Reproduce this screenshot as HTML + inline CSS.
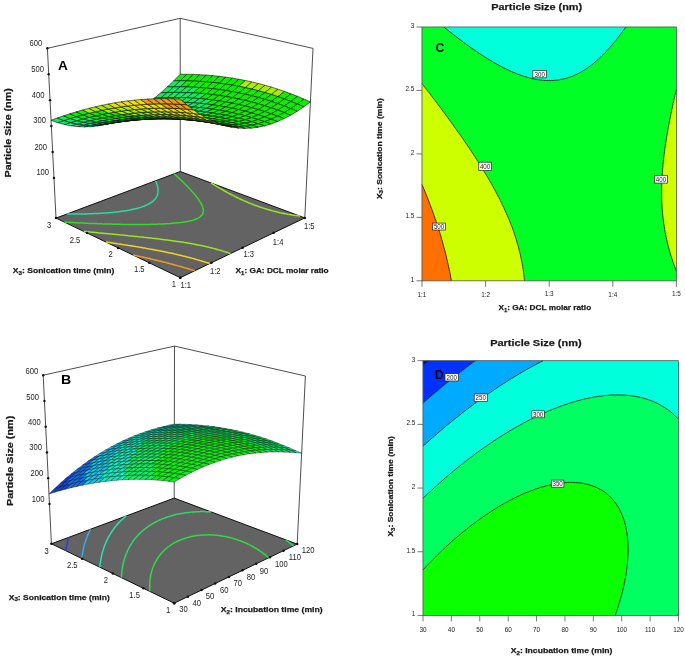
<!DOCTYPE html>
<html><head><meta charset="utf-8"><style>html,body{margin:0;padding:0;background:#fff;}svg{display:block;}</style></head>
<body><svg width="685" height="656" viewBox="0 0 685 656" font-family="Liberation Sans, sans-serif">
<rect width="685" height="656" fill="#fff"/>
<g shape-rendering="geometricPrecision">
<path d="M537.9 79.7L538.8 79.8L540.4 80L542 80.2L543.6 80.4L545.2 80.5L546.8 80.5L548.4 80.6L550 80.6L551.6 80.5L553.2 80.5L554.8 80.3L556.4 80.2L558 80L559.6 79.7L559.9 79.7L561.2 79.4L562.8 79.1L564.4 78.7L566 78.3L566.7 78.1L567.6 77.8L569.2 77.3L570.8 76.8L571.5 76.5L572.4 76.1L574 75.5L575.4 74.9L575.6 74.8L577.2 74L578.7 73.3L578.8 73.2L580.4 72.4L581.6 71.7L582 71.5L583.6 70.5L584.2 70.1L585.2 69.5L586.7 68.5L586.8 68.4L588.4 67.3L589 66.9L590 66.2L591.1 65.3L591.6 65L593.2 63.7L593.2 63.7L594.8 62.4L595.1 62.1L596.4 61L597 60.5L598 59.6L598.7 58.9L599.6 58.1L600.5 57.3L601.2 56.6L602.1 55.7L602.8 55L603.7 54.1L604.4 53.4L605.2 52.5L606 51.8L606.8 50.9L607.6 50L608.2 49.3L609.2 48.3L609.6 47.8L610.8 46.4L611 46.2L612.4 44.6L612.4 44.6L613.7 43L614 42.6L615 41.4L615.6 40.7L616.3 39.8L617.2 38.7L617.6 38.2L618.8 36.6L618.8 36.6L620 35L620.4 34.5L621.2 33.4L622 32.3L622.4 31.8L623.5 30.2L623.6 30.1L624.7 28.6L625.2 27.9L625.8 27L625.2 27L623.6 27L622 27L620.4 27L618.8 27L617.2 27L615.6 27L614 27L612.4 27L610.8 27L609.2 27L607.6 27L606 27L604.4 27L602.8 27L601.2 27L599.6 27L598 27L596.4 27L594.8 27L593.2 27L591.6 27L590 27L588.4 27L586.8 27L585.2 27L583.6 27L582 27L580.4 27L578.8 27L577.2 27L575.6 27L574 27L572.4 27L570.8 27L569.2 27L567.6 27L566 27L564.4 27L562.8 27L561.2 27L559.6 27L558 27L556.4 27L554.8 27L553.2 27L551.6 27L550 27L548.4 27L546.8 27L545.2 27L543.6 27L542 27L540.4 27L538.8 27L537.2 27L535.6 27L534 27L532.4 27L530.8 27L529.2 27L527.6 27L526 27L524.4 27L522.8 27L521.2 27L519.6 27L518 27L516.4 27L514.8 27L513.2 27L511.6 27L510 27L508.4 27L506.8 27L505.2 27L503.6 27L502 27L500.4 27L498.8 27L497.2 27L495.6 27L494 27L492.4 27L490.8 27L489.2 27L487.6 27L486 27L484.4 27L482.8 27L481.2 27L479.6 27L478 27L476.4 27L474.8 27L473.2 27L471.6 27L470 27L468.4 27L466.8 27L465.2 27L463.6 27L462 27L460.4 27L458.8 27L457.2 27L455.6 27L454 27L452.4 27L450.8 27L449.2 27L447.6 27L446 27L444.4 27L443.9 27L444.4 27.4L445.8 28.6L446 28.7L447.6 30L447.8 30.2L449.2 31.3L449.8 31.8L450.8 32.6L451.9 33.4L452.4 33.8L453.9 35L454 35.1L455.6 36.3L456 36.6L457.2 37.5L458.1 38.2L458.8 38.7L460.2 39.8L460.4 40L462 41.2L462.3 41.4L463.6 42.3L464.4 43L465.2 43.5L466.6 44.6L466.8 44.7L468.4 45.8L468.8 46.2L470 47L471.1 47.8L471.6 48.1L473.2 49.2L473.4 49.3L474.8 50.3L475.7 50.9L476.4 51.4L478 52.5L478 52.5L479.6 53.6L480.4 54.1L481.2 54.6L482.8 55.7L482.9 55.7L484.4 56.7L485.4 57.3L486 57.7L487.6 58.7L487.9 58.9L489.2 59.7L490.6 60.5L490.8 60.7L492.4 61.6L493.3 62.1L494 62.5L495.6 63.5L496.1 63.7L497.2 64.4L498.8 65.2L498.9 65.3L500.4 66.1L501.9 66.9L502 66.9L503.6 67.8L505.1 68.5L505.2 68.6L506.8 69.3L508.4 70.1L508.4 70.1L510 70.9L511.6 71.6L511.9 71.7L513.2 72.3L514.8 72.9L515.7 73.3L516.4 73.6L518 74.2L519.6 74.8L519.8 74.9L521.2 75.4L522.8 75.9L524.4 76.4L524.5 76.5L526 76.9L527.6 77.4L529.2 77.8L530.1 78.1L530.8 78.2L532.4 78.6L534 79L535.6 79.3L537.2 79.6Z" fill="#00ffda" stroke="#00ffda" stroke-width="0.3"/>
<path d="M524.4 279.2L524.4 279.3L524.5 280.8L526 280.8L527.6 280.8L529.2 280.8L530.8 280.8L532.4 280.8L534 280.8L535.6 280.8L537.2 280.8L538.8 280.8L540.4 280.8L542 280.8L543.6 280.8L545.2 280.8L546.8 280.8L548.4 280.8L550 280.8L551.6 280.8L553.2 280.8L554.8 280.8L556.4 280.8L558 280.8L559.6 280.8L561.2 280.8L562.8 280.8L564.4 280.8L566 280.8L567.6 280.8L569.2 280.8L570.8 280.8L572.4 280.8L574 280.8L575.6 280.8L577.2 280.8L578.8 280.8L580.4 280.8L582 280.8L583.6 280.8L585.2 280.8L586.8 280.8L588.4 280.8L590 280.8L591.6 280.8L593.2 280.8L594.8 280.8L596.4 280.8L598 280.8L599.6 280.8L601.2 280.8L602.8 280.8L604.4 280.8L606 280.8L607.6 280.8L609.2 280.8L610.8 280.8L612.4 280.8L614 280.8L615.6 280.8L617.2 280.8L618.8 280.8L620.4 280.8L622 280.8L623.6 280.8L625.2 280.8L626.8 280.8L628.4 280.8L630 280.8L631.6 280.8L633.2 280.8L634.8 280.8L636.4 280.8L638 280.8L639.6 280.8L641.2 280.8L642.8 280.8L644.4 280.8L646 280.8L647.6 280.8L649.2 280.8L650.8 280.8L652.4 280.8L654 280.8L655.6 280.8L657.2 280.8L658.8 280.8L660.4 280.8L662 280.8L663.6 280.8L665.2 280.8L666.8 280.8L668.4 280.8L670 280.8L671.6 280.8L673.2 280.8L674.8 280.8L676.4 280.8L676.4 279.2L676.4 277.6L676.4 276L676.4 274.4L676.4 272.8L676.4 271.2L676.4 271.2L675.8 269.6L675.2 268L674.8 267L674.6 266.4L674 264.8L673.4 263.2L673.2 262.5L672.9 261.6L672.4 260L671.8 258.5L671.6 257.7L671.3 256.9L670.8 255.3L670.3 253.7L670 252.5L669.9 252.1L669.4 250.5L669 248.9L668.6 247.3L668.4 246.7L668.1 245.7L667.7 244.1L667.3 242.5L667 240.9L666.8 240.1L666.6 239.3L666.3 237.7L665.9 236.1L665.6 234.5L665.3 232.9L665.2 232.4L665 231.3L664.7 229.7L664.5 228.1L664.2 226.5L664 224.9L663.7 223.3L663.6 222.4L663.5 221.7L663.3 220.1L663.1 218.5L662.9 217L662.8 215.4L662.6 213.8L662.5 212.2L662.3 210.6L662.2 209L662.1 207.4L662 205.8L662 205.4L661.9 204.2L661.9 202.6L661.8 201L661.7 199.4L661.7 197.8L661.7 196.2L661.7 194.6L661.6 193L661.6 191.4L661.7 189.8L661.7 188.2L661.7 186.6L661.7 185L661.8 183.4L661.9 181.8L661.9 180.2L662 178.6L662 178.6L662.1 177L662.2 175.4L662.3 173.9L662.4 172.3L662.5 170.7L662.6 169.1L662.8 167.5L662.9 165.9L663.1 164.3L663.2 162.7L663.4 161.1L663.6 159.5L663.6 159L663.7 157.9L663.9 156.3L664.1 154.7L664.3 153.1L664.5 151.5L664.7 149.9L664.9 148.3L665.2 146.7L665.2 146.5L665.4 145.1L665.6 143.5L665.9 141.9L666.1 140.3L666.4 138.7L666.6 137.1L666.8 136.1L666.9 135.5L667.2 133.9L667.4 132.4L667.7 130.8L668 129.2L668.3 127.6L668.4 126.9L668.6 126L668.9 124.4L669.2 122.8L669.5 121.2L669.8 119.6L670 118.5L670.1 118L670.4 116.4L670.8 114.8L671.1 113.2L671.4 111.6L671.6 110.7L671.7 110L672.1 108.4L672.4 106.8L672.8 105.2L673.1 103.6L673.2 103.3L673.5 102L673.8 100.4L674.2 98.8L674.6 97.2L674.8 96.2L674.9 95.6L675.3 94L675.7 92.4L676 90.8L676.4 89.4L676.4 89.3L676.4 87.7L676.4 86.1L676.4 84.5L676.4 82.9L676.4 81.3L676.4 79.7L676.4 78.1L676.4 76.5L676.4 74.9L676.4 73.3L676.4 71.7L676.4 70.1L676.4 68.5L676.4 66.9L676.4 65.3L676.4 63.7L676.4 62.1L676.4 60.5L676.4 58.9L676.4 57.3L676.4 55.7L676.4 54.1L676.4 52.5L676.4 50.9L676.4 49.3L676.4 47.8L676.4 46.2L676.4 44.6L676.4 43L676.4 41.4L676.4 39.8L676.4 38.2L676.4 36.6L676.4 35L676.4 33.4L676.4 31.8L676.4 30.2L676.4 28.6L676.4 27L674.8 27L673.2 27L671.6 27L670 27L668.4 27L666.8 27L665.2 27L663.6 27L662 27L660.4 27L658.8 27L657.2 27L655.6 27L654 27L652.4 27L650.8 27L649.2 27L647.6 27L646 27L644.4 27L642.8 27L641.2 27L639.6 27L638 27L636.4 27L634.8 27L633.2 27L631.6 27L630 27L628.4 27L626.8 27L625.8 27L625.2 27.9L624.7 28.6L623.6 30.1L623.5 30.2L622.4 31.8L622 32.3L621.2 33.4L620.4 34.5L620 35L618.8 36.6L618.8 36.6L617.6 38.2L617.2 38.7L616.3 39.8L615.6 40.7L615 41.4L614 42.6L613.7 43L612.4 44.6L612.4 44.6L611 46.2L610.8 46.4L609.6 47.8L609.2 48.3L608.2 49.3L607.6 50L606.8 50.9L606 51.8L605.2 52.5L604.4 53.4L603.7 54.1L602.8 55L602.1 55.7L601.2 56.6L600.5 57.3L599.6 58.1L598.7 58.9L598 59.6L597 60.5L596.4 61L595.1 62.1L594.8 62.4L593.2 63.7L593.2 63.7L591.6 65L591.1 65.3L590 66.2L589 66.9L588.4 67.3L586.8 68.4L586.7 68.5L585.2 69.5L584.2 70.1L583.6 70.5L582 71.5L581.6 71.7L580.4 72.4L578.8 73.2L578.7 73.3L577.2 74L575.6 74.8L575.4 74.9L574 75.5L572.4 76.1L571.5 76.5L570.8 76.8L569.2 77.3L567.6 77.8L566.7 78.1L566 78.3L564.4 78.7L562.8 79.1L561.2 79.4L559.9 79.7L559.6 79.7L558 80L556.4 80.2L554.8 80.3L553.2 80.5L551.6 80.5L550 80.6L548.4 80.6L546.8 80.5L545.2 80.5L543.6 80.4L542 80.2L540.4 80L538.8 79.8L537.9 79.7L537.2 79.6L535.6 79.3L534 79L532.4 78.6L530.8 78.2L530.1 78.1L529.2 77.8L527.6 77.4L526 76.9L524.5 76.5L524.4 76.4L522.8 75.9L521.2 75.4L519.8 74.9L519.6 74.8L518 74.2L516.4 73.6L515.7 73.3L514.8 72.9L513.2 72.3L511.9 71.7L511.6 71.6L510 70.9L508.4 70.1L508.4 70.1L506.8 69.3L505.2 68.6L505.1 68.5L503.6 67.8L502 66.9L501.9 66.9L500.4 66.1L498.9 65.3L498.8 65.2L497.2 64.4L496.1 63.7L495.6 63.5L494 62.5L493.3 62.1L492.4 61.6L490.8 60.7L490.6 60.5L489.2 59.7L487.9 58.9L487.6 58.7L486 57.7L485.4 57.3L484.4 56.7L482.9 55.7L482.8 55.7L481.2 54.6L480.4 54.1L479.6 53.6L478 52.5L478 52.5L476.4 51.4L475.7 50.9L474.8 50.3L473.4 49.3L473.2 49.2L471.6 48.1L471.1 47.8L470 47L468.8 46.2L468.4 45.8L466.8 44.7L466.6 44.6L465.2 43.5L464.4 43L463.6 42.3L462.3 41.4L462 41.2L460.4 40L460.2 39.8L458.8 38.7L458.1 38.2L457.2 37.5L456 36.6L455.6 36.3L454 35.1L453.9 35L452.4 33.8L451.9 33.4L450.8 32.6L449.8 31.8L449.2 31.3L447.8 30.2L447.6 30L446 28.7L445.8 28.6L444.4 27.4L443.9 27L442.8 27L441.2 27L439.6 27L438 27L436.4 27L434.8 27L433.2 27L431.6 27L430 27L428.4 27L426.8 27L425.2 27L423.6 27L422 27L422 28.6L422 30.2L422 31.8L422 33.4L422 35L422 36.6L422 38.2L422 39.8L422 41.4L422 43L422 44.6L422 46.2L422 47.8L422 49.3L422 50.9L422 52.5L422 54.1L422 55.7L422 57.3L422 58.9L422 60.5L422 62.1L422 63.7L422 65.3L422 66.9L422 68.5L422 70.1L422 71.7L422 73.3L422 74.9L422 76.5L422 78.1L422 79.7L422 81.3L422 82.9L422 83.6L422.7 84.5L423.6 85.6L423.9 86.1L425.2 87.7L425.2 87.7L426.4 89.3L426.8 89.8L427.6 90.8L428.4 91.8L428.9 92.4L430 93.9L430.1 94L431.3 95.6L431.6 96L432.5 97.2L433.2 98.1L433.7 98.8L434.8 100.2L435 100.4L436.2 102L436.4 102.3L437.4 103.6L438 104.5L438.6 105.2L439.6 106.6L439.8 106.8L441 108.4L441.2 108.7L442.1 110L442.8 110.9L443.3 111.6L444.4 113L444.5 113.2L445.7 114.8L446 115.2L446.9 116.4L447.6 117.4L448 118L449.2 119.6L449.2 119.6L450.4 121.2L450.8 121.8L451.5 122.8L452.4 124L452.7 124.4L453.8 126L454 126.2L455 127.6L455.6 128.5L456.1 129.2L457.2 130.7L457.2 130.8L458.4 132.4L458.8 133L459.5 133.9L460.4 135.2L460.6 135.5L461.7 137.1L462 137.5L462.8 138.7L463.6 139.8L463.9 140.3L465 141.9L465.2 142.2L466.1 143.5L466.8 144.5L467.2 145.1L468.3 146.7L468.4 146.9L469.4 148.3L470 149.3L470.4 149.9L471.5 151.5L471.6 151.7L472.6 153.1L473.2 154.1L473.6 154.7L474.6 156.3L474.8 156.5L475.7 157.9L476.4 159L476.7 159.5L477.7 161.1L478 161.5L478.7 162.7L479.6 164L479.8 164.3L480.8 165.9L481.2 166.6L481.7 167.5L482.7 169.1L482.8 169.2L483.7 170.7L484.4 171.8L484.7 172.3L485.6 173.9L486 174.5L486.6 175.4L487.5 177L487.6 177.2L488.5 178.6L489.2 179.9L489.4 180.2L490.3 181.8L490.8 182.7L491.2 183.4L492.1 185L492.4 185.5L493 186.6L493.9 188.2L494 188.4L494.8 189.8L495.6 191.4L495.6 191.4L496.5 193L497.2 194.4L497.3 194.6L498.1 196.2L498.8 197.5L499 197.8L499.8 199.4L500.4 200.6L500.6 201L501.4 202.6L502 203.9L502.1 204.2L502.9 205.8L503.6 207.2L503.7 207.4L504.4 209L505.1 210.6L505.2 210.7L505.9 212.2L506.6 213.8L506.8 214.3L507.3 215.4L507.9 217L508.4 218L508.6 218.5L509.3 220.1L509.9 221.7L510 222L510.6 223.3L511.2 224.9L511.6 226.1L511.8 226.5L512.4 228.1L513 229.7L513.2 230.4L513.5 231.3L514.1 232.9L514.6 234.5L514.8 235L515.2 236.1L515.7 237.7L516.2 239.3L516.4 240.1L516.7 240.9L517.1 242.5L517.6 244.1L518 245.5L518 245.7L518.5 247.3L518.9 248.9L519.3 250.5L519.6 251.6L519.7 252.1L520.1 253.7L520.5 255.3L520.8 256.9L521.1 258.5L521.2 258.7L521.5 260L521.8 261.6L522.1 263.2L522.4 264.8L522.7 266.4L522.8 267.3L522.9 268L523.2 269.6L523.4 271.2L523.6 272.8L523.8 274.4L524 276L524.2 277.6Z" fill="#00ff24" stroke="#00ff24" stroke-width="0.3"/>
<path d="M451.4 280.8L452.4 280.8L454 280.8L455.6 280.8L457.2 280.8L458.8 280.8L460.4 280.8L462 280.8L463.6 280.8L465.2 280.8L466.8 280.8L468.4 280.8L470 280.8L471.6 280.8L473.2 280.8L474.8 280.8L476.4 280.8L478 280.8L479.6 280.8L481.2 280.8L482.8 280.8L484.4 280.8L486 280.8L487.6 280.8L489.2 280.8L490.8 280.8L492.4 280.8L494 280.8L495.6 280.8L497.2 280.8L498.8 280.8L500.4 280.8L502 280.8L503.6 280.8L505.2 280.8L506.8 280.8L508.4 280.8L510 280.8L511.6 280.8L513.2 280.8L514.8 280.8L516.4 280.8L518 280.8L519.6 280.8L521.2 280.8L522.8 280.8L524.4 280.8L524.5 280.8L524.4 279.3L524.4 279.2L524.2 277.6L524 276L523.8 274.4L523.6 272.8L523.4 271.2L523.2 269.6L522.9 268L522.8 267.3L522.7 266.4L522.4 264.8L522.1 263.2L521.8 261.6L521.5 260L521.2 258.7L521.1 258.5L520.8 256.9L520.5 255.3L520.1 253.7L519.7 252.1L519.6 251.6L519.3 250.5L518.9 248.9L518.5 247.3L518 245.7L518 245.5L517.6 244.1L517.1 242.5L516.7 240.9L516.4 240.1L516.2 239.3L515.7 237.7L515.2 236.1L514.8 235L514.6 234.5L514.1 232.9L513.5 231.3L513.2 230.4L513 229.7L512.4 228.1L511.8 226.5L511.6 226.1L511.2 224.9L510.6 223.3L510 222L509.9 221.7L509.3 220.1L508.6 218.5L508.4 218L507.9 217L507.3 215.4L506.8 214.3L506.6 213.8L505.9 212.2L505.2 210.7L505.1 210.6L504.4 209L503.7 207.4L503.6 207.2L502.9 205.8L502.1 204.2L502 203.9L501.4 202.6L500.6 201L500.4 200.6L499.8 199.4L499 197.8L498.8 197.5L498.1 196.2L497.3 194.6L497.2 194.4L496.5 193L495.6 191.4L495.6 191.4L494.8 189.8L494 188.4L493.9 188.2L493 186.6L492.4 185.5L492.1 185L491.2 183.4L490.8 182.7L490.3 181.8L489.4 180.2L489.2 179.9L488.5 178.6L487.6 177.2L487.5 177L486.6 175.4L486 174.5L485.6 173.9L484.7 172.3L484.4 171.8L483.7 170.7L482.8 169.2L482.7 169.1L481.7 167.5L481.2 166.6L480.8 165.9L479.8 164.3L479.6 164L478.7 162.7L478 161.5L477.7 161.1L476.7 159.5L476.4 159L475.7 157.9L474.8 156.5L474.6 156.3L473.6 154.7L473.2 154.1L472.6 153.1L471.6 151.7L471.5 151.5L470.4 149.9L470 149.3L469.4 148.3L468.4 146.9L468.3 146.7L467.2 145.1L466.8 144.5L466.1 143.5L465.2 142.2L465 141.9L463.9 140.3L463.6 139.8L462.8 138.7L462 137.5L461.7 137.1L460.6 135.5L460.4 135.2L459.5 133.9L458.8 133L458.4 132.4L457.2 130.8L457.2 130.7L456.1 129.2L455.6 128.5L455 127.6L454 126.2L453.8 126L452.7 124.4L452.4 124L451.5 122.8L450.8 121.8L450.4 121.2L449.2 119.6L449.2 119.6L448 118L447.6 117.4L446.9 116.4L446 115.2L445.7 114.8L444.5 113.2L444.4 113L443.3 111.6L442.8 110.9L442.1 110L441.2 108.7L441 108.4L439.8 106.8L439.6 106.6L438.6 105.2L438 104.5L437.4 103.6L436.4 102.3L436.2 102L435 100.4L434.8 100.2L433.7 98.8L433.2 98.1L432.5 97.2L431.6 96L431.3 95.6L430.1 94L430 93.9L428.9 92.4L428.4 91.8L427.6 90.8L426.8 89.8L426.4 89.3L425.2 87.7L425.2 87.7L423.9 86.1L423.6 85.6L422.7 84.5L422 83.6L422 84.5L422 86.1L422 87.7L422 89.3L422 90.8L422 92.4L422 94L422 95.6L422 97.2L422 98.8L422 100.4L422 102L422 103.6L422 105.2L422 106.8L422 108.4L422 110L422 111.6L422 113.2L422 114.8L422 116.4L422 118L422 119.6L422 121.2L422 122.8L422 124.4L422 126L422 127.6L422 129.2L422 130.8L422 132.4L422 133.9L422 135.5L422 137.1L422 138.7L422 140.3L422 141.9L422 143.5L422 145.1L422 146.7L422 148.3L422 149.9L422 151.5L422 153.1L422 154.7L422 156.3L422 157.9L422 159.5L422 161.1L422 162.7L422 164.3L422 165.9L422 167.5L422 169.1L422 170.7L422 172.3L422 173.9L422 175.4L422 177L422 178.6L422 180.2L422 181.8L422 183.4L422 184.6L422.2 185L422.9 186.6L423.5 188.2L423.6 188.3L424.2 189.8L424.9 191.4L425.2 192.2L425.5 193L426.2 194.6L426.8 196.1L426.8 196.2L427.5 197.8L428.1 199.4L428.4 200.2L428.7 201L429.3 202.6L429.9 204.2L430 204.4L430.5 205.8L431.1 207.4L431.6 208.6L431.7 209L432.3 210.6L432.9 212.2L433.2 213L433.5 213.8L434 215.4L434.6 217L434.8 217.6L435.1 218.5L435.7 220.1L436.2 221.7L436.4 222.3L436.7 223.3L437.3 224.9L437.8 226.5L438 227.2L438.3 228.1L438.8 229.7L439.3 231.3L439.6 232.3L439.8 232.9L440.3 234.5L440.8 236.1L441.2 237.6L441.2 237.7L441.7 239.3L442.2 240.9L442.6 242.5L442.8 243.2L443 244.1L443.5 245.7L443.9 247.3L444.3 248.9L444.4 249.1L444.8 250.5L445.2 252.1L445.6 253.7L446 255.3L446 255.4L446.4 256.9L446.7 258.5L447.1 260L447.5 261.6L447.6 262.2L447.8 263.2L448.2 264.8L448.5 266.4L448.9 268L449.2 269.5L449.2 269.6L449.6 271.2L449.9 272.8L450.2 274.4L450.5 276L450.8 277.6L450.8 277.6L451.1 279.2ZM676.4 271.2L676.4 271.2L676.4 271.2L676.4 269.6L676.4 268L676.4 266.4L676.4 264.8L676.4 263.2L676.4 261.6L676.4 260L676.4 258.5L676.4 256.9L676.4 255.3L676.4 253.7L676.4 252.1L676.4 250.5L676.4 248.9L676.4 247.3L676.4 245.7L676.4 244.1L676.4 242.5L676.4 240.9L676.4 239.3L676.4 237.7L676.4 236.1L676.4 234.5L676.4 232.9L676.4 231.3L676.4 229.7L676.4 228.1L676.4 226.5L676.4 224.9L676.4 223.3L676.4 221.7L676.4 220.1L676.4 218.5L676.4 217L676.4 215.4L676.4 213.8L676.4 212.2L676.4 210.6L676.4 209L676.4 207.4L676.4 205.8L676.4 204.2L676.4 202.6L676.4 201L676.4 199.4L676.4 197.8L676.4 196.2L676.4 194.6L676.4 193L676.4 191.4L676.4 189.8L676.4 188.2L676.4 186.6L676.4 185L676.4 183.4L676.4 181.8L676.4 180.2L676.4 178.6L676.4 177L676.4 175.4L676.4 173.9L676.4 172.3L676.4 170.7L676.4 169.1L676.4 167.5L676.4 165.9L676.4 164.3L676.4 162.7L676.4 161.1L676.4 159.5L676.4 157.9L676.4 156.3L676.4 154.7L676.4 153.1L676.4 151.5L676.4 149.9L676.4 148.3L676.4 146.7L676.4 145.1L676.4 143.5L676.4 141.9L676.4 140.3L676.4 138.7L676.4 137.1L676.4 135.5L676.4 133.9L676.4 132.4L676.4 130.8L676.4 129.2L676.4 127.6L676.4 126L676.4 124.4L676.4 122.8L676.4 121.2L676.4 119.6L676.4 118L676.4 116.4L676.4 114.8L676.4 113.2L676.4 111.6L676.4 110L676.4 108.4L676.4 106.8L676.4 105.2L676.4 103.6L676.4 102L676.4 100.4L676.4 98.8L676.4 97.2L676.4 95.6L676.4 94L676.4 92.4L676.4 90.8L676.4 89.4L676 90.8L675.7 92.4L675.3 94L674.9 95.6L674.8 96.2L674.6 97.2L674.2 98.8L673.8 100.4L673.5 102L673.2 103.3L673.1 103.6L672.8 105.2L672.4 106.8L672.1 108.4L671.7 110L671.6 110.7L671.4 111.6L671.1 113.2L670.8 114.8L670.4 116.4L670.1 118L670 118.5L669.8 119.6L669.5 121.2L669.2 122.8L668.9 124.4L668.6 126L668.4 126.9L668.3 127.6L668 129.2L667.7 130.8L667.4 132.4L667.2 133.9L666.9 135.5L666.8 136.1L666.6 137.1L666.4 138.7L666.1 140.3L665.9 141.9L665.6 143.5L665.4 145.1L665.2 146.5L665.2 146.7L664.9 148.3L664.7 149.9L664.5 151.5L664.3 153.1L664.1 154.7L663.9 156.3L663.7 157.9L663.6 159L663.6 159.5L663.4 161.1L663.2 162.7L663.1 164.3L662.9 165.9L662.8 167.5L662.6 169.1L662.5 170.7L662.4 172.3L662.3 173.9L662.2 175.4L662.1 177L662 178.6L662 178.6L661.9 180.2L661.9 181.8L661.8 183.4L661.7 185L661.7 186.6L661.7 188.2L661.7 189.8L661.6 191.4L661.6 193L661.7 194.6L661.7 196.2L661.7 197.8L661.7 199.4L661.8 201L661.9 202.6L661.9 204.2L662 205.4L662 205.8L662.1 207.4L662.2 209L662.3 210.6L662.5 212.2L662.6 213.8L662.8 215.4L662.9 217L663.1 218.5L663.3 220.1L663.5 221.7L663.6 222.4L663.7 223.3L664 224.9L664.2 226.5L664.5 228.1L664.7 229.7L665 231.3L665.2 232.4L665.3 232.9L665.6 234.5L665.9 236.1L666.3 237.7L666.6 239.3L666.8 240.1L667 240.9L667.3 242.5L667.7 244.1L668.1 245.7L668.4 246.7L668.6 247.3L669 248.9L669.4 250.5L669.9 252.1L670 252.5L670.3 253.7L670.8 255.3L671.3 256.9L671.6 257.7L671.8 258.5L672.4 260L672.9 261.6L673.2 262.5L673.4 263.2L674 264.8L674.6 266.4L674.8 267L675.2 268L675.8 269.6Z" fill="#ceff00" stroke="#ceff00" stroke-width="0.3"/>
<path d="M422 280.8L423.6 280.8L425.2 280.8L426.8 280.8L428.4 280.8L430 280.8L431.6 280.8L433.2 280.8L434.8 280.8L436.4 280.8L438 280.8L439.6 280.8L441.2 280.8L442.8 280.8L444.4 280.8L446 280.8L447.6 280.8L449.2 280.8L450.8 280.8L451.4 280.8L451.1 279.2L450.8 277.6L450.8 277.6L450.5 276L450.2 274.4L449.9 272.8L449.6 271.2L449.2 269.6L449.2 269.5L448.9 268L448.5 266.4L448.2 264.8L447.8 263.2L447.6 262.2L447.5 261.6L447.1 260L446.7 258.5L446.4 256.9L446 255.4L446 255.3L445.6 253.7L445.2 252.1L444.8 250.5L444.4 249.1L444.3 248.9L443.9 247.3L443.5 245.7L443 244.1L442.8 243.2L442.6 242.5L442.2 240.9L441.7 239.3L441.2 237.7L441.2 237.6L440.8 236.1L440.3 234.5L439.8 232.9L439.6 232.3L439.3 231.3L438.8 229.7L438.3 228.1L438 227.2L437.8 226.5L437.3 224.9L436.7 223.3L436.4 222.3L436.2 221.7L435.7 220.1L435.1 218.5L434.8 217.6L434.6 217L434 215.4L433.5 213.8L433.2 213L432.9 212.2L432.3 210.6L431.7 209L431.6 208.6L431.1 207.4L430.5 205.8L430 204.4L429.9 204.2L429.3 202.6L428.7 201L428.4 200.2L428.1 199.4L427.5 197.8L426.8 196.2L426.8 196.1L426.2 194.6L425.5 193L425.2 192.2L424.9 191.4L424.2 189.8L423.6 188.3L423.5 188.2L422.9 186.6L422.2 185L422 184.6L422 185L422 186.6L422 188.2L422 189.8L422 191.4L422 193L422 194.6L422 196.2L422 197.8L422 199.4L422 201L422 202.6L422 204.2L422 205.8L422 207.4L422 209L422 210.6L422 212.2L422 213.8L422 215.4L422 217L422 218.5L422 220.1L422 221.7L422 223.3L422 224.9L422 226.5L422 228.1L422 229.7L422 231.3L422 232.9L422 234.5L422 236.1L422 237.7L422 239.3L422 240.9L422 242.5L422 244.1L422 245.7L422 247.3L422 248.9L422 250.5L422 252.1L422 253.7L422 255.3L422 256.9L422 258.5L422 260L422 261.6L422 263.2L422 264.8L422 266.4L422 268L422 269.6L422 271.2L422 272.8L422 274.4L422 276L422 277.6L422 279.2Z" fill="#ff7000" stroke="#ff7000" stroke-width="0.3"/>
<path d="M625.8 27 L625.2 27.9 L624.7 28.6 L623.6 30.1 L623.5 30.2 L622.4 31.8 L622 32.3 L621.2 33.4 L620.4 34.5 L620 35 L618.8 36.6 L618.8 36.6 L617.6 38.2 L617.2 38.7 L616.3 39.8 L615.6 40.7 L615 41.4 L614 42.6 L613.7 43 L612.4 44.6 L612.4 44.6 L611 46.2 L610.8 46.4 L609.6 47.8 L609.2 48.3 L608.2 49.3 L607.6 50 L606.8 50.9 L606 51.8 L605.2 52.5 L604.4 53.4 L603.7 54.1 L602.8 55 L602.1 55.7 L601.2 56.6 L600.5 57.3 L599.6 58.1 L598.7 58.9 L598 59.6 L597 60.5 L596.4 61 L595.1 62.1 L594.8 62.4 L593.2 63.7 L593.2 63.7 L591.6 65 L591.1 65.3 L590 66.2 L589 66.9 L588.4 67.3 L586.8 68.4 L586.7 68.5 L585.2 69.5 L584.2 70.1 L583.6 70.5 L582 71.5 L581.6 71.7 L580.4 72.4 L578.8 73.2 L578.7 73.3 L577.2 74 L575.6 74.8 L575.4 74.9 L574 75.5 L572.4 76.1 L571.5 76.5 L570.8 76.8 L569.2 77.3 L567.6 77.8 L566.7 78.1 L566 78.3 L564.4 78.7 L562.8 79.1 L561.2 79.4 L559.9 79.7 L559.6 79.7 L558 80 L556.4 80.2 L554.8 80.3 L553.2 80.5 L551.6 80.5 L550 80.6 L548.4 80.6 L546.8 80.5 L545.2 80.5 L543.6 80.4 L542 80.2 L540.4 80 L538.8 79.8 L537.9 79.7 L537.2 79.6 L535.6 79.3 L534 79 L532.4 78.6 L530.8 78.2 L530.1 78.1 L529.2 77.8 L527.6 77.4 L526 76.9 L524.5 76.5 L524.4 76.4 L522.8 75.9 L521.2 75.4 L519.8 74.9 L519.6 74.8 L518 74.2 L516.4 73.6 L515.7 73.3 L514.8 72.9 L513.2 72.3 L511.9 71.7 L511.6 71.6 L510 70.9 L508.4 70.1 L508.4 70.1 L506.8 69.3 L505.2 68.6 L505.1 68.5 L503.6 67.8 L502 66.9 L501.9 66.9 L500.4 66.1 L498.9 65.3 L498.8 65.2 L497.2 64.4 L496.1 63.7 L495.6 63.5 L494 62.5 L493.3 62.1 L492.4 61.6 L490.8 60.7 L490.6 60.5 L489.2 59.7 L487.9 58.9 L487.6 58.7 L486 57.7 L485.4 57.3 L484.4 56.7 L482.9 55.7 L482.8 55.7 L481.2 54.6 L480.4 54.1 L479.6 53.6 L478 52.5 L478 52.5 L476.4 51.4 L475.7 50.9 L474.8 50.3 L473.4 49.3 L473.2 49.2 L471.6 48.1 L471.1 47.8 L470 47 L468.8 46.2 L468.4 45.8 L466.8 44.7 L466.6 44.6 L465.2 43.5 L464.4 43 L463.6 42.3 L462.3 41.4 L462 41.2 L460.4 40 L460.2 39.8 L458.8 38.7 L458.1 38.2 L457.2 37.5 L456 36.6 L455.6 36.3 L454 35.1 L453.9 35 L452.4 33.8 L451.9 33.4 L450.8 32.6 L449.8 31.8 L449.2 31.3 L447.8 30.2 L447.6 30 L446 28.7 L445.8 28.6 L444.4 27.4 L443.9 27" fill="none" stroke="#1a1a1a" stroke-width="0.85"/>
<path d="M524.5 280.8 L524.4 279.3 L524.4 279.2 L524.2 277.6 L524 276 L523.8 274.4 L523.6 272.8 L523.4 271.2 L523.2 269.6 L522.9 268 L522.8 267.3 L522.7 266.4 L522.4 264.8 L522.1 263.2 L521.8 261.6 L521.5 260 L521.2 258.7 L521.1 258.5 L520.8 256.9 L520.5 255.3 L520.1 253.7 L519.7 252.1 L519.6 251.6 L519.3 250.5 L518.9 248.9 L518.5 247.3 L518 245.7 L518 245.5 L517.6 244.1 L517.1 242.5 L516.7 240.9 L516.4 240.1 L516.2 239.3 L515.7 237.7 L515.2 236.1 L514.8 235 L514.6 234.5 L514.1 232.9 L513.5 231.3 L513.2 230.4 L513 229.7 L512.4 228.1 L511.8 226.5 L511.6 226.1 L511.2 224.9 L510.6 223.3 L510 222 L509.9 221.7 L509.3 220.1 L508.6 218.5 L508.4 218 L507.9 217 L507.3 215.4 L506.8 214.3 L506.6 213.8 L505.9 212.2 L505.2 210.7 L505.1 210.6 L504.4 209 L503.7 207.4 L503.6 207.2 L502.9 205.8 L502.1 204.2 L502 203.9 L501.4 202.6 L500.6 201 L500.4 200.6 L499.8 199.4 L499 197.8 L498.8 197.5 L498.1 196.2 L497.3 194.6 L497.2 194.4 L496.5 193 L495.6 191.4 L495.6 191.4 L494.8 189.8 L494 188.4 L493.9 188.2 L493 186.6 L492.4 185.5 L492.1 185 L491.2 183.4 L490.8 182.7 L490.3 181.8 L489.4 180.2 L489.2 179.9 L488.5 178.6 L487.6 177.2 L487.5 177 L486.6 175.4 L486 174.5 L485.6 173.9 L484.7 172.3 L484.4 171.8 L483.7 170.7 L482.8 169.2 L482.7 169.1 L481.7 167.5 L481.2 166.6 L480.8 165.9 L479.8 164.3 L479.6 164 L478.7 162.7 L478 161.5 L477.7 161.1 L476.7 159.5 L476.4 159 L475.7 157.9 L474.8 156.5 L474.6 156.3 L473.6 154.7 L473.2 154.1 L472.6 153.1 L471.6 151.7 L471.5 151.5 L470.4 149.9 L470 149.3 L469.4 148.3 L468.4 146.9 L468.3 146.7 L467.2 145.1 L466.8 144.5 L466.1 143.5 L465.2 142.2 L465 141.9 L463.9 140.3 L463.6 139.8 L462.8 138.7 L462 137.5 L461.7 137.1 L460.6 135.5 L460.4 135.2 L459.5 133.9 L458.8 133 L458.4 132.4 L457.2 130.8 L457.2 130.7 L456.1 129.2 L455.6 128.5 L455 127.6 L454 126.2 L453.8 126 L452.7 124.4 L452.4 124 L451.5 122.8 L450.8 121.8 L450.4 121.2 L449.2 119.6 L449.2 119.6 L448 118 L447.6 117.4 L446.9 116.4 L446 115.2 L445.7 114.8 L444.5 113.2 L444.4 113 L443.3 111.6 L442.8 110.9 L442.1 110 L441.2 108.7 L441 108.4 L439.8 106.8 L439.6 106.6 L438.6 105.2 L438 104.5 L437.4 103.6 L436.4 102.3 L436.2 102 L435 100.4 L434.8 100.2 L433.7 98.8 L433.2 98.1 L432.5 97.2 L431.6 96 L431.3 95.6 L430.1 94 L430 93.9 L428.9 92.4 L428.4 91.8 L427.6 90.8 L426.8 89.8 L426.4 89.3 L425.2 87.7 L425.2 87.7 L423.9 86.1 L423.6 85.6 L422.7 84.5 L422 83.6" fill="none" stroke="#1a1a1a" stroke-width="0.85"/>
<path d="M676.4 89.4 L676 90.8 L675.7 92.4 L675.3 94 L674.9 95.6 L674.8 96.2 L674.6 97.2 L674.2 98.8 L673.8 100.4 L673.5 102 L673.2 103.3 L673.1 103.6 L672.8 105.2 L672.4 106.8 L672.1 108.4 L671.7 110 L671.6 110.7 L671.4 111.6 L671.1 113.2 L670.8 114.8 L670.4 116.4 L670.1 118 L670 118.5 L669.8 119.6 L669.5 121.2 L669.2 122.8 L668.9 124.4 L668.6 126 L668.4 126.9 L668.3 127.6 L668 129.2 L667.7 130.8 L667.4 132.4 L667.2 133.9 L666.9 135.5 L666.8 136.1 L666.6 137.1 L666.4 138.7 L666.1 140.3 L665.9 141.9 L665.6 143.5 L665.4 145.1 L665.2 146.5 L665.2 146.7 L664.9 148.3 L664.7 149.9 L664.5 151.5 L664.3 153.1 L664.1 154.7 L663.9 156.3 L663.7 157.9 L663.6 159 L663.6 159.5 L663.4 161.1 L663.2 162.7 L663.1 164.3 L662.9 165.9 L662.8 167.5 L662.6 169.1 L662.5 170.7 L662.4 172.3 L662.3 173.9 L662.2 175.4 L662.1 177 L662 178.6 L662 178.6 L661.9 180.2 L661.9 181.8 L661.8 183.4 L661.7 185 L661.7 186.6 L661.7 188.2 L661.7 189.8 L661.6 191.4 L661.6 193 L661.7 194.6 L661.7 196.2 L661.7 197.8 L661.7 199.4 L661.8 201 L661.9 202.6 L661.9 204.2 L662 205.4 L662 205.8 L662.1 207.4 L662.2 209 L662.3 210.6 L662.5 212.2 L662.6 213.8 L662.8 215.4 L662.9 217 L663.1 218.5 L663.3 220.1 L663.5 221.7 L663.6 222.4 L663.7 223.3 L664 224.9 L664.2 226.5 L664.5 228.1 L664.7 229.7 L665 231.3 L665.2 232.4 L665.3 232.9 L665.6 234.5 L665.9 236.1 L666.3 237.7 L666.6 239.3 L666.8 240.1 L667 240.9 L667.3 242.5 L667.7 244.1 L668.1 245.7 L668.4 246.7 L668.6 247.3 L669 248.9 L669.4 250.5 L669.9 252.1 L670 252.5 L670.3 253.7 L670.8 255.3 L671.3 256.9 L671.6 257.7 L671.8 258.5 L672.4 260 L672.9 261.6 L673.2 262.5 L673.4 263.2 L674 264.8 L674.6 266.4 L674.8 267 L675.2 268 L675.8 269.6 L676.4 271.2 L676.4 271.2" fill="none" stroke="#1a1a1a" stroke-width="0.85"/>
<path d="M451.4 280.8 L451.1 279.2 L450.8 277.6 L450.8 277.6 L450.5 276 L450.2 274.4 L449.9 272.8 L449.6 271.2 L449.2 269.6 L449.2 269.5 L448.9 268 L448.5 266.4 L448.2 264.8 L447.8 263.2 L447.6 262.2 L447.5 261.6 L447.1 260 L446.7 258.5 L446.4 256.9 L446 255.4 L446 255.3 L445.6 253.7 L445.2 252.1 L444.8 250.5 L444.4 249.1 L444.3 248.9 L443.9 247.3 L443.5 245.7 L443 244.1 L442.8 243.2 L442.6 242.5 L442.2 240.9 L441.7 239.3 L441.2 237.7 L441.2 237.6 L440.8 236.1 L440.3 234.5 L439.8 232.9 L439.6 232.3 L439.3 231.3 L438.8 229.7 L438.3 228.1 L438 227.2 L437.8 226.5 L437.3 224.9 L436.7 223.3 L436.4 222.3 L436.2 221.7 L435.7 220.1 L435.1 218.5 L434.8 217.6 L434.6 217 L434 215.4 L433.5 213.8 L433.2 213 L432.9 212.2 L432.3 210.6 L431.7 209 L431.6 208.6 L431.1 207.4 L430.5 205.8 L430 204.4 L429.9 204.2 L429.3 202.6 L428.7 201 L428.4 200.2 L428.1 199.4 L427.5 197.8 L426.8 196.2 L426.8 196.1 L426.2 194.6 L425.5 193 L425.2 192.2 L424.9 191.4 L424.2 189.8 L423.6 188.3 L423.5 188.2 L422.9 186.6 L422.2 185 L422 184.6" fill="none" stroke="#1a1a1a" stroke-width="0.85"/>
</g>
<rect x="422.0" y="27.0" width="254.4" height="253.8" fill="none" stroke="#555" stroke-width="0.8"/>
<line x1="416.5" y1="280.8" x2="422.0" y2="280.8" stroke="#555" stroke-width="0.8"/>
<line x1="416.5" y1="217.35" x2="422.0" y2="217.35" stroke="#555" stroke-width="0.8"/>
<line x1="416.5" y1="153.9" x2="422.0" y2="153.9" stroke="#555" stroke-width="0.8"/>
<line x1="416.5" y1="90.45" x2="422.0" y2="90.45" stroke="#555" stroke-width="0.8"/>
<line x1="416.5" y1="27" x2="422.0" y2="27" stroke="#555" stroke-width="0.8"/>
<line x1="422" y1="280.8" x2="422" y2="286.8" stroke="#555" stroke-width="0.8"/>
<line x1="485.6" y1="280.8" x2="485.6" y2="286.8" stroke="#555" stroke-width="0.8"/>
<line x1="549.2" y1="280.8" x2="549.2" y2="286.8" stroke="#555" stroke-width="0.8"/>
<line x1="612.8" y1="280.8" x2="612.8" y2="286.8" stroke="#555" stroke-width="0.8"/>
<line x1="676.4" y1="280.8" x2="676.4" y2="286.8" stroke="#555" stroke-width="0.8"/>
<rect x="532.8" y="70.5" width="13.8" height="7.3" fill="#fff" stroke="#222" stroke-width="0.7"/>
<rect x="478.8" y="162.2" width="12.5" height="8.4" fill="#fff" stroke="#222" stroke-width="0.7"/>
<rect x="432.5" y="223.1" width="13.1" height="6.9" fill="#fff" stroke="#222" stroke-width="0.7"/>
<rect x="654.4" y="175.3" width="13.1" height="7.8" fill="#fff" stroke="#222" stroke-width="0.7"/>
<g shape-rendering="geometricPrecision">
<path d="M423 365.5L423 365.6L423.1 365.5L424.6 364.2L425 363.9L426.2 362.8L426.8 362.3L427.8 361.4L428.7 360.7L427.8 360.7L426.2 360.7L424.6 360.7L423 360.7L423 362.3L423 363.9Z" fill="#0000ff" stroke="#0000ff" stroke-width="0.3"/>
<path d="M423 402.3L423 403.2L423.9 402.3L424.6 401.7L425.7 400.7L426.2 400.3L427.6 399.1L427.8 398.9L429.4 397.5L429.4 397.5L431 396.1L431.3 395.9L432.6 394.7L433.1 394.3L434.2 393.4L435 392.7L435.9 392L436.9 391.1L437.5 390.6L438.8 389.5L439.1 389.3L440.7 387.9L440.7 387.9L442.3 386.6L442.6 386.3L443.9 385.3L444.6 384.7L445.5 384L446.5 383.1L447.1 382.6L448.5 381.5L448.7 381.3L450.3 380L450.4 379.9L451.9 378.7L452.4 378.3L453.5 377.4L454.4 376.7L455.1 376.2L456.5 375.1L456.7 374.9L458.4 373.6L458.5 373.5L460 372.4L460.6 371.9L461.6 371.1L462.6 370.3L463.2 369.9L464.7 368.7L464.8 368.6L466.4 367.4L466.8 367.1L468 366.2L468.9 365.5L469.6 365L471 363.9L471.2 363.8L472.8 362.6L473.2 362.3L474.4 361.4L475.4 360.7L474.4 360.7L472.8 360.7L471.2 360.7L469.6 360.7L468 360.7L466.4 360.7L464.8 360.7L463.2 360.7L461.6 360.7L460 360.7L458.4 360.7L456.7 360.7L455.1 360.7L453.5 360.7L451.9 360.7L450.3 360.7L448.7 360.7L447.1 360.7L445.5 360.7L443.9 360.7L442.3 360.7L440.7 360.7L439.1 360.7L437.5 360.7L435.9 360.7L434.2 360.7L432.6 360.7L431 360.7L429.4 360.7L428.7 360.7L427.8 361.4L426.8 362.3L426.2 362.8L425 363.9L424.6 364.2L423.1 365.5L423 365.6L423 367.1L423 368.7L423 370.3L423 371.9L423 373.5L423 375.1L423 376.7L423 378.3L423 379.9L423 381.5L423 383.1L423 384.7L423 386.3L423 387.9L423 389.5L423 391.1L423 392.7L423 394.3L423 395.9L423 397.5L423 399.1L423 400.7Z" fill="#0031ff" stroke="#0031ff" stroke-width="0.3"/>
<path d="M423 445.6L423 446.2L423.7 445.6L424.6 444.8L425.4 444L426.2 443.3L427.2 442.4L427.8 441.9L429 440.8L429.4 440.4L430.8 439.2L431 439L432.6 437.6L432.6 437.6L434.2 436.2L434.5 436L435.9 434.8L436.3 434.4L437.5 433.4L438.2 432.8L439.1 432L440 431.2L440.7 430.6L441.9 429.6L442.3 429.3L443.8 428L443.9 427.9L445.5 426.6L445.7 426.4L447.1 425.2L447.6 424.8L448.7 423.9L449.6 423.2L450.3 422.6L451.5 421.6L451.9 421.3L453.5 420L453.5 419.9L455.1 418.6L455.5 418.4L456.7 417.4L457.5 416.8L458.4 416.1L459.5 415.2L460 414.8L461.5 413.6L461.6 413.5L463.2 412.3L463.6 412L464.8 411.1L465.7 410.4L466.4 409.8L467.8 408.8L468 408.6L469.6 407.4L469.9 407.2L471.2 406.2L472 405.6L472.8 405L474.2 404L474.4 403.8L476 402.6L476.3 402.3L477.6 401.4L478.5 400.7L479.2 400.2L480.7 399.1L480.8 399.1L482.5 397.9L483 397.5L484.1 396.8L485.2 395.9L485.7 395.6L487.3 394.5L487.5 394.3L488.9 393.4L489.8 392.7L490.5 392.3L492.1 391.2L492.2 391.1L493.7 390.1L494.5 389.5L495.3 389L496.9 387.9L496.9 387.9L498.5 386.9L499.3 386.3L500.1 385.8L501.7 384.7L501.8 384.7L503.3 383.7L504.2 383.1L505 382.7L506.6 381.6L506.8 381.5L508.2 380.6L509.3 379.9L509.8 379.6L511.4 378.6L511.9 378.3L513 377.6L514.5 376.7L514.6 376.7L516.2 375.7L517.1 375.1L517.8 374.7L519.4 373.8L519.8 373.5L521 372.8L522.6 371.9L522.6 371.9L524.2 370.9L525.3 370.3L525.8 370L527.4 369.1L528.2 368.7L529.1 368.2L530.7 367.3L531 367.1L532.3 366.4L533.9 365.6L534 365.5L535.5 364.7L537 363.9L537.1 363.8L538.7 363L540 362.3L540.3 362.1L541.9 361.3L543.1 360.7L541.9 360.7L540.3 360.7L538.7 360.7L537.1 360.7L535.5 360.7L533.9 360.7L532.3 360.7L530.7 360.7L529.1 360.7L527.4 360.7L525.8 360.7L524.2 360.7L522.6 360.7L521 360.7L519.4 360.7L517.8 360.7L516.2 360.7L514.6 360.7L513 360.7L511.4 360.7L509.8 360.7L508.2 360.7L506.6 360.7L505 360.7L503.3 360.7L501.7 360.7L500.1 360.7L498.5 360.7L496.9 360.7L495.3 360.7L493.7 360.7L492.1 360.7L490.5 360.7L488.9 360.7L487.3 360.7L485.7 360.7L484.1 360.7L482.5 360.7L480.8 360.7L479.2 360.7L477.6 360.7L476 360.7L475.4 360.7L474.4 361.4L473.2 362.3L472.8 362.6L471.2 363.8L471 363.9L469.6 365L468.9 365.5L468 366.2L466.8 367.1L466.4 367.4L464.8 368.6L464.7 368.7L463.2 369.9L462.6 370.3L461.6 371.1L460.6 371.9L460 372.4L458.5 373.5L458.4 373.6L456.7 374.9L456.5 375.1L455.1 376.2L454.4 376.7L453.5 377.4L452.4 378.3L451.9 378.7L450.4 379.9L450.3 380L448.7 381.3L448.5 381.5L447.1 382.6L446.5 383.1L445.5 384L444.6 384.7L443.9 385.3L442.6 386.3L442.3 386.6L440.7 387.9L440.7 387.9L439.1 389.3L438.8 389.5L437.5 390.6L436.9 391.1L435.9 392L435 392.7L434.2 393.4L433.1 394.3L432.6 394.7L431.3 395.9L431 396.1L429.4 397.5L429.4 397.5L427.8 398.9L427.6 399.1L426.2 400.3L425.7 400.7L424.6 401.7L423.9 402.3L423 403.2L423 404L423 405.6L423 407.2L423 408.8L423 410.4L423 412L423 413.6L423 415.2L423 416.8L423 418.4L423 420L423 421.6L423 423.2L423 424.8L423 426.4L423 428L423 429.6L423 431.2L423 432.8L423 434.4L423 436L423 437.6L423 439.2L423 440.8L423 442.4L423 444Z" fill="#00aaff" stroke="#00aaff" stroke-width="0.3"/>
<path d="M677.9 615.4L678.5 615.4L678.5 613.8L678.5 613.5L678.4 613.8ZM423 496.9L423 498.3L424.5 496.9L424.6 496.8L426.2 495.3L426.2 495.2L427.8 493.7L427.9 493.7L429.4 492.2L429.6 492.1L431 490.7L431.3 490.5L432.6 489.3L433.1 488.9L434.2 487.8L434.8 487.2L435.9 486.3L436.6 485.6L437.5 484.9L438.4 484L439.1 483.5L440.2 482.4L440.7 482L442 480.8L442.3 480.6L443.9 479.2L443.9 479.2L445.5 477.8L445.7 477.6L447.1 476.4L447.6 476L448.7 475.1L449.5 474.4L450.3 473.7L451.4 472.8L451.9 472.4L453.3 471.2L453.5 471L455.1 469.7L455.2 469.6L456.7 468.4L457.2 468L458.4 467.1L459.2 466.4L460 465.8L461.2 464.8L461.6 464.5L463.2 463.2L463.2 463.2L464.8 462L465.2 461.6L466.4 460.7L467.3 460L468 459.5L469.4 458.4L469.6 458.3L471.2 457L471.5 456.8L472.8 455.8L473.6 455.2L474.4 454.6L475.8 453.6L476 453.4L477.6 452.3L478 452L479.2 451.1L480.2 450.4L480.8 449.9L482.4 448.8L482.5 448.8L484.1 447.7L484.7 447.2L485.7 446.5L487 445.6L487.3 445.4L488.9 444.3L489.3 444L490.5 443.2L491.7 442.4L492.1 442.1L493.7 441.1L494.1 440.8L495.3 440L496.5 439.2L496.9 438.9L498.5 437.9L499 437.6L500.1 436.9L501.5 436L501.7 435.9L503.3 434.8L504.1 434.4L505 433.9L506.6 432.9L506.7 432.8L508.2 431.9L509.3 431.2L509.8 430.9L511.4 430L512 429.6L513 429L514.6 428.1L514.8 428L516.2 427.2L517.6 426.4L517.8 426.3L519.4 425.4L520.5 424.8L521 424.5L522.6 423.6L523.4 423.2L524.2 422.7L525.8 421.9L526.4 421.6L527.4 421L529.1 420.2L529.5 420L530.7 419.4L532.3 418.6L532.7 418.4L533.9 417.8L535.5 417L535.9 416.8L537.1 416.2L538.7 415.4L539.3 415.2L540.3 414.7L541.9 414L542.8 413.6L543.5 413.2L545.1 412.5L546.4 412L546.7 411.8L548.3 411.1L549.9 410.4L550.1 410.4L551.6 409.8L553.2 409.1L554.1 408.8L554.8 408.5L556.4 407.9L558 407.2L558.2 407.2L559.6 406.6L561.2 406L562.6 405.6L562.8 405.5L564.4 404.9L566 404.4L567.2 404L567.6 403.8L569.2 403.3L570.8 402.8L572.3 402.3L572.4 402.3L574.1 401.8L575.7 401.4L577.3 400.9L577.8 400.7L578.9 400.5L580.5 400L582.1 399.6L583.7 399.2L584.1 399.1L585.3 398.9L586.9 398.5L588.5 398.2L590.1 397.8L591.6 397.5L591.7 397.5L593.3 397.2L594.9 396.9L596.5 396.7L598.2 396.4L599.8 396.2L601.4 396L601.8 395.9L603 395.8L604.6 395.6L606.2 395.5L607.8 395.3L609.4 395.2L611 395.1L612.6 395L614.2 395L615.8 395L617.4 394.9L619 395L620.7 395L622.3 395L623.9 395.1L625.5 395.2L627.1 395.3L628.7 395.5L630.3 395.7L631.9 395.9L632.4 395.9L633.5 396.1L635.1 396.4L636.7 396.7L638.3 397L639.9 397.3L640.9 397.5L641.5 397.7L643.1 398.1L644.8 398.6L646.4 399.1L646.7 399.1L648 399.6L649.6 400.1L651.2 400.7L651.2 400.7L652.8 401.4L654.4 402L655.1 402.3L656 402.8L657.6 403.5L658.4 404L659.2 404.4L660.8 405.2L661.4 405.6L662.4 406.2L664 407.1L664.1 407.2L665.6 408.2L666.5 408.8L667.3 409.3L668.7 410.4L668.9 410.5L670.5 411.7L670.8 412L672.1 413L672.7 413.6L673.7 414.5L674.5 415.2L675.3 416L676.1 416.8L676.9 417.5L677.7 418.4L678.5 419.2L678.5 418.4L678.5 416.8L678.5 415.2L678.5 413.6L678.5 412L678.5 410.4L678.5 408.8L678.5 407.2L678.5 405.6L678.5 404L678.5 402.3L678.5 400.7L678.5 399.1L678.5 397.5L678.5 395.9L678.5 394.3L678.5 392.7L678.5 391.1L678.5 389.5L678.5 387.9L678.5 386.3L678.5 384.7L678.5 383.1L678.5 381.5L678.5 379.9L678.5 378.3L678.5 376.7L678.5 375.1L678.5 373.5L678.5 371.9L678.5 370.3L678.5 368.7L678.5 367.1L678.5 365.5L678.5 363.9L678.5 362.3L678.5 360.7L676.9 360.7L675.3 360.7L673.7 360.7L672.1 360.7L670.5 360.7L668.9 360.7L667.3 360.7L665.6 360.7L664 360.7L662.4 360.7L660.8 360.7L659.2 360.7L657.6 360.7L656 360.7L654.4 360.7L652.8 360.7L651.2 360.7L649.6 360.7L648 360.7L646.4 360.7L644.8 360.7L643.1 360.7L641.5 360.7L639.9 360.7L638.3 360.7L636.7 360.7L635.1 360.7L633.5 360.7L631.9 360.7L630.3 360.7L628.7 360.7L627.1 360.7L625.5 360.7L623.9 360.7L622.3 360.7L620.7 360.7L619 360.7L617.4 360.7L615.8 360.7L614.2 360.7L612.6 360.7L611 360.7L609.4 360.7L607.8 360.7L606.2 360.7L604.6 360.7L603 360.7L601.4 360.7L599.8 360.7L598.2 360.7L596.5 360.7L594.9 360.7L593.3 360.7L591.7 360.7L590.1 360.7L588.5 360.7L586.9 360.7L585.3 360.7L583.7 360.7L582.1 360.7L580.5 360.7L578.9 360.7L577.3 360.7L575.7 360.7L574.1 360.7L572.4 360.7L570.8 360.7L569.2 360.7L567.6 360.7L566 360.7L564.4 360.7L562.8 360.7L561.2 360.7L559.6 360.7L558 360.7L556.4 360.7L554.8 360.7L553.2 360.7L551.6 360.7L549.9 360.7L548.3 360.7L546.7 360.7L545.1 360.7L543.5 360.7L543.1 360.7L541.9 361.3L540.3 362.1L540 362.3L538.7 363L537.1 363.8L537 363.9L535.5 364.7L534 365.5L533.9 365.6L532.3 366.4L531 367.1L530.7 367.3L529.1 368.2L528.2 368.7L527.4 369.1L525.8 370L525.3 370.3L524.2 370.9L522.6 371.9L522.6 371.9L521 372.8L519.8 373.5L519.4 373.8L517.8 374.7L517.1 375.1L516.2 375.7L514.6 376.7L514.5 376.7L513 377.6L511.9 378.3L511.4 378.6L509.8 379.6L509.3 379.9L508.2 380.6L506.8 381.5L506.6 381.6L505 382.7L504.2 383.1L503.3 383.7L501.8 384.7L501.7 384.7L500.1 385.8L499.3 386.3L498.5 386.9L496.9 387.9L496.9 387.9L495.3 389L494.5 389.5L493.7 390.1L492.2 391.1L492.1 391.2L490.5 392.3L489.8 392.7L488.9 393.4L487.5 394.3L487.3 394.5L485.7 395.6L485.2 395.9L484.1 396.8L483 397.5L482.5 397.9L480.8 399.1L480.7 399.1L479.2 400.2L478.5 400.7L477.6 401.4L476.3 402.3L476 402.6L474.4 403.8L474.2 404L472.8 405L472 405.6L471.2 406.2L469.9 407.2L469.6 407.4L468 408.6L467.8 408.8L466.4 409.8L465.7 410.4L464.8 411.1L463.6 412L463.2 412.3L461.6 413.5L461.5 413.6L460 414.8L459.5 415.2L458.4 416.1L457.5 416.8L456.7 417.4L455.5 418.4L455.1 418.6L453.5 419.9L453.5 420L451.9 421.3L451.5 421.6L450.3 422.6L449.6 423.2L448.7 423.9L447.6 424.8L447.1 425.2L445.7 426.4L445.5 426.6L443.9 427.9L443.8 428L442.3 429.3L441.9 429.6L440.7 430.6L440 431.2L439.1 432L438.2 432.8L437.5 433.4L436.3 434.4L435.9 434.8L434.5 436L434.2 436.2L432.6 437.6L432.6 437.6L431 439L430.8 439.2L429.4 440.4L429 440.8L427.8 441.9L427.2 442.4L426.2 443.3L425.4 444L424.6 444.8L423.7 445.6L423 446.2L423 447.2L423 448.8L423 450.4L423 452L423 453.6L423 455.2L423 456.8L423 458.4L423 460L423 461.6L423 463.2L423 464.8L423 466.4L423 468L423 469.6L423 471.2L423 472.8L423 474.4L423 476L423 477.6L423 479.2L423 480.8L423 482.4L423 484L423 485.6L423 487.2L423 488.9L423 490.5L423 492.1L423 493.7L423 495.3Z" fill="#00ffdb" stroke="#00ffdb" stroke-width="0.3"/>
<path d="M615.2 615.4L615.8 615.4L617.4 615.4L619 615.4L620.7 615.4L622.3 615.4L623.9 615.4L625.5 615.4L627.1 615.4L628.7 615.4L630.3 615.4L631.9 615.4L633.5 615.4L635.1 615.4L636.7 615.4L638.3 615.4L639.9 615.4L641.5 615.4L643.1 615.4L644.8 615.4L646.4 615.4L648 615.4L649.6 615.4L651.2 615.4L652.8 615.4L654.4 615.4L656 615.4L657.6 615.4L659.2 615.4L660.8 615.4L662.4 615.4L664 615.4L665.6 615.4L667.3 615.4L668.9 615.4L670.5 615.4L672.1 615.4L673.7 615.4L675.3 615.4L676.9 615.4L677.9 615.4L678.4 613.8L678.5 613.5L678.5 612.2L678.5 610.6L678.5 609L678.5 607.4L678.5 605.8L678.5 604.2L678.5 602.6L678.5 601L678.5 599.4L678.5 597.8L678.5 596.2L678.5 594.6L678.5 593L678.5 591.4L678.5 589.8L678.5 588.2L678.5 586.6L678.5 585L678.5 583.4L678.5 581.8L678.5 580.2L678.5 578.6L678.5 577L678.5 575.4L678.5 573.8L678.5 572.1L678.5 570.5L678.5 568.9L678.5 567.3L678.5 565.7L678.5 564.1L678.5 562.5L678.5 560.9L678.5 559.3L678.5 557.7L678.5 556.1L678.5 554.5L678.5 552.9L678.5 551.3L678.5 549.7L678.5 548.1L678.5 546.5L678.5 544.9L678.5 543.3L678.5 541.7L678.5 540.1L678.5 538.5L678.5 536.9L678.5 535.3L678.5 533.7L678.5 532.1L678.5 530.5L678.5 528.9L678.5 527.3L678.5 525.7L678.5 524.1L678.5 522.5L678.5 520.9L678.5 519.3L678.5 517.7L678.5 516.1L678.5 514.5L678.5 512.9L678.5 511.3L678.5 509.7L678.5 508.1L678.5 506.5L678.5 504.9L678.5 503.3L678.5 501.7L678.5 500.1L678.5 498.5L678.5 496.9L678.5 495.3L678.5 493.7L678.5 492.1L678.5 490.5L678.5 488.9L678.5 487.2L678.5 485.6L678.5 484L678.5 482.4L678.5 480.8L678.5 479.2L678.5 477.6L678.5 476L678.5 474.4L678.5 472.8L678.5 471.2L678.5 469.6L678.5 468L678.5 466.4L678.5 464.8L678.5 463.2L678.5 461.6L678.5 460L678.5 458.4L678.5 456.8L678.5 455.2L678.5 453.6L678.5 452L678.5 450.4L678.5 448.8L678.5 447.2L678.5 445.6L678.5 444L678.5 442.4L678.5 440.8L678.5 439.2L678.5 437.6L678.5 436L678.5 434.4L678.5 432.8L678.5 431.2L678.5 429.6L678.5 428L678.5 426.4L678.5 424.8L678.5 423.2L678.5 421.6L678.5 420L678.5 419.2L677.7 418.4L676.9 417.5L676.1 416.8L675.3 416L674.5 415.2L673.7 414.5L672.7 413.6L672.1 413L670.8 412L670.5 411.7L668.9 410.5L668.7 410.4L667.3 409.3L666.5 408.8L665.6 408.2L664.1 407.2L664 407.1L662.4 406.2L661.4 405.6L660.8 405.2L659.2 404.4L658.4 404L657.6 403.5L656 402.8L655.1 402.3L654.4 402L652.8 401.4L651.2 400.7L651.2 400.7L649.6 400.1L648 399.6L646.7 399.1L646.4 399.1L644.8 398.6L643.1 398.1L641.5 397.7L640.9 397.5L639.9 397.3L638.3 397L636.7 396.7L635.1 396.4L633.5 396.1L632.4 395.9L631.9 395.9L630.3 395.7L628.7 395.5L627.1 395.3L625.5 395.2L623.9 395.1L622.3 395L620.7 395L619 395L617.4 394.9L615.8 395L614.2 395L612.6 395L611 395.1L609.4 395.2L607.8 395.3L606.2 395.5L604.6 395.6L603 395.8L601.8 395.9L601.4 396L599.8 396.2L598.2 396.4L596.5 396.7L594.9 396.9L593.3 397.2L591.7 397.5L591.6 397.5L590.1 397.8L588.5 398.2L586.9 398.5L585.3 398.9L584.1 399.1L583.7 399.2L582.1 399.6L580.5 400L578.9 400.5L577.8 400.7L577.3 400.9L575.7 401.4L574.1 401.8L572.4 402.3L572.3 402.3L570.8 402.8L569.2 403.3L567.6 403.8L567.2 404L566 404.4L564.4 404.9L562.8 405.5L562.6 405.6L561.2 406L559.6 406.6L558.2 407.2L558 407.2L556.4 407.9L554.8 408.5L554.1 408.8L553.2 409.1L551.6 409.8L550.1 410.4L549.9 410.4L548.3 411.1L546.7 411.8L546.4 412L545.1 412.5L543.5 413.2L542.8 413.6L541.9 414L540.3 414.7L539.3 415.2L538.7 415.4L537.1 416.2L535.9 416.8L535.5 417L533.9 417.8L532.7 418.4L532.3 418.6L530.7 419.4L529.5 420L529.1 420.2L527.4 421L526.4 421.6L525.8 421.9L524.2 422.7L523.4 423.2L522.6 423.6L521 424.5L520.5 424.8L519.4 425.4L517.8 426.3L517.6 426.4L516.2 427.2L514.8 428L514.6 428.1L513 429L512 429.6L511.4 430L509.8 430.9L509.3 431.2L508.2 431.9L506.7 432.8L506.6 432.9L505 433.9L504.1 434.4L503.3 434.8L501.7 435.9L501.5 436L500.1 436.9L499 437.6L498.5 437.9L496.9 438.9L496.5 439.2L495.3 440L494.1 440.8L493.7 441.1L492.1 442.1L491.7 442.4L490.5 443.2L489.3 444L488.9 444.3L487.3 445.4L487 445.6L485.7 446.5L484.7 447.2L484.1 447.7L482.5 448.8L482.4 448.8L480.8 449.9L480.2 450.4L479.2 451.1L478 452L477.6 452.3L476 453.4L475.8 453.6L474.4 454.6L473.6 455.2L472.8 455.8L471.5 456.8L471.2 457L469.6 458.3L469.4 458.4L468 459.5L467.3 460L466.4 460.7L465.2 461.6L464.8 462L463.2 463.2L463.2 463.2L461.6 464.5L461.2 464.8L460 465.8L459.2 466.4L458.4 467.1L457.2 468L456.7 468.4L455.2 469.6L455.1 469.7L453.5 471L453.3 471.2L451.9 472.4L451.4 472.8L450.3 473.7L449.5 474.4L448.7 475.1L447.6 476L447.1 476.4L445.7 477.6L445.5 477.8L443.9 479.2L443.9 479.2L442.3 480.6L442 480.8L440.7 482L440.2 482.4L439.1 483.5L438.4 484L437.5 484.9L436.6 485.6L435.9 486.3L434.8 487.2L434.2 487.8L433.1 488.9L432.6 489.3L431.3 490.5L431 490.7L429.6 492.1L429.4 492.2L427.9 493.7L427.8 493.7L426.2 495.2L426.2 495.3L424.6 496.8L424.5 496.9L423 498.3L423 498.5L423 500.1L423 501.7L423 503.3L423 504.9L423 506.5L423 508.1L423 509.7L423 511.3L423 512.9L423 514.5L423 516.1L423 517.7L423 519.3L423 520.9L423 522.5L423 524.1L423 525.7L423 527.3L423 528.9L423 530.5L423 532.1L423 533.7L423 535.3L423 536.9L423 538.5L423 540.1L423 541.7L423 543.3L423 544.9L423 546.5L423 548.1L423 549.7L423 551.3L423 552.9L423 554.5L423 556.1L423 557.7L423 559.3L423 560.9L423 562.5L423 564.1L423 565.7L423 567.3L423 568.9L423 569.9L423.9 568.9L424.6 568.2L425.4 567.3L426.2 566.4L426.9 565.7L427.8 564.7L428.4 564.1L429.4 563.1L429.9 562.5L431 561.4L431.5 560.9L432.6 559.8L433.1 559.3L434.2 558.1L434.7 557.7L435.9 556.5L436.3 556.1L437.5 555L437.9 554.5L439.1 553.4L439.5 552.9L440.7 551.8L441.2 551.3L442.3 550.3L442.9 549.7L443.9 548.8L444.6 548.1L445.5 547.3L446.3 546.5L447.1 545.8L448.1 544.9L448.7 544.3L449.8 543.3L450.3 542.9L451.6 541.7L451.9 541.4L453.4 540.1L453.5 540L455.1 538.6L455.3 538.5L456.7 537.2L457.1 536.9L458.4 535.9L459 535.3L460 534.5L460.9 533.7L461.6 533.2L462.9 532.1L463.2 531.9L464.8 530.6L464.8 530.5L466.4 529.3L466.8 528.9L468 528L468.9 527.3L469.6 526.7L470.9 525.7L471.2 525.5L472.8 524.3L473 524.1L474.4 523.1L475.2 522.5L476 521.9L477.4 520.9L477.6 520.7L479.2 519.5L479.6 519.3L480.8 518.4L481.8 517.7L482.5 517.2L484.1 516.1L484.1 516.1L485.7 515L486.5 514.5L487.3 513.9L488.9 512.9L488.9 512.9L490.5 511.8L491.3 511.3L492.1 510.8L493.7 509.8L493.8 509.7L495.3 508.8L496.4 508.1L496.9 507.8L498.5 506.8L499.1 506.5L500.1 505.8L501.7 504.9L501.8 504.9L503.3 504L504.6 503.3L505 503.1L506.6 502.2L507.5 501.7L508.2 501.3L509.8 500.4L510.5 500.1L511.4 499.6L513 498.8L513.6 498.5L514.6 498L516.2 497.2L516.9 496.9L517.8 496.4L519.4 495.7L520.3 495.3L521 494.9L522.6 494.2L523.9 493.7L524.2 493.5L525.8 492.8L527.4 492.2L527.7 492.1L529.1 491.5L530.7 490.9L531.8 490.5L532.3 490.3L533.9 489.7L535.5 489.1L536.3 488.9L537.1 488.6L538.7 488.1L540.3 487.5L541.3 487.2L541.9 487.1L543.5 486.6L545.1 486.2L546.7 485.7L547.1 485.6L548.3 485.3L549.9 485L551.6 484.6L553.2 484.3L554.4 484L554.8 484L556.4 483.7L558 483.4L559.6 483.2L561.2 483L562.8 482.8L564.4 482.7L566 482.6L567.6 482.5L569.2 482.4L569.6 482.4L570.8 482.4L572.4 482.4L572.8 482.4L574.1 482.5L575.7 482.6L577.3 482.7L578.9 482.8L580.5 483L582.1 483.2L583.7 483.5L585.3 483.8L586.2 484L586.9 484.2L588.5 484.6L590.1 485.1L591.7 485.6L591.9 485.6L593.3 486.2L594.9 486.8L596 487.2L596.5 487.5L598.2 488.3L599.3 488.9L599.8 489.1L601.4 490L602 490.5L603 491L604.5 492.1L604.6 492.1L606.2 493.4L606.6 493.7L607.8 494.7L608.5 495.3L609.4 496.1L610.2 496.9L611 497.7L611.7 498.5L612.6 499.4L613.2 500.1L614.2 501.4L614.5 501.7L615.7 503.3L615.8 503.5L616.8 504.9L617.4 505.9L617.8 506.5L618.7 508.1L619 508.6L619.6 509.7L620.4 511.3L620.7 511.7L621.2 512.9L621.9 514.5L622.3 515.4L622.5 516.1L623.1 517.7L623.7 519.3L623.9 519.8L624.2 520.9L624.7 522.5L625.1 524.1L625.5 525.5L625.5 525.7L625.9 527.3L626.2 528.9L626.5 530.5L626.8 532.1L627 533.7L627.1 534.1L627.2 535.3L627.4 536.9L627.6 538.5L627.7 540.1L627.8 541.7L627.9 543.3L628 544.9L628.1 546.5L628.1 548.1L628.1 549.7L628.1 551.3L628 552.9L628 554.5L627.9 556.1L627.8 557.7L627.7 559.3L627.6 560.9L627.5 562.5L627.3 564.1L627.1 565.7L627.1 566.3L627 567.3L626.8 568.9L626.5 570.5L626.3 572.1L626.1 573.8L625.8 575.4L625.5 577L625.5 577.3L625.2 578.6L624.9 580.2L624.6 581.8L624.3 583.4L624 585L623.9 585.4L623.6 586.6L623.2 588.2L622.9 589.8L622.5 591.4L622.3 592.2L622.1 593L621.7 594.6L621.2 596.2L620.8 597.8L620.7 598.3L620.3 599.4L619.9 601L619.4 602.6L619 603.8L618.9 604.2L618.4 605.8L617.9 607.4L617.4 608.9L617.4 609L616.9 610.6L616.3 612.2L615.8 613.7L615.8 613.8Z" fill="#00ff61" stroke="#00ff61" stroke-width="0.3"/>
<path d="M423 615.4L424.6 615.4L426.2 615.4L427.8 615.4L429.4 615.4L431 615.4L432.6 615.4L434.2 615.4L435.9 615.4L437.5 615.4L439.1 615.4L440.7 615.4L442.3 615.4L443.9 615.4L445.5 615.4L447.1 615.4L448.7 615.4L450.3 615.4L451.9 615.4L453.5 615.4L455.1 615.4L456.7 615.4L458.4 615.4L460 615.4L461.6 615.4L463.2 615.4L464.8 615.4L466.4 615.4L468 615.4L469.6 615.4L471.2 615.4L472.8 615.4L474.4 615.4L476 615.4L477.6 615.4L479.2 615.4L480.8 615.4L482.5 615.4L484.1 615.4L485.7 615.4L487.3 615.4L488.9 615.4L490.5 615.4L492.1 615.4L493.7 615.4L495.3 615.4L496.9 615.4L498.5 615.4L500.1 615.4L501.7 615.4L503.3 615.4L505 615.4L506.6 615.4L508.2 615.4L509.8 615.4L511.4 615.4L513 615.4L514.6 615.4L516.2 615.4L517.8 615.4L519.4 615.4L521 615.4L522.6 615.4L524.2 615.4L525.8 615.4L527.4 615.4L529.1 615.4L530.7 615.4L532.3 615.4L533.9 615.4L535.5 615.4L537.1 615.4L538.7 615.4L540.3 615.4L541.9 615.4L543.5 615.4L545.1 615.4L546.7 615.4L548.3 615.4L549.9 615.4L551.6 615.4L553.2 615.4L554.8 615.4L556.4 615.4L558 615.4L559.6 615.4L561.2 615.4L562.8 615.4L564.4 615.4L566 615.4L567.6 615.4L569.2 615.4L570.8 615.4L572.4 615.4L574.1 615.4L575.7 615.4L577.3 615.4L578.9 615.4L580.5 615.4L582.1 615.4L583.7 615.4L585.3 615.4L586.9 615.4L588.5 615.4L590.1 615.4L591.7 615.4L593.3 615.4L594.9 615.4L596.5 615.4L598.2 615.4L599.8 615.4L601.4 615.4L603 615.4L604.6 615.4L606.2 615.4L607.8 615.4L609.4 615.4L611 615.4L612.6 615.4L614.2 615.4L615.2 615.4L615.8 613.8L615.8 613.7L616.3 612.2L616.9 610.6L617.4 609L617.4 608.9L617.9 607.4L618.4 605.8L618.9 604.2L619 603.8L619.4 602.6L619.9 601L620.3 599.4L620.7 598.3L620.8 597.8L621.2 596.2L621.7 594.6L622.1 593L622.3 592.2L622.5 591.4L622.9 589.8L623.2 588.2L623.6 586.6L623.9 585.4L624 585L624.3 583.4L624.6 581.8L624.9 580.2L625.2 578.6L625.5 577.3L625.5 577L625.8 575.4L626.1 573.8L626.3 572.1L626.5 570.5L626.8 568.9L627 567.3L627.1 566.3L627.1 565.7L627.3 564.1L627.5 562.5L627.6 560.9L627.7 559.3L627.8 557.7L627.9 556.1L628 554.5L628 552.9L628.1 551.3L628.1 549.7L628.1 548.1L628.1 546.5L628 544.9L627.9 543.3L627.8 541.7L627.7 540.1L627.6 538.5L627.4 536.9L627.2 535.3L627.1 534.1L627 533.7L626.8 532.1L626.5 530.5L626.2 528.9L625.9 527.3L625.5 525.7L625.5 525.5L625.1 524.1L624.7 522.5L624.2 520.9L623.9 519.8L623.7 519.3L623.1 517.7L622.5 516.1L622.3 515.4L621.9 514.5L621.2 512.9L620.7 511.7L620.4 511.3L619.6 509.7L619 508.6L618.7 508.1L617.8 506.5L617.4 505.9L616.8 504.9L615.8 503.5L615.7 503.3L614.5 501.7L614.2 501.4L613.2 500.1L612.6 499.4L611.7 498.5L611 497.7L610.2 496.9L609.4 496.1L608.5 495.3L607.8 494.7L606.6 493.7L606.2 493.4L604.6 492.1L604.5 492.1L603 491L602 490.5L601.4 490L599.8 489.1L599.3 488.9L598.2 488.3L596.5 487.5L596 487.2L594.9 486.8L593.3 486.2L591.9 485.6L591.7 485.6L590.1 485.1L588.5 484.6L586.9 484.2L586.2 484L585.3 483.8L583.7 483.5L582.1 483.2L580.5 483L578.9 482.8L577.3 482.7L575.7 482.6L574.1 482.5L572.8 482.4L572.4 482.4L570.8 482.4L569.6 482.4L569.2 482.4L567.6 482.5L566 482.6L564.4 482.7L562.8 482.8L561.2 483L559.6 483.2L558 483.4L556.4 483.7L554.8 484L554.4 484L553.2 484.3L551.6 484.6L549.9 485L548.3 485.3L547.1 485.6L546.7 485.7L545.1 486.2L543.5 486.6L541.9 487.1L541.3 487.2L540.3 487.5L538.7 488.1L537.1 488.6L536.3 488.9L535.5 489.1L533.9 489.7L532.3 490.3L531.8 490.5L530.7 490.9L529.1 491.5L527.7 492.1L527.4 492.2L525.8 492.8L524.2 493.5L523.9 493.7L522.6 494.2L521 494.9L520.3 495.3L519.4 495.7L517.8 496.4L516.9 496.9L516.2 497.2L514.6 498L513.6 498.5L513 498.8L511.4 499.6L510.5 500.1L509.8 500.4L508.2 501.3L507.5 501.7L506.6 502.2L505 503.1L504.6 503.3L503.3 504L501.8 504.9L501.7 504.9L500.1 505.8L499.1 506.5L498.5 506.8L496.9 507.8L496.4 508.1L495.3 508.8L493.8 509.7L493.7 509.8L492.1 510.8L491.3 511.3L490.5 511.8L488.9 512.9L488.9 512.9L487.3 513.9L486.5 514.5L485.7 515L484.1 516.1L484.1 516.1L482.5 517.2L481.8 517.7L480.8 518.4L479.6 519.3L479.2 519.5L477.6 520.7L477.4 520.9L476 521.9L475.2 522.5L474.4 523.1L473 524.1L472.8 524.3L471.2 525.5L470.9 525.7L469.6 526.7L468.9 527.3L468 528L466.8 528.9L466.4 529.3L464.8 530.5L464.8 530.6L463.2 531.9L462.9 532.1L461.6 533.2L460.9 533.7L460 534.5L459 535.3L458.4 535.9L457.1 536.9L456.7 537.2L455.3 538.5L455.1 538.6L453.5 540L453.4 540.1L451.9 541.4L451.6 541.7L450.3 542.9L449.8 543.3L448.7 544.3L448.1 544.9L447.1 545.8L446.3 546.5L445.5 547.3L444.6 548.1L443.9 548.8L442.9 549.7L442.3 550.3L441.2 551.3L440.7 551.8L439.5 552.9L439.1 553.4L437.9 554.5L437.5 555L436.3 556.1L435.9 556.5L434.7 557.7L434.2 558.1L433.1 559.3L432.6 559.8L431.5 560.9L431 561.4L429.9 562.5L429.4 563.1L428.4 564.1L427.8 564.7L426.9 565.7L426.2 566.4L425.4 567.3L424.6 568.2L423.9 568.9L423 569.9L423 570.5L423 572.1L423 573.8L423 575.4L423 577L423 578.6L423 580.2L423 581.8L423 583.4L423 585L423 586.6L423 588.2L423 589.8L423 591.4L423 593L423 594.6L423 596.2L423 597.8L423 599.4L423 601L423 602.6L423 604.2L423 605.8L423 607.4L423 609L423 610.6L423 612.2L423 613.8Z" fill="#0aff00" stroke="#0aff00" stroke-width="0.3"/>
<path d="M428.7 360.7 L427.8 361.4 L426.8 362.3 L426.2 362.8 L425 363.9 L424.6 364.2 L423.1 365.5 L423 365.6" fill="none" stroke="#1a1a1a" stroke-width="0.85"/>
<path d="M475.4 360.7 L474.4 361.4 L473.2 362.3 L472.8 362.6 L471.2 363.8 L471 363.9 L469.6 365 L468.9 365.5 L468 366.2 L466.8 367.1 L466.4 367.4 L464.8 368.6 L464.7 368.7 L463.2 369.9 L462.6 370.3 L461.6 371.1 L460.6 371.9 L460 372.4 L458.5 373.5 L458.4 373.6 L456.7 374.9 L456.5 375.1 L455.1 376.2 L454.4 376.7 L453.5 377.4 L452.4 378.3 L451.9 378.7 L450.4 379.9 L450.3 380 L448.7 381.3 L448.5 381.5 L447.1 382.6 L446.5 383.1 L445.5 384 L444.6 384.7 L443.9 385.3 L442.6 386.3 L442.3 386.6 L440.7 387.9 L440.7 387.9 L439.1 389.3 L438.8 389.5 L437.5 390.6 L436.9 391.1 L435.9 392 L435 392.7 L434.2 393.4 L433.1 394.3 L432.6 394.7 L431.3 395.9 L431 396.1 L429.4 397.5 L429.4 397.5 L427.8 398.9 L427.6 399.1 L426.2 400.3 L425.7 400.7 L424.6 401.7 L423.9 402.3 L423 403.2" fill="none" stroke="#1a1a1a" stroke-width="0.85"/>
<path d="M543.1 360.7 L541.9 361.3 L540.3 362.1 L540 362.3 L538.7 363 L537.1 363.8 L537 363.9 L535.5 364.7 L534 365.5 L533.9 365.6 L532.3 366.4 L531 367.1 L530.7 367.3 L529.1 368.2 L528.2 368.7 L527.4 369.1 L525.8 370 L525.3 370.3 L524.2 370.9 L522.6 371.9 L522.6 371.9 L521 372.8 L519.8 373.5 L519.4 373.8 L517.8 374.7 L517.1 375.1 L516.2 375.7 L514.6 376.7 L514.5 376.7 L513 377.6 L511.9 378.3 L511.4 378.6 L509.8 379.6 L509.3 379.9 L508.2 380.6 L506.8 381.5 L506.6 381.6 L505 382.7 L504.2 383.1 L503.3 383.7 L501.8 384.7 L501.7 384.7 L500.1 385.8 L499.3 386.3 L498.5 386.9 L496.9 387.9 L496.9 387.9 L495.3 389 L494.5 389.5 L493.7 390.1 L492.2 391.1 L492.1 391.2 L490.5 392.3 L489.8 392.7 L488.9 393.4 L487.5 394.3 L487.3 394.5 L485.7 395.6 L485.2 395.9 L484.1 396.8 L483 397.5 L482.5 397.9 L480.8 399.1 L480.7 399.1 L479.2 400.2 L478.5 400.7 L477.6 401.4 L476.3 402.3 L476 402.6 L474.4 403.8 L474.2 404 L472.8 405 L472 405.6 L471.2 406.2 L469.9 407.2 L469.6 407.4 L468 408.6 L467.8 408.8 L466.4 409.8 L465.7 410.4 L464.8 411.1 L463.6 412 L463.2 412.3 L461.6 413.5 L461.5 413.6 L460 414.8 L459.5 415.2 L458.4 416.1 L457.5 416.8 L456.7 417.4 L455.5 418.4 L455.1 418.6 L453.5 419.9 L453.5 420 L451.9 421.3 L451.5 421.6 L450.3 422.6 L449.6 423.2 L448.7 423.9 L447.6 424.8 L447.1 425.2 L445.7 426.4 L445.5 426.6 L443.9 427.9 L443.8 428 L442.3 429.3 L441.9 429.6 L440.7 430.6 L440 431.2 L439.1 432 L438.2 432.8 L437.5 433.4 L436.3 434.4 L435.9 434.8 L434.5 436 L434.2 436.2 L432.6 437.6 L432.6 437.6 L431 439 L430.8 439.2 L429.4 440.4 L429 440.8 L427.8 441.9 L427.2 442.4 L426.2 443.3 L425.4 444 L424.6 444.8 L423.7 445.6 L423 446.2" fill="none" stroke="#1a1a1a" stroke-width="0.85"/>
<path d="M677.9 615.4 L678.4 613.8 L678.5 613.5" fill="none" stroke="#1a1a1a" stroke-width="0.85"/>
<path d="M678.5 419.2 L677.7 418.4 L676.9 417.5 L676.1 416.8 L675.3 416 L674.5 415.2 L673.7 414.5 L672.7 413.6 L672.1 413 L670.8 412 L670.5 411.7 L668.9 410.5 L668.7 410.4 L667.3 409.3 L666.5 408.8 L665.6 408.2 L664.1 407.2 L664 407.1 L662.4 406.2 L661.4 405.6 L660.8 405.2 L659.2 404.4 L658.4 404 L657.6 403.5 L656 402.8 L655.1 402.3 L654.4 402 L652.8 401.4 L651.2 400.7 L651.2 400.7 L649.6 400.1 L648 399.6 L646.7 399.1 L646.4 399.1 L644.8 398.6 L643.1 398.1 L641.5 397.7 L640.9 397.5 L639.9 397.3 L638.3 397 L636.7 396.7 L635.1 396.4 L633.5 396.1 L632.4 395.9 L631.9 395.9 L630.3 395.7 L628.7 395.5 L627.1 395.3 L625.5 395.2 L623.9 395.1 L622.3 395 L620.7 395 L619 395 L617.4 394.9 L615.8 395 L614.2 395 L612.6 395 L611 395.1 L609.4 395.2 L607.8 395.3 L606.2 395.5 L604.6 395.6 L603 395.8 L601.8 395.9 L601.4 396 L599.8 396.2 L598.2 396.4 L596.5 396.7 L594.9 396.9 L593.3 397.2 L591.7 397.5 L591.6 397.5 L590.1 397.8 L588.5 398.2 L586.9 398.5 L585.3 398.9 L584.1 399.1 L583.7 399.2 L582.1 399.6 L580.5 400 L578.9 400.5 L577.8 400.7 L577.3 400.9 L575.7 401.4 L574.1 401.8 L572.4 402.3 L572.3 402.3 L570.8 402.8 L569.2 403.3 L567.6 403.8 L567.2 404 L566 404.4 L564.4 404.9 L562.8 405.5 L562.6 405.6 L561.2 406 L559.6 406.6 L558.2 407.2 L558 407.2 L556.4 407.9 L554.8 408.5 L554.1 408.8 L553.2 409.1 L551.6 409.8 L550.1 410.4 L549.9 410.4 L548.3 411.1 L546.7 411.8 L546.4 412 L545.1 412.5 L543.5 413.2 L542.8 413.6 L541.9 414 L540.3 414.7 L539.3 415.2 L538.7 415.4 L537.1 416.2 L535.9 416.8 L535.5 417 L533.9 417.8 L532.7 418.4 L532.3 418.6 L530.7 419.4 L529.5 420 L529.1 420.2 L527.4 421 L526.4 421.6 L525.8 421.9 L524.2 422.7 L523.4 423.2 L522.6 423.6 L521 424.5 L520.5 424.8 L519.4 425.4 L517.8 426.3 L517.6 426.4 L516.2 427.2 L514.8 428 L514.6 428.1 L513 429 L512 429.6 L511.4 430 L509.8 430.9 L509.3 431.2 L508.2 431.9 L506.7 432.8 L506.6 432.9 L505 433.9 L504.1 434.4 L503.3 434.8 L501.7 435.9 L501.5 436 L500.1 436.9 L499 437.6 L498.5 437.9 L496.9 438.9 L496.5 439.2 L495.3 440 L494.1 440.8 L493.7 441.1 L492.1 442.1 L491.7 442.4 L490.5 443.2 L489.3 444 L488.9 444.3 L487.3 445.4 L487 445.6 L485.7 446.5 L484.7 447.2 L484.1 447.7 L482.5 448.8 L482.4 448.8 L480.8 449.9 L480.2 450.4 L479.2 451.1 L478 452 L477.6 452.3 L476 453.4 L475.8 453.6 L474.4 454.6 L473.6 455.2 L472.8 455.8 L471.5 456.8 L471.2 457 L469.6 458.3 L469.4 458.4 L468 459.5 L467.3 460 L466.4 460.7 L465.2 461.6 L464.8 462 L463.2 463.2 L463.2 463.2 L461.6 464.5 L461.2 464.8 L460 465.8 L459.2 466.4 L458.4 467.1 L457.2 468 L456.7 468.4 L455.2 469.6 L455.1 469.7 L453.5 471 L453.3 471.2 L451.9 472.4 L451.4 472.8 L450.3 473.7 L449.5 474.4 L448.7 475.1 L447.6 476 L447.1 476.4 L445.7 477.6 L445.5 477.8 L443.9 479.2 L443.9 479.2 L442.3 480.6 L442 480.8 L440.7 482 L440.2 482.4 L439.1 483.5 L438.4 484 L437.5 484.9 L436.6 485.6 L435.9 486.3 L434.8 487.2 L434.2 487.8 L433.1 488.9 L432.6 489.3 L431.3 490.5 L431 490.7 L429.6 492.1 L429.4 492.2 L427.9 493.7 L427.8 493.7 L426.2 495.2 L426.2 495.3 L424.6 496.8 L424.5 496.9 L423 498.3" fill="none" stroke="#1a1a1a" stroke-width="0.85"/>
<path d="M615.2 615.4 L615.8 613.8 L615.8 613.7 L616.3 612.2 L616.9 610.6 L617.4 609 L617.4 608.9 L617.9 607.4 L618.4 605.8 L618.9 604.2 L619 603.8 L619.4 602.6 L619.9 601 L620.3 599.4 L620.7 598.3 L620.8 597.8 L621.2 596.2 L621.7 594.6 L622.1 593 L622.3 592.2 L622.5 591.4 L622.9 589.8 L623.2 588.2 L623.6 586.6 L623.9 585.4 L624 585 L624.3 583.4 L624.6 581.8 L624.9 580.2 L625.2 578.6 L625.5 577.3 L625.5 577 L625.8 575.4 L626.1 573.8 L626.3 572.1 L626.5 570.5 L626.8 568.9 L627 567.3 L627.1 566.3 L627.1 565.7 L627.3 564.1 L627.5 562.5 L627.6 560.9 L627.7 559.3 L627.8 557.7 L627.9 556.1 L628 554.5 L628 552.9 L628.1 551.3 L628.1 549.7 L628.1 548.1 L628.1 546.5 L628 544.9 L627.9 543.3 L627.8 541.7 L627.7 540.1 L627.6 538.5 L627.4 536.9 L627.2 535.3 L627.1 534.1 L627 533.7 L626.8 532.1 L626.5 530.5 L626.2 528.9 L625.9 527.3 L625.5 525.7 L625.5 525.5 L625.1 524.1 L624.7 522.5 L624.2 520.9 L623.9 519.8 L623.7 519.3 L623.1 517.7 L622.5 516.1 L622.3 515.4 L621.9 514.5 L621.2 512.9 L620.7 511.7 L620.4 511.3 L619.6 509.7 L619 508.6 L618.7 508.1 L617.8 506.5 L617.4 505.9 L616.8 504.9 L615.8 503.5 L615.7 503.3 L614.5 501.7 L614.2 501.4 L613.2 500.1 L612.6 499.4 L611.7 498.5 L611 497.7 L610.2 496.9 L609.4 496.1 L608.5 495.3 L607.8 494.7 L606.6 493.7 L606.2 493.4 L604.6 492.1 L604.5 492.1 L603 491 L602 490.5 L601.4 490 L599.8 489.1 L599.3 488.9 L598.2 488.3 L596.5 487.5 L596 487.2 L594.9 486.8 L593.3 486.2 L591.9 485.6 L591.7 485.6 L590.1 485.1 L588.5 484.6 L586.9 484.2 L586.2 484 L585.3 483.8 L583.7 483.5 L582.1 483.2 L580.5 483 L578.9 482.8 L577.3 482.7 L575.7 482.6 L574.1 482.5 L572.8 482.4 L572.4 482.4 L570.8 482.4 L569.6 482.4 L569.2 482.4 L567.6 482.5 L566 482.6 L564.4 482.7 L562.8 482.8 L561.2 483 L559.6 483.2 L558 483.4 L556.4 483.7 L554.8 484 L554.4 484 L553.2 484.3 L551.6 484.6 L549.9 485 L548.3 485.3 L547.1 485.6 L546.7 485.7 L545.1 486.2 L543.5 486.6 L541.9 487.1 L541.3 487.2 L540.3 487.5 L538.7 488.1 L537.1 488.6 L536.3 488.9 L535.5 489.1 L533.9 489.7 L532.3 490.3 L531.8 490.5 L530.7 490.9 L529.1 491.5 L527.7 492.1 L527.4 492.2 L525.8 492.8 L524.2 493.5 L523.9 493.7 L522.6 494.2 L521 494.9 L520.3 495.3 L519.4 495.7 L517.8 496.4 L516.9 496.9 L516.2 497.2 L514.6 498 L513.6 498.5 L513 498.8 L511.4 499.6 L510.5 500.1 L509.8 500.4 L508.2 501.3 L507.5 501.7 L506.6 502.2 L505 503.1 L504.6 503.3 L503.3 504 L501.8 504.9 L501.7 504.9 L500.1 505.8 L499.1 506.5 L498.5 506.8 L496.9 507.8 L496.4 508.1 L495.3 508.8 L493.8 509.7 L493.7 509.8 L492.1 510.8 L491.3 511.3 L490.5 511.8 L488.9 512.9 L488.9 512.9 L487.3 513.9 L486.5 514.5 L485.7 515 L484.1 516.1 L484.1 516.1 L482.5 517.2 L481.8 517.7 L480.8 518.4 L479.6 519.3 L479.2 519.5 L477.6 520.7 L477.4 520.9 L476 521.9 L475.2 522.5 L474.4 523.1 L473 524.1 L472.8 524.3 L471.2 525.5 L470.9 525.7 L469.6 526.7 L468.9 527.3 L468 528 L466.8 528.9 L466.4 529.3 L464.8 530.5 L464.8 530.6 L463.2 531.9 L462.9 532.1 L461.6 533.2 L460.9 533.7 L460 534.5 L459 535.3 L458.4 535.9 L457.1 536.9 L456.7 537.2 L455.3 538.5 L455.1 538.6 L453.5 540 L453.4 540.1 L451.9 541.4 L451.6 541.7 L450.3 542.9 L449.8 543.3 L448.7 544.3 L448.1 544.9 L447.1 545.8 L446.3 546.5 L445.5 547.3 L444.6 548.1 L443.9 548.8 L442.9 549.7 L442.3 550.3 L441.2 551.3 L440.7 551.8 L439.5 552.9 L439.1 553.4 L437.9 554.5 L437.5 555 L436.3 556.1 L435.9 556.5 L434.7 557.7 L434.2 558.1 L433.1 559.3 L432.6 559.8 L431.5 560.9 L431 561.4 L429.9 562.5 L429.4 563.1 L428.4 564.1 L427.8 564.7 L426.9 565.7 L426.2 566.4 L425.4 567.3 L424.6 568.2 L423.9 568.9 L423 569.9" fill="none" stroke="#1a1a1a" stroke-width="0.85"/>
</g>
<rect x="423.0" y="360.7" width="255.5" height="254.7" fill="none" stroke="#555" stroke-width="0.8"/>
<line x1="417.5" y1="615.4" x2="423.0" y2="615.4" stroke="#555" stroke-width="0.8"/>
<line x1="417.5" y1="551.73" x2="423.0" y2="551.73" stroke="#555" stroke-width="0.8"/>
<line x1="417.5" y1="488.05" x2="423.0" y2="488.05" stroke="#555" stroke-width="0.8"/>
<line x1="417.5" y1="424.38" x2="423.0" y2="424.38" stroke="#555" stroke-width="0.8"/>
<line x1="417.5" y1="360.7" x2="423.0" y2="360.7" stroke="#555" stroke-width="0.8"/>
<line x1="423" y1="615.4" x2="423" y2="621.4" stroke="#555" stroke-width="0.8"/>
<line x1="451.39" y1="615.4" x2="451.39" y2="621.4" stroke="#555" stroke-width="0.8"/>
<line x1="479.78" y1="615.4" x2="479.78" y2="621.4" stroke="#555" stroke-width="0.8"/>
<line x1="508.17" y1="615.4" x2="508.17" y2="621.4" stroke="#555" stroke-width="0.8"/>
<line x1="536.56" y1="615.4" x2="536.56" y2="621.4" stroke="#555" stroke-width="0.8"/>
<line x1="564.94" y1="615.4" x2="564.94" y2="621.4" stroke="#555" stroke-width="0.8"/>
<line x1="593.33" y1="615.4" x2="593.33" y2="621.4" stroke="#555" stroke-width="0.8"/>
<line x1="621.72" y1="615.4" x2="621.72" y2="621.4" stroke="#555" stroke-width="0.8"/>
<line x1="650.11" y1="615.4" x2="650.11" y2="621.4" stroke="#555" stroke-width="0.8"/>
<line x1="678.5" y1="615.4" x2="678.5" y2="621.4" stroke="#555" stroke-width="0.8"/>
<rect x="445" y="373.7" width="13.4" height="7.3" fill="#fff" stroke="#222" stroke-width="0.7"/>
<rect x="474.2" y="394" width="13.1" height="7.6" fill="#fff" stroke="#222" stroke-width="0.7"/>
<rect x="531.8" y="410.8" width="12.6" height="7" fill="#fff" stroke="#222" stroke-width="0.7"/>
<rect x="551.3" y="480.1" width="12.6" height="7.1" fill="#fff" stroke="#222" stroke-width="0.7"/>
<line x1="56" y1="218.1" x2="47.4" y2="48.3" stroke="#3a3a3a" stroke-width="0.9"/>
<line x1="180.3" y1="171.5" x2="180.2" y2="18.3" stroke="#3a3a3a" stroke-width="0.9"/>
<line x1="304.8" y1="217.9" x2="313" y2="48.4" stroke="#3a3a3a" stroke-width="0.9"/>
<line x1="47.4" y1="48.3" x2="180.2" y2="18.3" stroke="#3a3a3a" stroke-width="0.9"/>
<line x1="180.2" y1="18.3" x2="313" y2="48.4" stroke="#3a3a3a" stroke-width="0.9"/>
<path d="M56 218.1 L180.3 171.5 L304.8 217.9 L180.3 277.7 Z" fill="#636363" stroke="#111" stroke-width="1"/>
<path d="M155.6 180.8 L155.7 181.1 L155.9 181.5 L156.2 182.1 L156.2 182.2 L156.5 182.9 L156.5 183 L156.7 183.6 L156.9 184 L157 184.3 L157.2 184.9 L157.2 185 L157.4 185.7 L157.4 185.8 L157.6 186.5 L157.7 186.7 L157.8 187.2 L157.8 187.6 L157.9 188 L158 188.5 L158 188.8 L158 189.3 L158.1 189.6 L158.1 190.2 L158.1 190.4 L158.1 191 L158.1 191.2 L158 191.8 L158 192.1 L157.9 192.6 L157.9 193 L157.8 193.4 L157.7 193.9 L157.6 194.1 L157.4 194.8 L157.4 194.9 L157.1 195.6 L157 195.8 L156.8 196.3 L156.5 196.8 L156.4 197 L156 197.7 L155.8 198 L155.6 198.3 L155.1 199 L154.9 199.2 L154.6 199.6 L154 200.2 L153.6 200.5 L153.4 200.8 L152.7 201.4 L152 201.9 L151.6 202.2 L151.2 202.5 L150.4 203 L149.6 203.5 L148.8 204 L147.9 204.4 L147.1 204.8 L146.9 204.9 L145.9 205.3 L144.9 205.8 L143.9 206.2 L142.8 206.6 L141.7 207 L141.4 207.1 L140.6 207.4 L139.4 207.7 L138.2 208.1 L137 208.4 L135.7 208.7 L134.4 209 L134.1 209.1 L133.1 209.3 L131.8 209.6 L130.4 209.9 L129.5 210.1 L129 210.2 L127.6 210.4 L126.2 210.7 L125.5 210.8 L124.7 210.9 L123.2 211.1 L122 211.3 L121.8 211.3 L120.2 211.5 L118.7 211.7 L118.6 211.7 L117.1 211.9 L115.6 212.1 L115.5 212.1 L114 212.2 L112.5 212.4 L112.4 212.4 L110.8 212.6 L109.6 212.7 L109.1 212.7 L107.5 212.8 L106.7 212.9 L105.8 213 L104.1 213.1 L103.9 213.1 L102.4 213.2 L101.2 213.3 L100.7 213.3 L99 213.4 L98.6 213.4 L97.3 213.5 L96 213.5 L95.5 213.6 L93.8 213.6 L93.4 213.7 L92 213.7 L90.8 213.7 L90.2 213.8 L88.4 213.8 L88.3 213.8 L86.6 213.9 L85.8 213.9 L84.8 213.9 L83.4 214 L83 214 L81.2 214 L80.9 214 L79.3 214 L78.5 214 L77.5 214.1 L76.1 214.1 L75.6 214.1 L73.8 214.1 L73.7 214.1 L71.9 214.1 L71.4 214.1 L70 214.1 L69 214.1 L68.1 214.1 L66.7 214.1" fill="none" stroke="#22e0a0" stroke-width="1.5"/>
<path d="M174.2 173.8 L174.4 174 L174.8 174.4 L175.4 174.9 L175.9 175.3 L176 175.5 L176.6 176 L177.2 176.6 L177.3 176.7 L177.8 177.2 L178.4 177.7 L178.8 178 L179.1 178.3 L179.7 178.9 L180.2 179.4 L180.3 179.4 L180.9 180 L181.5 180.6 L181.6 180.7 L182 181.1 L182.6 181.7 L183 182 L183.2 182.3 L183.8 182.9 L184.3 183.3 L184.4 183.5 L185 184 L185.6 184.6 L185.6 184.7 L186.2 185.2 L186.7 185.8 L186.9 186 L187.3 186.4 L187.9 187 L188.2 187.3 L188.5 187.6 L189 188.2 L189.4 188.6 L189.6 188.8 L190.2 189.4 L190.6 189.9 L190.7 190 L191.3 190.6 L191.8 191.2 L191.8 191.2 L192.4 191.8 L192.9 192.4 L192.9 192.4 L193.4 193 L194 193.6 L194 193.7 L194.5 194.2 L195 194.9 L195.1 194.9 L195.5 195.5 L196 196.1 L196.1 196.2 L196.5 196.8 L197 197.4 L197 197.4 L197.5 198 L197.9 198.6 L198 198.7 L198.5 199.3 L198.8 199.7 L198.9 200 L199.4 200.7 L199.5 200.9 L199.8 201.3 L200.2 202 L200.3 202 L200.6 202.7 L200.9 203.1 L201 203.4 L201.4 204.1 L201.5 204.2 L201.8 204.8 L202 205.3 L202.1 205.5 L202.4 206.2 L202.4 206.3 L202.7 207 L202.8 207.3 L202.9 207.7 L203.1 208.3 L203.1 208.5 L203.2 209.2 L203.2 209.3 L203.3 210.2 L203.3 210.2 L203.3 211 L203.3 211 L203.3 211.9 L203.2 211.9 L203.1 212.7 L203 212.9 L202.8 213.4 L202.6 214 L202.5 214.2 L202 214.9 L201.7 215.2 L201.5 215.5 L200.9 216.2 L200.2 216.7 L200.1 216.8 L199.4 217.3 L198.5 217.8 L197.6 218.3 L196.6 218.8 L195.5 219.2 L194.4 219.7 L193.2 220 L191.9 220.4 L191.6 220.5 L190.6 220.7 L189.3 221.1 L187.8 221.4 L187.2 221.5 L186.4 221.6 L184.9 221.9 L183.8 222.1 L183.4 222.1 L181.8 222.4 L180.7 222.5 L180.2 222.6 L178.5 222.8 L177.8 222.8 L176.9 222.9 L175.2 223.1 L175.1 223.1 L173.4 223.3 L172.4 223.3 L171.7 223.4 L169.9 223.5 L169.8 223.5 L168.1 223.7 L167.4 223.7 L166.3 223.8 L164.9 223.8 L164.5 223.9 L162.6 224 L162.5 224 L160.8 224 L160.1 224.1 L158.9 224.1 L157.8 224.2 L157 224.2 L155.5 224.2 L155.1 224.3 L153.2 224.3 L153.2 224.3 L151.2 224.3 L150.9 224.4 L149.3 224.4 L148.6 224.4 L147.3 224.4 L146.4 224.4 L145.4 224.4 L144.2 224.5 L143.4 224.5 L142 224.5 L141.4 224.5 L139.8 224.5 L139.4 224.5 L137.6 224.5 L137.4 224.5 L135.4 224.5 L135.4 224.5 L133.4 224.5 L133.2 224.5 L131.4 224.5 L131.1 224.5 L129.3 224.5 L128.9 224.5 L127.3 224.4 L126.8 224.4 L125.3 224.4 L124.6 224.4 L123.2 224.4 L122.5 224.4 L121.2 224.4 L120.4 224.3 L119.1 224.3 L118.3 224.3 L117 224.3 L116.1 224.3 L115 224.2 L114 224.2 L112.9 224.2 L111.9 224.1 L110.8 224.1 L109.8 224.1 L108.7 224.1 L107.7 224 L106.7 224 L105.6 224 L104.6 223.9 L103.6 223.9 L102.5 223.9 L101.5 223.8 L100.4 223.8 L99.4 223.8 L98.3 223.7 L97.3 223.7 L96.2 223.6 L95.2 223.6 L94.1 223.6 L93.2 223.5 L92 223.5 L91.1 223.4 L89.9 223.4 L89 223.4 L87.7 223.3 L87 223.3 L85.6 223.2 L84.9 223.2 L83.5 223.1 L82.8 223.1 L81.4 223 L80.8 223 L79.3 222.9 L78.7 222.9 L77.1 222.8 L76.7 222.8 L75 222.7 L74.6 222.7 L72.9 222.6 L72.6 222.6 L70.7 222.5 L70.5 222.4 L68.6 222.3 L68.5 222.3 L66.5 222.2 L66.4 222.2 L64.4 222.1 L64.3 222.1" fill="none" stroke="#30dc28" stroke-width="1.5"/>
<path d="M230.5 253.6 L229.3 253.2 L228.2 252.8 L227 252.4 L225.8 252 L224.6 251.6 L223.4 251.2 L222.2 250.9 L221.9 250.8 L221 250.5 L219.7 250.1 L218.5 249.8 L217.2 249.4 L215.9 249.1 L215.7 249 L214.6 248.7 L213.4 248.4 L212 248 L210.7 247.7 L210.5 247.7 L209.4 247.4 L208 247.1 L206.7 246.8 L205.8 246.6 L205.3 246.5 L203.9 246.1 L202.5 245.8 L201.6 245.7 L201.1 245.6 L199.7 245.3 L198.3 245 L197.7 244.9 L196.8 244.7 L195.4 244.4 L193.9 244.1 L193.9 244.1 L192.5 243.9 L191 243.6 L190.4 243.5 L189.5 243.3 L188 243.1 L187 242.9 L186.5 242.8 L184.9 242.6 L183.6 242.4 L183.4 242.3 L181.9 242.1 L180.4 241.9 L180.3 241.9 L178.7 241.6 L177.3 241.4 L177.2 241.4 L175.6 241.2 L174.2 241 L174 241 L172.4 240.7 L171.2 240.6 L170.8 240.5 L169.2 240.3 L168.3 240.2 L167.5 240.1 L165.9 239.9 L165.4 239.8 L164.3 239.7 L162.6 239.5 L162.5 239.4 L161 239.2 L159.7 239.1 L159.3 239 L157.6 238.8 L156.9 238.8 L155.9 238.6 L154.2 238.5 L154.2 238.4 L152.6 238.3 L151.4 238.1 L150.9 238.1 L149.1 237.9 L148.7 237.8 L147.4 237.7 L146.1 237.5 L145.7 237.5 L144 237.3 L143.4 237.2 L142.3 237.1 L140.8 237 L140.5 236.9 L138.8 236.8 L138.2 236.7 L137 236.6 L135.6 236.4 L135.3 236.4 L133.5 236.2 L133 236.2 L131.8 236 L130.4 235.9 L130 235.9 L128.2 235.7 L127.9 235.6 L126.5 235.5 L125.3 235.4 L124.7 235.3 L122.9 235.1 L122.8 235.1 L121.1 235 L120.3 234.9 L119.3 234.8 L117.8 234.7 L117.5 234.6 L115.7 234.4 L115.3 234.4 L113.9 234.3 L112.8 234.2 L112.1 234.1 L110.4 233.9 L110.3 233.9 L108.5 233.7 L107.9 233.7 L106.7 233.6 L105.5 233.5 L104.8 233.4 L103 233.2 L103 233.2 L101.2 233 L100.6 233 L99.3 232.9 L98.1 232.8 L97.5 232.7 L95.7 232.5 L95.7 232.5 L93.8 232.3 L93.3 232.3 L92 232.2 L90.9 232.1 L90.1 232 L88.5 231.8 L88.3 231.8 L86.4 231.6 L86.1 231.6 L84.6 231.5 L83.7 231.4" fill="none" stroke="#98e620" stroke-width="1.5"/>
<path d="M210.9 182.9 L211.5 183.3 L212.3 183.8 L213.1 184.3 L213.9 184.7 L214.4 185 L214.7 185.2 L215.5 185.7 L216.3 186.2 L217.2 186.7 L218 187.2 L218.1 187.2 L218.8 187.6 L219.6 188.1 L220.5 188.6 L221.3 189.1 L222.1 189.5 L222.1 189.6 L223 190 L223.8 190.5 L224.7 191 L225.5 191.5 L226.4 191.9 L226.6 192.1 L227.3 192.4 L228.1 192.9 L229 193.3 L229.9 193.8 L230.7 194.3 L231.6 194.7 L232 194.9 L232.5 195.2 L233.4 195.7 L234.3 196.1 L235.2 196.6 L236.1 197 L237 197.5 L238 197.9 L238.9 198.4 L238.9 198.4 L239.8 198.8 L240.8 199.3 L241.7 199.7 L242.7 200.1 L243.6 200.6 L244.6 201 L245.6 201.4 L246.6 201.8 L247.5 202.3 L248.5 202.7 L249.5 203.1 L250.6 203.5 L251.6 203.9 L252.6 204.3 L253.6 204.7 L254.7 205.1 L255.7 205.5 L256.8 205.9 L257.9 206.3 L259 206.7 L260.1 207 L261.2 207.4 L262.3 207.8 L263.4 208.1 L264.5 208.5 L265.7 208.8 L266.8 209.2 L268 209.5 L269.2 209.9 L269.8 210 L270.3 210.2 L271.5 210.5 L272.7 210.9 L274 211.2 L275.2 211.5 L276.4 211.8 L277.1 211.9 L277.7 212.1 L279 212.4 L280.2 212.7 L281.5 212.9 L282.8 213.2 L282.8 213.2 L284.1 213.5 L285.5 213.8 L286.8 214 L287.7 214.2 L288.2 214.3 L289.5 214.5 L290.9 214.7 L292.2 215 L292.3 215 L293.7 215.2 L295.1 215.4 L296.3 215.6 L296.5 215.6 L297.9 215.8 L299.4 216.1 L300.1 216.2" fill="none" stroke="#98e620" stroke-width="1.5"/>
<path d="M209.8 263.5 L208.6 263.1 L208.4 263.1 L207.4 262.7 L206.1 262.4 L204.9 262 L203.7 261.6 L202.4 261.2 L201.6 261 L201.2 260.8 L199.9 260.5 L198.6 260.1 L197.3 259.7 L196.1 259.4 L195.8 259.3 L194.8 259 L193.5 258.6 L192.2 258.3 L190.8 257.9 L190.5 257.9 L189.5 257.6 L188.2 257.3 L186.9 256.9 L185.7 256.6 L185.5 256.6 L184.2 256.2 L182.8 255.9 L181.4 255.6 L181.2 255.5 L180.1 255.2 L178.7 254.9 L177.3 254.6 L176.9 254.5 L175.9 254.3 L174.5 254 L173.1 253.6 L172.9 253.6 L171.7 253.3 L170.2 253 L168.9 252.8 L168.8 252.7 L167.4 252.4 L165.9 252.1 L165.2 252 L164.5 251.8 L163 251.5 L161.5 251.2 L161.5 251.2 L160 250.9 L158.6 250.6 L158 250.5 L157.1 250.4 L155.6 250.1 L154.5 249.9 L154.1 249.8 L152.6 249.5 L151.1 249.2 L151.1 249.2 L149.5 249 L148 248.7 L147.8 248.6 L146.5 248.4 L144.9 248.1 L144.5 248.1 L143.4 247.9 L141.8 247.6 L141.3 247.5 L140.3 247.3 L138.7 247.1 L138.2 247 L137.1 246.8 L135.5 246.6 L135.1 246.5 L134 246.3 L132.4 246 L132 246 L130.8 245.8 L129.2 245.5 L129 245.5 L127.6 245.3 L126 245 L126 245 L124.3 244.8 L123.1 244.6 L122.7 244.5 L121.1 244.3 L120.2 244.1 L119.5 244 L117.8 243.8 L117.3 243.7 L116.2 243.5 L114.5 243.3 L114.4 243.3 L112.9 243.1 L111.6 242.9 L111.2 242.8 L109.6 242.6 L108.8 242.5 L107.9 242.3 L106.2 242.1 L106 242.1" fill="none" stroke="#f0d420" stroke-width="1.5"/>
<path d="M194.7 270.8 L193.4 270.4 L192.2 270 L191 269.6 L189.8 269.2 L189.7 269.2 L188.5 268.8 L187.2 268.4 L185.9 268.1 L184.6 267.7 L183.9 267.4 L183.4 267.3 L182.1 266.9 L180.8 266.6 L179.5 266.2 L178.4 265.9 L178.2 265.8 L176.9 265.5 L175.6 265.1 L174.2 264.7 L173.4 264.5 L172.9 264.4 L171.6 264 L170.2 263.7 L168.9 263.3 L168.6 263.2 L167.5 263 L166.2 262.6 L164.8 262.3 L164.1 262.1 L163.4 261.9 L162.1 261.6 L160.7 261.2 L159.8 261 L159.3 260.9 L157.9 260.6 L156.5 260.2 L155.7 260 L155.1 259.9 L153.7 259.6 L152.3 259.2 L151.6 259.1 L150.8 258.9 L149.4 258.6 L148 258.3 L147.8 258.2 L146.5 257.9 L145.1 257.6 L144 257.4 L143.7 257.3 L142.2 257 L140.7 256.7 L140.3 256.6 L139.3 256.4 L137.8 256.1 L136.7 255.8 L136.3 255.7 L134.8 255.4 L133.3 255.1 L133.2 255.1" fill="none" stroke="#f49a20" stroke-width="1.5"/>
<circle cx="53.96" cy="177.92" r="1.2" fill="#111"/>
<circle cx="52.65" cy="151.99" r="1.2" fill="#111"/>
<circle cx="51.34" cy="126.07" r="1.2" fill="#111"/>
<circle cx="50.03" cy="100.15" r="1.2" fill="#111"/>
<circle cx="48.71" cy="74.22" r="1.2" fill="#111"/>
<circle cx="47.4" cy="48.3" r="1.2" fill="#111"/>
<g stroke="#000" stroke-opacity="0.85" stroke-width="0.65" stroke-linejoin="round">
<path d="M180.24 80.73 L186.73 74.24 L180.24 74.22 L173.77 80.79Z" fill="#10ee00"/>
<path d="M186.73 80.79 L193.23 74.38 L186.73 74.24 L180.24 80.73Z" fill="#10ee00"/>
<path d="M173.78 86.81 L180.24 80.73 L173.77 80.79 L167.32 86.95Z" fill="#10ee60"/>
<path d="M167.34 92.48 L173.78 86.81 L167.32 86.95 L160.9 92.71Z" fill="#10ee60"/>
<path d="M180.25 86.79 L186.73 80.79 L180.24 80.73 L173.78 86.81Z" fill="#10ee60"/>
<path d="M193.22 80.99 L199.74 74.66 L193.23 74.38 L186.73 80.79Z" fill="#10ee00"/>
<path d="M173.79 92.38 L180.25 86.79 L173.78 86.81 L167.34 92.48Z" fill="#10ee60"/>
<path d="M199.72 81.33 L206.25 75.08 L199.74 74.66 L193.22 80.99Z" fill="#10ee00"/>
<path d="M160.91 97.72 L167.34 92.48 L160.9 92.71 L154.49 98.04Z" fill="#10ee60"/>
<path d="M186.72 86.91 L193.22 80.99 L186.73 80.79 L180.25 86.79Z" fill="#10ee00"/>
<path d="M167.35 97.53 L173.79 92.38 L167.34 92.48 L160.91 97.72Z" fill="#10ee60"/>
<path d="M193.21 87.16 L199.72 81.33 L193.22 80.99 L186.72 86.91Z" fill="#10ee00"/>
<path d="M154.5 102.53 L160.91 97.72 L154.49 98.04 L148.09 102.94Z" fill="#20e890"/>
<path d="M180.25 92.4 L186.72 86.91 L180.25 86.79 L173.79 92.38Z" fill="#10ee60"/>
<path d="M206.23 81.8 L212.77 75.63 L206.25 75.08 L199.72 81.33Z" fill="#10ee00"/>
<path d="M173.8 97.47 L180.25 92.4 L173.79 92.38 L167.35 97.53Z" fill="#10ee60"/>
<path d="M148.09 106.91 L154.5 102.53 L148.09 102.94 L141.7 107.41Z" fill="#20e890"/>
<path d="M160.92 102.25 L167.35 97.53 L160.91 97.72 L154.5 102.53Z" fill="#20e890"/>
<path d="M186.72 92.57 L193.21 87.16 L186.72 86.91 L180.25 92.4Z" fill="#10ee60"/>
<path d="M199.7 87.54 L206.23 81.8 L199.72 81.33 L193.21 87.16Z" fill="#10ee00"/>
<path d="M212.74 82.41 L219.3 76.32 L212.77 75.63 L206.23 81.8Z" fill="#10ee00"/>
<path d="M154.5 106.53 L160.92 102.25 L154.5 102.53 L148.09 106.91Z" fill="#20e890"/>
<path d="M180.26 97.54 L186.72 92.57 L180.25 92.4 L173.8 97.47Z" fill="#10ee60"/>
<path d="M193.2 92.86 L199.7 87.54 L193.21 87.16 L186.72 92.57Z" fill="#10ee60"/>
<path d="M219.25 83.15 L225.83 77.15 L219.3 76.32 L212.74 82.41Z" fill="#10ee00"/>
<path d="M141.7 110.84 L148.09 106.91 L141.7 107.41 L135.32 111.44Z" fill="#20e890"/>
<path d="M167.35 102.09 L173.8 97.47 L167.35 97.53 L160.92 102.25Z" fill="#10ee60"/>
<path d="M206.2 88.07 L212.74 82.41 L206.23 81.8 L199.7 87.54Z" fill="#10ee00"/>
<path d="M135.3 114.31 L141.7 110.84 L135.32 111.44 L128.94 115.02Z" fill="#20e890"/>
<path d="M148.09 110.36 L154.5 106.53 L148.09 106.91 L141.7 110.84Z" fill="#20e890"/>
<path d="M160.92 106.27 L167.35 102.09 L160.92 102.25 L154.5 106.53Z" fill="#20e890"/>
<path d="M173.8 102.07 L180.26 97.54 L173.8 97.47 L167.35 102.09Z" fill="#10ee60"/>
<path d="M186.72 97.74 L193.2 92.86 L186.72 92.57 L180.26 97.54Z" fill="#10ee60"/>
<path d="M199.69 93.3 L206.2 88.07 L199.7 87.54 L193.2 92.86Z" fill="#10ee00"/>
<path d="M212.71 88.73 L219.25 83.15 L212.74 82.41 L206.2 88.07Z" fill="#10ee00"/>
<path d="M225.77 84.05 L232.36 78.13 L225.83 77.15 L219.25 83.15Z" fill="#10ee00"/>
<path d="M141.68 113.73 L148.09 110.36 L141.7 110.84 L135.3 114.31Z" fill="#20e890"/>
<path d="M167.36 106.15 L173.8 102.07 L167.35 102.09 L160.92 106.27Z" fill="#10ee60"/>
<path d="M206.19 93.87 L212.71 88.73 L206.2 88.07 L199.69 93.3Z" fill="#10ee00"/>
<path d="M232.29 85.09 L238.89 79.25 L232.36 78.13 L225.77 84.05Z" fill="#10ee00"/>
<path d="M128.9 117.33 L135.3 114.31 L128.94 115.02 L122.55 118.14Z" fill="#20e890"/>
<path d="M154.5 110 L160.92 106.27 L154.5 106.53 L148.09 110.36Z" fill="#20e890"/>
<path d="M180.26 102.18 L186.72 97.74 L180.26 97.54 L173.8 102.07Z" fill="#10ee60"/>
<path d="M193.2 98.08 L199.69 93.3 L193.2 92.86 L186.72 97.74Z" fill="#10ee60"/>
<path d="M219.22 89.54 L225.77 84.05 L219.25 83.15 L212.71 88.73Z" fill="#10ee00"/>
<path d="M135.27 116.64 L141.68 113.73 L135.3 114.31 L128.9 117.33Z" fill="#20e890"/>
<path d="M148.08 113.27 L154.5 110 L148.09 110.36 L141.68 113.73Z" fill="#20e890"/>
<path d="M160.92 109.78 L167.36 106.15 L160.92 106.27 L154.5 110Z" fill="#20e890"/>
<path d="M199.69 98.56 L206.19 93.87 L199.69 93.3 L193.2 98.08Z" fill="#10ee60"/>
<path d="M212.69 94.58 L219.22 89.54 L212.71 88.73 L206.19 93.87Z" fill="#10ee00"/>
<path d="M225.73 90.49 L232.29 85.09 L225.77 84.05 L219.22 89.54Z" fill="#10ee00"/>
<path d="M122.49 119.88 L128.9 117.33 L122.55 118.14 L116.16 120.8Z" fill="#20e890"/>
<path d="M173.8 106.16 L180.26 102.18 L173.8 102.07 L167.36 106.15Z" fill="#10ee60"/>
<path d="M186.72 102.42 L193.2 98.08 L186.72 97.74 L180.26 102.18Z" fill="#10ee60"/>
<path d="M238.81 86.27 L245.42 80.52 L238.89 79.25 L232.29 85.09Z" fill="#10ee00"/>
<path d="M141.65 116.07 L148.08 113.27 L141.68 113.73 L135.27 116.64Z" fill="#20e890"/>
<path d="M206.18 99.19 L212.69 94.58 L206.19 93.87 L199.69 98.56Z" fill="#10ee00"/>
<path d="M154.49 112.94 L160.92 109.78 L154.5 110 L148.08 113.27Z" fill="#20e890"/>
<path d="M219.19 95.45 L225.73 90.49 L219.22 89.54 L212.69 94.58Z" fill="#10ee00"/>
<path d="M128.85 119.07 L135.27 116.64 L128.9 117.33 L122.49 119.88Z" fill="#20e890"/>
<path d="M167.36 109.68 L173.8 106.16 L167.36 106.15 L160.92 109.78Z" fill="#10ee60"/>
<path d="M180.26 106.31 L186.72 102.42 L180.26 102.18 L173.8 106.16Z" fill="#10ee60"/>
<path d="M193.2 102.81 L199.69 98.56 L193.2 98.08 L186.72 102.42Z" fill="#10ee60"/>
<path d="M232.24 91.59 L238.81 86.27 L232.29 85.09 L225.73 90.49Z" fill="#10ee00"/>
<path d="M245.33 87.61 L251.94 81.95 L245.42 80.52 L238.81 86.27Z" fill="#aaee00"/>
<path d="M116.08 121.95 L122.49 119.88 L116.16 120.8 L109.75 122.99Z" fill="#20e890"/>
<path d="M148.05 115.63 L154.49 112.94 L148.08 113.27 L141.65 116.07Z" fill="#20e890"/>
<path d="M212.67 99.95 L219.19 95.45 L212.69 94.58 L206.18 99.19Z" fill="#10ee00"/>
<path d="M122.42 121.03 L128.85 119.07 L122.49 119.88 L116.08 121.95Z" fill="#20e890"/>
<path d="M160.91 112.74 L167.36 109.68 L160.92 109.78 L154.49 112.94Z" fill="#10ee60"/>
<path d="M186.73 106.59 L193.2 102.81 L186.72 102.42 L180.26 106.31Z" fill="#10ee60"/>
<path d="M225.7 96.45 L232.24 91.59 L225.73 90.49 L219.19 95.45Z" fill="#10ee00"/>
<path d="M251.85 89.1 L258.47 83.52 L251.94 81.95 L245.33 87.61Z" fill="#aaee00"/>
<path d="M109.65 123.54 L116.08 121.95 L109.75 122.99 L103.34 124.7Z" fill="#20e890"/>
<path d="M135.22 118.39 L141.65 116.07 L135.27 116.64 L128.85 119.07Z" fill="#20e890"/>
<path d="M173.8 109.73 L180.26 106.31 L173.8 106.16 L167.36 109.68Z" fill="#10ee60"/>
<path d="M199.68 103.33 L206.18 99.19 L199.69 98.56 L193.2 102.81Z" fill="#10ee60"/>
<path d="M238.76 92.84 L245.33 87.61 L238.81 86.27 L232.24 91.59Z" fill="#10ee00"/>
<path d="M103.2 124.64 L109.65 123.54 L103.34 124.7 L96.9 125.92Z" fill="#20e890"/>
<path d="M115.98 122.5 L122.42 121.03 L116.08 121.95 L109.65 123.54Z" fill="#20e890"/>
<path d="M128.79 120.23 L135.22 118.39 L128.85 119.07 L122.42 121.03Z" fill="#20e890"/>
<path d="M141.61 117.84 L148.05 115.63 L141.65 116.07 L135.22 118.39Z" fill="#20e890"/>
<path d="M154.47 115.32 L160.91 112.74 L154.49 112.94 L148.05 115.63Z" fill="#20e890"/>
<path d="M167.35 112.67 L173.8 109.73 L167.36 109.68 L160.91 112.74Z" fill="#10ee60"/>
<path d="M180.26 109.9 L186.73 106.59 L180.26 106.31 L173.8 109.73Z" fill="#10ee60"/>
<path d="M193.2 107.01 L199.68 103.33 L193.2 102.81 L186.73 106.59Z" fill="#10ee60"/>
<path d="M206.17 104 L212.67 99.95 L206.18 99.19 L199.68 103.33Z" fill="#10ee60"/>
<path d="M219.17 100.86 L225.7 96.45 L219.19 95.45 L212.67 99.95Z" fill="#10ee00"/>
<path d="M232.2 97.61 L238.76 92.84 L232.24 91.59 L225.7 96.45Z" fill="#10ee00"/>
<path d="M245.27 94.24 L251.85 89.1 L245.33 87.61 L238.76 92.84Z" fill="#10ee00"/>
<path d="M258.37 90.75 L264.99 85.25 L258.47 83.52 L251.85 89.1Z" fill="#aaee00"/>
<path d="M96.74 125.24 L103.2 124.64 L96.9 125.92 L90.45 126.65Z" fill="#20e890"/>
<path d="M122.34 121.58 L128.79 120.23 L122.42 121.03 L115.98 122.5Z" fill="#20e890"/>
<path d="M160.9 115.14 L167.35 112.67 L160.91 112.74 L154.47 115.32Z" fill="#10ee60"/>
<path d="M173.8 112.74 L180.26 109.9 L173.8 109.73 L167.35 112.67Z" fill="#10ee60"/>
<path d="M186.73 110.22 L193.2 107.01 L186.73 106.59 L180.26 109.9Z" fill="#10ee60"/>
<path d="M199.68 107.58 L206.17 104 L199.68 103.33 L193.2 107.01Z" fill="#10ee60"/>
<path d="M109.53 123.47 L115.98 122.5 L109.65 123.54 L103.2 124.64Z" fill="#20e890"/>
<path d="M135.17 119.56 L141.61 117.84 L135.22 118.39 L128.79 120.23Z" fill="#20e890"/>
<path d="M148.02 117.41 L154.47 115.32 L148.05 115.63 L141.61 117.84Z" fill="#20e890"/>
<path d="M212.66 104.81 L219.17 100.86 L212.67 99.95 L206.17 104Z" fill="#10ee00"/>
<path d="M225.67 101.93 L232.2 97.61 L225.7 96.45 L219.17 100.86Z" fill="#10ee00"/>
<path d="M238.71 98.92 L245.27 94.24 L238.76 92.84 L232.2 97.61Z" fill="#10ee00"/>
<path d="M251.78 95.79 L258.37 90.75 L251.85 89.1 L245.27 94.24Z" fill="#10ee00"/>
<path d="M264.88 92.55 L271.5 87.14 L264.99 85.25 L258.37 90.75Z" fill="#aaee00"/>
<path d="M103.05 123.94 L109.53 123.47 L103.2 124.64 L96.74 125.24Z" fill="#20e890"/>
<path d="M128.71 120.79 L135.17 119.56 L128.79 120.23 L122.34 121.58Z" fill="#20e890"/>
<path d="M167.34 115.1 L173.8 112.74 L167.35 112.67 L160.9 115.14Z" fill="#10ee60"/>
<path d="M180.26 112.95 L186.73 110.22 L180.26 109.9 L173.8 112.74Z" fill="#10ee60"/>
<path d="M193.2 110.68 L199.68 107.58 L193.2 107.01 L186.73 110.22Z" fill="#10ee60"/>
<path d="M245.22 100.38 L251.78 95.79 L245.27 94.24 L238.71 98.92Z" fill="#10ee00"/>
<path d="M90.24 125.33 L96.74 125.24 L90.45 126.65 L83.96 126.87Z" fill="#20e890"/>
<path d="M115.87 122.43 L122.34 121.58 L115.98 122.5 L109.53 123.47Z" fill="#20e890"/>
<path d="M154.44 117.12 L160.9 115.14 L154.47 115.32 L148.02 117.41Z" fill="#10ee60"/>
<path d="M206.17 108.29 L212.66 104.81 L206.17 104 L199.68 107.58Z" fill="#10ee60"/>
<path d="M232.17 103.14 L238.71 98.92 L232.2 97.61 L225.67 101.93Z" fill="#10ee00"/>
<path d="M258.29 97.51 L264.88 92.55 L258.37 90.75 L251.78 95.79Z" fill="#10ee00"/>
<path d="M271.38 94.52 L278.01 89.19 L271.5 87.14 L264.88 92.55Z" fill="#aaee00"/>
<path d="M141.57 119.02 L148.02 117.41 L141.61 117.84 L135.17 119.56Z" fill="#20e890"/>
<path d="M219.16 105.78 L225.67 101.93 L219.17 100.86 L212.66 104.81Z" fill="#10ee00"/>
<path d="M122.24 121.51 L128.71 120.79 L122.34 121.58 L115.87 122.43Z" fill="#20e890"/>
<path d="M173.8 115.19 L180.26 112.95 L173.8 112.74 L167.34 115.1Z" fill="#10ee60"/>
<path d="M186.73 113.3 L193.2 110.68 L186.73 110.22 L180.26 112.95Z" fill="#10ee60"/>
<path d="M251.72 102.01 L258.29 97.51 L251.78 95.79 L245.22 100.38Z" fill="#10ee00"/>
<path d="M109.39 122.77 L115.87 122.43 L109.53 123.47 L103.05 123.94Z" fill="#20e890"/>
<path d="M238.68 104.51 L245.22 100.38 L238.71 98.92 L232.17 103.14Z" fill="#10ee00"/>
<path d="M96.55 123.91 L103.05 123.94 L96.74 125.24 L90.24 125.33Z" fill="#20e890"/>
<path d="M160.88 116.96 L167.34 115.1 L160.9 115.14 L154.44 117.12Z" fill="#10ee60"/>
<path d="M199.68 111.29 L206.17 108.29 L199.68 107.58 L193.2 110.68Z" fill="#10ee60"/>
<path d="M264.79 99.38 L271.38 94.52 L264.88 92.55 L258.29 97.51Z" fill="#10ee00"/>
<path d="M135.1 120.12 L141.57 119.02 L135.17 119.56 L128.71 120.79Z" fill="#10ee60"/>
<path d="M212.66 109.15 L219.16 105.78 L212.66 104.81 L206.17 108.29Z" fill="#10ee00"/>
<path d="M277.88 96.64 L284.51 91.41 L278.01 89.19 L271.38 94.52Z" fill="#aaee00"/>
<path d="M83.72 124.92 L90.24 125.33 L83.96 126.87 L77.45 126.59Z" fill="#20e890"/>
<path d="M147.98 118.6 L154.44 117.12 L148.02 117.41 L141.57 119.02Z" fill="#10ee60"/>
<path d="M225.66 106.89 L232.17 103.14 L225.67 101.93 L219.16 105.78Z" fill="#10ee00"/>
<path d="M180.26 115.43 L186.73 113.3 L180.26 112.95 L173.8 115.19Z" fill="#10ee60"/>
<path d="M115.74 121.72 L122.24 121.51 L115.87 122.43 L109.39 122.77Z" fill="#20e890"/>
<path d="M245.18 106.03 L251.72 102.01 L245.22 100.38 L238.68 104.51Z" fill="#10ee00"/>
<path d="M102.88 122.6 L109.39 122.77 L103.05 123.94 L96.55 123.91Z" fill="#20e890"/>
<path d="M167.33 116.94 L173.8 115.19 L167.34 115.1 L160.88 116.96Z" fill="#10ee60"/>
<path d="M193.21 113.8 L199.68 111.29 L193.2 110.68 L186.73 113.3Z" fill="#10ee60"/>
<path d="M258.22 103.79 L264.79 99.38 L258.29 97.51 L251.72 102.01Z" fill="#10ee00"/>
<path d="M77.17 123.98 L83.72 124.92 L77.45 126.59 L70.91 125.8Z" fill="#20e890"/>
<path d="M90.02 123.35 L96.55 123.91 L90.24 125.33 L83.72 124.92Z" fill="#20e890"/>
<path d="M128.62 120.72 L135.1 120.12 L128.71 120.79 L122.24 121.51Z" fill="#10ee60"/>
<path d="M141.51 119.58 L147.98 118.6 L141.57 119.02 L135.1 120.12Z" fill="#10ee60"/>
<path d="M154.41 118.33 L160.88 116.96 L154.44 117.12 L147.98 118.6Z" fill="#10ee60"/>
<path d="M206.17 112.04 L212.66 109.15 L206.17 108.29 L199.68 111.29Z" fill="#10ee60"/>
<path d="M219.15 110.16 L225.66 106.89 L219.16 105.78 L212.66 109.15Z" fill="#10ee00"/>
<path d="M232.16 108.16 L238.68 104.51 L232.17 103.14 L225.66 106.89Z" fill="#10ee00"/>
<path d="M271.28 101.42 L277.88 96.64 L271.38 94.52 L264.79 99.38Z" fill="#10ee00"/>
<path d="M284.37 98.93 L291 93.79 L284.51 91.41 L277.88 96.64Z" fill="#10ee00"/>
<path d="M109.23 121.42 L115.74 121.72 L109.39 122.77 L102.88 122.6Z" fill="#10ee60"/>
<path d="M173.79 117.06 L180.26 115.43 L173.8 115.19 L167.33 116.94Z" fill="#10ee60"/>
<path d="M186.73 115.81 L193.21 113.8 L186.73 113.3 L180.26 115.43Z" fill="#10ee60"/>
<path d="M251.68 107.71 L258.22 103.79 L251.72 102.01 L245.18 106.03Z" fill="#10ee00"/>
<path d="M83.46 122.28 L90.02 123.35 L83.72 124.92 L77.17 123.98Z" fill="#20e890"/>
<path d="M96.34 121.91 L102.88 122.6 L96.55 123.91 L90.02 123.35Z" fill="#10ee60"/>
<path d="M122.12 120.8 L128.62 120.72 L122.24 121.51 L115.74 121.72Z" fill="#10ee60"/>
<path d="M135.02 120.05 L141.51 119.58 L135.1 120.12 L128.62 120.72Z" fill="#10ee60"/>
<path d="M147.93 119.18 L154.41 118.33 L147.98 118.6 L141.51 119.58Z" fill="#10ee60"/>
<path d="M160.86 118.18 L167.33 116.94 L160.88 116.96 L154.41 118.33Z" fill="#10ee60"/>
<path d="M199.69 114.44 L206.17 112.04 L199.68 111.29 L193.21 113.8Z" fill="#10ee60"/>
<path d="M212.66 112.94 L219.15 110.16 L212.66 109.15 L206.17 112.04Z" fill="#10ee00"/>
<path d="M225.65 111.32 L232.16 108.16 L225.66 106.89 L219.15 110.16Z" fill="#10ee00"/>
<path d="M238.65 109.58 L245.18 106.03 L238.68 104.51 L232.16 108.16Z" fill="#10ee00"/>
<path d="M264.71 105.73 L271.28 101.42 L264.79 99.38 L258.22 103.79Z" fill="#10ee00"/>
<path d="M277.77 103.62 L284.37 98.93 L277.88 96.64 L271.28 101.42Z" fill="#10ee00"/>
<path d="M70.58 122.51 L77.17 123.98 L70.91 125.8 L64.33 124.48Z" fill="#20e890"/>
<path d="M290.85 101.39 L297.48 96.33 L291 93.79 L284.37 98.93Z" fill="#10ee00"/>
<path d="M89.77 120.69 L96.34 121.91 L90.02 123.35 L83.46 122.28Z" fill="#10ee60"/>
<path d="M102.68 120.59 L109.23 121.42 L102.88 122.6 L96.34 121.91Z" fill="#10ee60"/>
<path d="M128.52 120 L135.02 120.05 L128.62 120.72 L122.12 120.8Z" fill="#10ee60"/>
<path d="M141.44 119.52 L147.93 119.18 L141.51 119.58 L135.02 120.05Z" fill="#10ee60"/>
<path d="M154.37 118.91 L160.86 118.18 L154.41 118.33 L147.93 119.18Z" fill="#10ee60"/>
<path d="M167.31 118.18 L173.79 117.06 L167.33 116.94 L160.86 118.18Z" fill="#10ee60"/>
<path d="M193.21 116.34 L199.69 114.44 L193.21 113.8 L186.73 115.81Z" fill="#10ee60"/>
<path d="M206.18 115.23 L212.66 112.94 L206.17 112.04 L199.69 114.44Z" fill="#10ee60"/>
<path d="M219.16 114 L225.65 111.32 L219.15 110.16 L212.66 112.94Z" fill="#10ee00"/>
<path d="M232.15 112.64 L238.65 109.58 L232.16 108.16 L225.65 111.32Z" fill="#10ee00"/>
<path d="M258.17 109.56 L264.71 105.73 L258.22 103.79 L251.68 107.71Z" fill="#10ee00"/>
<path d="M271.2 107.83 L277.77 103.62 L271.28 101.42 L264.71 105.73Z" fill="#10ee00"/>
<path d="M76.86 120.67 L83.46 122.28 L77.17 123.98 L70.58 122.51Z" fill="#10ee60"/>
<path d="M115.6 120.36 L122.12 120.8 L115.74 121.72 L109.23 121.42Z" fill="#10ee60"/>
<path d="M180.26 117.32 L186.73 115.81 L180.26 115.43 L173.79 117.06Z" fill="#10ee60"/>
<path d="M245.15 111.16 L251.68 107.71 L245.18 106.03 L238.65 109.58Z" fill="#10ee00"/>
<path d="M284.26 105.99 L290.85 101.39 L284.37 98.93 L277.77 103.62Z" fill="#10ee00"/>
<path d="M63.95 120.52 L70.58 122.51 L64.33 124.48 L57.71 122.63Z" fill="#10ee60"/>
<path d="M297.32 104.02 L303.95 99.05 L297.48 96.33 L290.85 101.39Z" fill="#10ee00"/>
<path d="M96.11 119.22 L102.68 120.59 L96.34 121.91 L89.77 120.69Z" fill="#10ee60"/>
<path d="M134.93 119.34 L141.44 119.52 L135.02 120.05 L128.52 120Z" fill="#10ee60"/>
<path d="M147.88 119.12 L154.37 118.91 L147.93 119.18 L141.44 119.52Z" fill="#10ee60"/>
<path d="M160.83 118.78 L167.31 118.18 L160.86 118.18 L154.37 118.91Z" fill="#10ee60"/>
<path d="M199.7 117.01 L206.18 115.23 L199.69 114.44 L193.21 116.34Z" fill="#10ee60"/>
<path d="M212.67 116.17 L219.16 114 L212.66 112.94 L206.18 115.23Z" fill="#10ee00"/>
<path d="M225.66 115.21 L232.15 112.64 L225.65 111.32 L219.16 114Z" fill="#10ee00"/>
<path d="M264.66 111.57 L271.2 107.83 L264.71 105.73 L258.17 109.56Z" fill="#10ee00"/>
<path d="M83.17 118.93 L89.77 120.69 L83.46 122.28 L76.86 120.67Z" fill="#10ee60"/>
<path d="M121.99 119.42 L128.52 120 L122.12 120.8 L115.6 120.36Z" fill="#10ee60"/>
<path d="M238.65 114.12 L245.15 111.16 L238.65 109.58 L232.15 112.64Z" fill="#10ee00"/>
<path d="M277.69 110.11 L284.26 105.99 L277.77 103.62 L271.2 107.83Z" fill="#10ee00"/>
<path d="M57.28 117.97 L63.95 120.52 L57.71 122.63 L51.04 120.24Z" fill="#10ee60"/>
<path d="M70.23 118.52 L76.86 120.67 L70.58 122.51 L63.95 120.52Z" fill="#10ee60"/>
<path d="M109.05 119.39 L115.6 120.36 L109.23 121.42 L102.68 120.59Z" fill="#10ee60"/>
<path d="M173.78 118.32 L180.26 117.32 L173.79 117.06 L167.31 118.18Z" fill="#10ee60"/>
<path d="M186.74 117.73 L193.21 116.34 L186.73 115.81 L180.26 117.32Z" fill="#10ee60"/>
<path d="M251.65 112.9 L258.17 109.56 L251.68 107.71 L245.15 111.16Z" fill="#10ee00"/>
<path d="M290.73 108.53 L297.32 104.02 L290.85 101.39 L284.26 105.99Z" fill="#10ee00"/>
<path d="M303.78 106.82 L310.41 101.94 L303.95 99.05 L297.32 104.02Z" fill="#10ee00"/>
<path d="M141.37 118.8 L147.88 119.12 L141.44 119.52 L134.93 119.34Z" fill="#10ee60"/>
<path d="M154.33 118.86 L160.83 118.78 L154.37 118.91 L147.88 119.12Z" fill="#10ee60"/>
<path d="M206.19 117.84 L212.67 116.17 L206.18 115.23 L199.7 117.01Z" fill="#10ee00"/>
<path d="M219.17 117.27 L225.66 115.21 L219.16 114 L212.67 116.17Z" fill="#10ee00"/>
<path d="M89.5 117.32 L96.11 119.22 L89.77 120.69 L83.17 118.93Z" fill="#10ee60"/>
<path d="M128.4 118.62 L134.93 119.34 L128.52 120 L121.99 119.42Z" fill="#10ee60"/>
<path d="M232.15 116.57 L238.65 114.12 L232.15 112.64 L225.66 115.21Z" fill="#10ee00"/>
<path d="M271.15 113.74 L277.69 110.11 L271.2 107.83 L264.66 111.57Z" fill="#10ee00"/>
<path d="M63.55 115.82 L70.23 118.52 L63.95 120.52 L57.28 117.97Z" fill="#10ee60"/>
<path d="M76.53 116.63 L83.17 118.93 L76.86 120.67 L70.23 118.52Z" fill="#10ee60"/>
<path d="M102.47 117.88 L109.05 119.39 L102.68 120.59 L96.11 119.22Z" fill="#10ee60"/>
<path d="M115.44 118.31 L121.99 119.42 L115.6 120.36 L109.05 119.39Z" fill="#10ee60"/>
<path d="M167.29 118.8 L173.78 118.32 L167.31 118.18 L160.83 118.78Z" fill="#10ee60"/>
<path d="M193.22 118.28 L199.7 117.01 L193.21 116.34 L186.74 117.73Z" fill="#10ee00"/>
<path d="M245.14 115.75 L251.65 112.9 L245.15 111.16 L238.65 114.12Z" fill="#10ee00"/>
<path d="M258.14 114.81 L264.66 111.57 L258.17 109.56 L251.65 112.9Z" fill="#10ee00"/>
<path d="M284.16 112.55 L290.73 108.53 L284.26 105.99 L277.69 110.11Z" fill="#10ee00"/>
<path d="M297.19 111.24 L303.78 106.82 L297.32 104.02 L290.73 108.53Z" fill="#10ee00"/>
<path d="M180.26 118.6 L186.74 117.73 L180.26 117.32 L173.78 118.32Z" fill="#10ee60"/>
<path d="M147.81 118.41 L154.33 118.86 L147.88 119.12 L141.37 118.8Z" fill="#10ee00"/>
<path d="M212.69 118.82 L219.17 117.27 L212.67 116.17 L206.19 117.84Z" fill="#10ee00"/>
<path d="M134.83 117.95 L141.37 118.8 L134.93 119.34 L128.4 118.62Z" fill="#10ee00"/>
<path d="M225.67 118.52 L232.15 116.57 L225.66 115.21 L219.17 117.27Z" fill="#10ee00"/>
<path d="M69.85 113.78 L76.53 116.63 L70.23 118.52 L63.55 115.82Z" fill="#10ee00"/>
<path d="M82.86 114.86 L89.5 117.32 L83.17 118.93 L76.53 116.63Z" fill="#10ee00"/>
<path d="M108.86 116.65 L115.44 118.31 L109.05 119.39 L102.47 117.88Z" fill="#10ee00"/>
<path d="M121.85 117.36 L128.4 118.62 L121.99 119.42 L115.44 118.31Z" fill="#10ee00"/>
<path d="M160.79 118.74 L167.29 118.8 L160.83 118.78 L154.33 118.86Z" fill="#10ee00"/>
<path d="M199.72 118.99 L206.19 117.84 L199.7 117.01 L193.22 118.28Z" fill="#10ee00"/>
<path d="M238.65 118.1 L245.14 115.75 L238.65 114.12 L232.15 116.57Z" fill="#10ee00"/>
<path d="M251.63 117.55 L258.14 114.81 L251.65 112.9 L245.14 115.75Z" fill="#10ee00"/>
<path d="M277.62 116.09 L284.16 112.55 L277.69 110.11 L271.15 113.74Z" fill="#10ee00"/>
<path d="M290.63 115.16 L297.19 111.24 L290.73 108.53 L284.16 112.55Z" fill="#10ee00"/>
<path d="M95.86 115.82 L102.47 117.88 L96.11 119.22 L89.5 117.32Z" fill="#10ee00"/>
<path d="M173.77 118.95 L180.26 118.6 L173.78 118.32 L167.29 118.8Z" fill="#10ee00"/>
<path d="M186.74 119.03 L193.22 118.28 L186.74 117.73 L180.26 118.6Z" fill="#10ee00"/>
<path d="M264.63 116.88 L271.15 113.74 L264.66 111.57 L258.14 114.81Z" fill="#10ee00"/>
<path d="M141.28 117.41 L147.81 118.41 L141.37 118.8 L134.83 117.95Z" fill="#10ee00"/>
<path d="M219.19 119.95 L225.67 118.52 L219.17 117.27 L212.69 118.82Z" fill="#10ee00"/>
<path d="M76.17 111.85 L82.86 114.86 L76.53 116.63 L69.85 113.78Z" fill="#10ee00"/>
<path d="M115.26 115.56 L121.85 117.36 L115.44 118.31 L108.86 116.65Z" fill="#10ee00"/>
<path d="M128.28 116.55 L134.83 117.95 L128.4 118.62 L121.85 117.36Z" fill="#10ee00"/>
<path d="M154.28 118.15 L160.79 118.74 L154.33 118.86 L147.81 118.41Z" fill="#10ee00"/>
<path d="M206.21 119.85 L212.69 118.82 L206.19 117.84 L199.72 118.99Z" fill="#10ee00"/>
<path d="M232.17 119.94 L238.65 118.1 L232.15 116.57 L225.67 118.52Z" fill="#10ee00"/>
<path d="M245.15 119.79 L251.63 117.55 L245.14 115.75 L238.65 118.1Z" fill="#10ee00"/>
<path d="M284.09 118.6 L290.63 115.16 L284.16 112.55 L277.62 116.09Z" fill="#10ee00"/>
<path d="M102.24 114.45 L108.86 116.65 L102.47 117.88 L95.86 115.82Z" fill="#10ee00"/>
<path d="M167.27 118.77 L173.77 118.95 L167.29 118.8 L160.79 118.74Z" fill="#10ee00"/>
<path d="M180.25 119.25 L186.74 119.03 L180.26 118.6 L173.77 118.95Z" fill="#10ee00"/>
<path d="M193.23 119.61 L199.72 118.99 L193.22 118.28 L186.74 119.03Z" fill="#10ee00"/>
<path d="M258.12 119.52 L264.63 116.88 L258.14 114.81 L251.63 117.55Z" fill="#10ee00"/>
<path d="M89.21 113.21 L95.86 115.82 L89.5 117.32 L82.86 114.86Z" fill="#10ee00"/>
<path d="M271.11 119.12 L277.62 116.09 L271.15 113.74 L264.63 116.88Z" fill="#10ee00"/>
<path d="M121.69 114.6 L128.28 116.55 L121.85 117.36 L115.26 115.56Z" fill="#10ee00"/>
<path d="M225.69 121.25 L232.17 119.94 L225.67 118.52 L219.19 119.95Z" fill="#10ee00"/>
<path d="M95.59 111.68 L102.24 114.45 L95.86 115.82 L89.21 113.21Z" fill="#10ee00"/>
<path d="M108.65 113.2 L115.26 115.56 L108.86 116.65 L102.24 114.45Z" fill="#10ee00"/>
<path d="M134.72 115.87 L141.28 117.41 L134.83 117.95 L128.28 116.55Z" fill="#10ee00"/>
<path d="M147.74 117.02 L154.28 118.15 L147.81 118.41 L141.28 117.41Z" fill="#10ee00"/>
<path d="M160.75 118.04 L167.27 118.77 L160.79 118.74 L154.28 118.15Z" fill="#10ee00"/>
<path d="M173.75 118.93 L180.25 119.25 L173.77 118.95 L167.27 118.77Z" fill="#10ee00"/>
<path d="M186.75 119.7 L193.23 119.61 L186.74 119.03 L180.25 119.25Z" fill="#10ee00"/>
<path d="M199.73 120.34 L206.21 119.85 L199.72 118.99 L193.23 119.61Z" fill="#10ee00"/>
<path d="M212.71 120.86 L219.19 119.95 L212.69 118.82 L206.21 119.85Z" fill="#10ee00"/>
<path d="M238.67 121.51 L245.15 119.79 L238.65 118.1 L232.17 119.94Z" fill="#10ee00"/>
<path d="M251.64 121.65 L258.12 119.52 L251.63 117.55 L245.15 119.79Z" fill="#10ee00"/>
<path d="M277.58 121.53 L284.09 118.6 L277.62 116.09 L271.11 119.12Z" fill="#10ee00"/>
<path d="M82.52 110.04 L89.21 113.21 L82.86 114.86 L76.17 111.85Z" fill="#10ee00"/>
<path d="M264.61 121.65 L271.11 119.12 L264.63 116.88 L258.12 119.52Z" fill="#10ee00"/>
<path d="M128.14 113.77 L134.72 115.87 L128.28 116.55 L121.69 114.6Z" fill="#10ee00"/>
<path d="M88.9 108.35 L95.59 111.68 L89.21 113.21 L82.52 110.04Z" fill="#aaee00"/>
<path d="M115.07 112.09 L121.69 114.6 L115.26 115.56 L108.65 113.2Z" fill="#10ee00"/>
<path d="M167.24 118.07 L173.75 118.93 L167.27 118.77 L160.75 118.04Z" fill="#10ee00"/>
<path d="M180.25 119.25 L186.75 119.7 L180.25 119.25 L173.75 118.93Z" fill="#10ee00"/>
<path d="M193.25 120.3 L199.73 120.34 L193.23 119.61 L186.75 119.7Z" fill="#10ee00"/>
<path d="M232.19 122.71 L238.67 121.51 L232.17 119.94 L225.69 121.25Z" fill="#10ee00"/>
<path d="M245.16 123.25 L251.64 121.65 L245.15 119.79 L238.67 121.51Z" fill="#10ee00"/>
<path d="M154.22 116.76 L160.75 118.04 L154.28 118.15 L147.74 117.02Z" fill="#10ee00"/>
<path d="M219.22 122.03 L225.69 121.25 L219.19 119.95 L212.71 120.86Z" fill="#10ee00"/>
<path d="M258.13 123.67 L264.61 121.65 L258.12 119.52 L251.64 121.65Z" fill="#10ee00"/>
<path d="M102 110.28 L108.65 113.2 L102.24 114.45 L95.59 111.68Z" fill="#10ee00"/>
<path d="M141.18 115.33 L147.74 117.02 L141.28 117.41 L134.72 115.87Z" fill="#10ee00"/>
<path d="M206.24 121.23 L212.71 120.86 L206.21 119.85 L199.73 120.34Z" fill="#10ee00"/>
<path d="M271.09 123.96 L277.58 121.53 L271.11 119.12 L264.61 121.65Z" fill="#10ee00"/>
<path d="M95.3 106.79 L102 110.28 L95.59 111.68 L88.9 108.35Z" fill="#aaee00"/>
<path d="M121.52 111.1 L128.14 113.77 L121.69 114.6 L115.07 112.09Z" fill="#aaee00"/>
<path d="M134.6 113.08 L141.18 115.33 L134.72 115.87 L128.14 113.77Z" fill="#aaee00"/>
<path d="M173.74 118.25 L180.25 119.25 L173.75 118.93 L167.24 118.07Z" fill="#10ee00"/>
<path d="M186.75 119.72 L193.25 120.3 L186.75 119.7 L180.25 119.25Z" fill="#10ee00"/>
<path d="M199.75 121.06 L206.24 121.23 L199.73 120.34 L193.25 120.3Z" fill="#10ee00"/>
<path d="M238.69 124.33 L245.16 123.25 L238.67 121.51 L232.19 122.71Z" fill="#10ee00"/>
<path d="M251.66 125.16 L258.13 123.67 L251.64 121.65 L245.16 123.25Z" fill="#10ee00"/>
<path d="M108.42 109.01 L115.07 112.09 L108.65 113.2 L102 110.28Z" fill="#aaee00"/>
<path d="M147.66 114.93 L154.22 116.76 L147.74 117.02 L141.18 115.33Z" fill="#10ee00"/>
<path d="M160.71 116.65 L167.24 118.07 L160.75 118.04 L154.22 116.76Z" fill="#10ee00"/>
<path d="M212.75 122.28 L219.22 122.03 L212.71 120.86 L206.24 121.23Z" fill="#10ee00"/>
<path d="M225.73 123.37 L232.19 122.71 L225.69 121.25 L219.22 122.03Z" fill="#10ee00"/>
<path d="M264.61 125.86 L271.09 123.96 L264.61 121.65 L258.13 123.67Z" fill="#10ee00"/>
<path d="M114.87 107.86 L121.52 111.1 L115.07 112.09 L108.42 109.01Z" fill="#aaee00"/>
<path d="M180.24 118.57 L186.75 119.72 L180.25 119.25 L173.74 118.25Z" fill="#10ee00"/>
<path d="M193.26 120.34 L199.75 121.06 L193.25 120.3 L186.75 119.72Z" fill="#10ee00"/>
<path d="M258.15 127.23 L264.61 125.86 L258.13 123.67 L251.66 125.16Z" fill="#10ee00"/>
<path d="M101.73 105.35 L108.42 109.01 L102 110.28 L95.3 106.79Z" fill="#aaee00"/>
<path d="M127.98 110.26 L134.6 113.08 L128.14 113.77 L121.52 111.1Z" fill="#aaee00"/>
<path d="M141.08 112.52 L147.66 114.93 L141.18 115.33 L134.6 113.08Z" fill="#aaee00"/>
<path d="M154.15 114.67 L160.71 116.65 L154.22 116.76 L147.66 114.93Z" fill="#aaee00"/>
<path d="M167.21 116.68 L173.74 118.25 L167.24 118.07 L160.71 116.65Z" fill="#10ee00"/>
<path d="M206.27 121.97 L212.75 122.28 L206.24 121.23 L199.75 121.06Z" fill="#10ee00"/>
<path d="M219.26 123.48 L225.73 123.37 L219.22 122.03 L212.75 122.28Z" fill="#10ee00"/>
<path d="M232.23 124.86 L238.69 124.33 L232.19 122.71 L225.73 123.37Z" fill="#10ee00"/>
<path d="M245.19 126.11 L251.66 125.16 L245.16 123.25 L238.69 124.33Z" fill="#10ee00"/>
<path d="M108.18 104.04 L114.87 107.86 L108.42 109.01 L101.73 105.35Z" fill="#aaee00"/>
<path d="M147.57 112.11 L154.15 114.67 L147.66 114.93 L141.08 112.52Z" fill="#aaee00"/>
<path d="M160.65 114.55 L167.21 116.68 L160.71 116.65 L154.15 114.67Z" fill="#aaee00"/>
<path d="M173.72 116.87 L180.24 118.57 L173.74 118.25 L167.21 116.68Z" fill="#aaee00"/>
<path d="M186.76 119.05 L193.26 120.34 L186.75 119.72 L180.24 118.57Z" fill="#10ee00"/>
<path d="M199.78 121.12 L206.27 121.97 L199.75 121.06 L193.26 120.34Z" fill="#10ee00"/>
<path d="M212.78 123.05 L219.26 123.48 L212.75 122.28 L206.27 121.97Z" fill="#10ee00"/>
<path d="M251.69 128.07 L258.15 127.23 L251.66 125.16 L245.19 126.11Z" fill="#10ee00"/>
<path d="M121.33 106.86 L127.98 110.26 L121.52 111.1 L114.87 107.86Z" fill="#aaee00"/>
<path d="M134.46 109.55 L141.08 112.52 L134.6 113.08 L127.98 110.26Z" fill="#aaee00"/>
<path d="M225.77 124.85 L232.23 124.86 L225.73 123.37 L219.26 123.48Z" fill="#10ee00"/>
<path d="M238.74 126.53 L245.19 126.11 L238.69 124.33 L232.23 124.86Z" fill="#10ee00"/>
<path d="M114.65 102.87 L121.33 106.86 L114.87 107.86 L108.18 104.04Z" fill="#f0e000"/>
<path d="M140.96 108.98 L147.57 112.11 L141.08 112.52 L134.46 109.55Z" fill="#aaee00"/>
<path d="M154.08 111.84 L160.65 114.55 L154.15 114.67 L147.57 112.11Z" fill="#aaee00"/>
<path d="M167.17 114.59 L173.72 116.87 L167.21 116.68 L160.65 114.55Z" fill="#aaee00"/>
<path d="M180.24 117.2 L186.76 119.05 L180.24 118.57 L173.72 116.87Z" fill="#aaee00"/>
<path d="M193.28 119.69 L199.78 121.12 L193.26 120.34 L186.76 119.05Z" fill="#aaee00"/>
<path d="M206.3 122.05 L212.78 123.05 L206.27 121.97 L199.78 121.12Z" fill="#10ee00"/>
<path d="M219.3 124.28 L225.77 124.85 L219.26 123.48 L212.78 123.05Z" fill="#10ee00"/>
<path d="M245.24 128.36 L251.69 128.07 L245.19 126.11 L238.74 126.53Z" fill="#10ee00"/>
<path d="M127.82 105.98 L134.46 109.55 L127.98 110.26 L121.33 106.86Z" fill="#aaee00"/>
<path d="M232.28 126.39 L238.74 126.53 L232.23 124.86 L225.77 124.85Z" fill="#10ee00"/>
<path d="M160.6 111.72 L167.17 114.59 L160.65 114.55 L154.08 111.84Z" fill="#aaee00"/>
<path d="M199.81 120.49 L206.3 122.05 L199.78 121.12 L193.28 119.69Z" fill="#aaee00"/>
<path d="M121.13 101.83 L127.82 105.98 L121.33 106.86 L114.65 102.87Z" fill="#f0e000"/>
<path d="M134.32 105.25 L140.96 108.98 L134.46 109.55 L127.82 105.98Z" fill="#f0e000"/>
<path d="M147.47 108.55 L154.08 111.84 L147.57 112.11 L140.96 108.98Z" fill="#aaee00"/>
<path d="M173.7 114.77 L180.24 117.2 L173.72 116.87 L167.17 114.59Z" fill="#aaee00"/>
<path d="M186.77 117.69 L193.28 119.69 L186.76 119.05 L180.24 117.2Z" fill="#aaee00"/>
<path d="M212.83 123.15 L219.3 124.28 L212.78 123.05 L206.3 122.05Z" fill="#aaee00"/>
<path d="M225.82 125.68 L232.28 126.39 L225.77 124.85 L219.3 124.28Z" fill="#10ee00"/>
<path d="M238.79 128.09 L245.24 128.36 L238.74 126.53 L232.28 126.39Z" fill="#10ee00"/>
<path d="M167.13 111.76 L173.7 114.77 L167.17 114.59 L160.6 111.72Z" fill="#aaee00"/>
<path d="M206.34 121.44 L212.83 123.15 L206.3 122.05 L199.81 120.49Z" fill="#aaee00"/>
<path d="M127.64 100.93 L134.32 105.25 L127.82 105.98 L121.13 101.83Z" fill="#f0e000"/>
<path d="M140.84 104.66 L147.47 108.55 L140.96 108.98 L134.32 105.25Z" fill="#f0e000"/>
<path d="M154 108.27 L160.6 111.72 L154.08 111.84 L147.47 108.55Z" fill="#f0e000"/>
<path d="M180.23 115.11 L186.77 117.69 L180.24 117.2 L173.7 114.77Z" fill="#aaee00"/>
<path d="M193.3 118.34 L199.81 120.49 L193.28 119.69 L186.77 117.69Z" fill="#aaee00"/>
<path d="M219.35 124.41 L225.82 125.68 L219.3 124.28 L212.83 123.15Z" fill="#aaee00"/>
<path d="M232.34 127.25 L238.79 128.09 L232.28 126.39 L225.82 125.68Z" fill="#10ee00"/>
<path d="M134.16 100.18 L140.84 104.66 L134.32 105.25 L127.64 100.93Z" fill="#f0e000"/>
<path d="M147.37 104.22 L154 108.27 L147.47 108.55 L140.84 104.66Z" fill="#f0e000"/>
<path d="M160.54 108.14 L167.13 111.76 L160.6 111.72 L154 108.27Z" fill="#f0e000"/>
<path d="M173.67 111.94 L180.23 115.11 L173.7 114.77 L167.13 111.76Z" fill="#f0e000"/>
<path d="M186.77 115.61 L193.3 118.34 L186.77 117.69 L180.23 115.11Z" fill="#aaee00"/>
<path d="M199.84 119.15 L206.34 121.44 L199.81 120.49 L193.3 118.34Z" fill="#aaee00"/>
<path d="M212.88 122.56 L219.35 124.41 L212.83 123.15 L206.34 121.44Z" fill="#aaee00"/>
<path d="M225.88 125.84 L232.34 127.25 L225.82 125.68 L219.35 124.41Z" fill="#aaee00"/>
<path d="M140.7 99.56 L147.37 104.22 L140.84 104.66 L134.16 100.18Z" fill="#f0e000"/>
<path d="M167.09 108.17 L173.67 111.94 L167.13 111.76 L160.54 108.14Z" fill="#f0e000"/>
<path d="M180.22 112.28 L186.77 115.61 L180.23 115.11 L173.67 111.94Z" fill="#f0e000"/>
<path d="M206.39 120.12 L212.88 122.56 L206.34 121.44 L199.84 119.15Z" fill="#aaee00"/>
<path d="M219.42 123.85 L225.88 125.84 L219.35 124.41 L212.88 122.56Z" fill="#aaee00"/>
<path d="M153.92 103.93 L160.54 108.14 L154 108.27 L147.37 104.22Z" fill="#f0e000"/>
<path d="M193.32 116.27 L199.84 119.15 L193.3 118.34 L186.77 115.61Z" fill="#aaee00"/>
<path d="M147.26 99.1 L153.92 103.93 L147.37 104.22 L140.7 99.56Z" fill="#f09a10"/>
<path d="M160.47 103.79 L167.09 108.17 L160.54 108.14 L153.92 103.93Z" fill="#f0e000"/>
<path d="M173.65 108.35 L180.22 112.28 L173.67 111.94 L167.09 108.17Z" fill="#f0e000"/>
<path d="M186.78 112.78 L193.32 116.27 L186.77 115.61 L180.22 112.28Z" fill="#f0e000"/>
<path d="M199.88 117.09 L206.39 120.12 L199.84 119.15 L193.32 116.27Z" fill="#aaee00"/>
<path d="M212.94 121.26 L219.42 123.85 L212.88 122.56 L206.39 120.12Z" fill="#aaee00"/>
<path d="M153.82 98.79 L160.47 103.79 L153.92 103.93 L147.26 99.1Z" fill="#f09a10"/>
<path d="M167.04 103.8 L173.65 108.35 L167.09 108.17 L160.47 103.79Z" fill="#f09a10"/>
<path d="M180.22 108.68 L186.78 112.78 L180.22 112.28 L173.65 108.35Z" fill="#f0e000"/>
<path d="M193.35 113.44 L199.88 117.09 L193.32 116.27 L186.78 112.78Z" fill="#f0e000"/>
<path d="M206.44 118.07 L212.94 121.26 L206.39 120.12 L199.88 117.09Z" fill="#f0e000"/>
<path d="M160.4 98.63 L167.04 103.8 L160.47 103.79 L153.82 98.79Z" fill="#f09a10"/>
<path d="M173.62 103.97 L180.22 108.68 L173.65 108.35 L167.04 103.8Z" fill="#f09a10"/>
<path d="M186.8 109.18 L193.35 113.44 L186.78 112.78 L180.22 108.68Z" fill="#f0e000"/>
<path d="M199.92 114.27 L206.44 118.07 L199.88 117.09 L193.35 113.44Z" fill="#f0e000"/>
<path d="M167 98.62 L173.62 103.97 L167.04 103.8 L160.4 98.63Z" fill="#f09a10"/>
<path d="M180.21 104.3 L186.8 109.18 L180.22 108.68 L173.62 103.97Z" fill="#f09a10"/>
<path d="M193.38 109.84 L199.92 114.27 L193.35 113.44 L186.8 109.18Z" fill="#f0e000"/>
<path d="M173.6 98.78 L180.21 104.3 L173.62 103.97 L167 98.62Z" fill="#f09a10"/>
<path d="M186.81 104.79 L193.38 109.84 L186.8 109.18 L180.21 104.3Z" fill="#f09a10"/>
<path d="M180.21 99.1 L186.81 104.79 L180.21 104.3 L173.6 98.78Z" fill="#f09a10"/>
</g>
<line x1="51.4" y1="543.8" x2="43.2" y2="375.2" stroke="#3a3a3a" stroke-width="0.9"/>
<line x1="174.2" y1="498.1" x2="174.5" y2="346.1" stroke="#3a3a3a" stroke-width="0.9"/>
<line x1="297.2" y1="544.1" x2="305.4" y2="376" stroke="#3a3a3a" stroke-width="0.9"/>
<line x1="43.2" y1="375.2" x2="174.5" y2="346.1" stroke="#3a3a3a" stroke-width="0.9"/>
<line x1="174.5" y1="346.1" x2="305.4" y2="376" stroke="#3a3a3a" stroke-width="0.9"/>
<path d="M51.4 543.8 L174.2 498.1 L297.2 544.1 L174.2 603.2 Z" fill="#636363" stroke="#111" stroke-width="1"/>
<path d="M68.7 537.4 L68.5 537.9 L68.4 538.3 L68.3 538.7 L68.1 539.3 L68.1 539.5 L67.9 540.3 L67.9 540.3 L67.7 541 L67.6 541.2 L67.5 541.8 L67.4 542.2 L67.3 542.6 L67.2 543.2 L67.1 543.4 L67 544.1 L67 544.2 L66.8 545 L66.8 545.1 L66.6 545.8 L66.6 546 L66.5 546.6 L66.4 547 L66.3 547.4 L66.2 548 L66.2 548.3 L66.1 548.9 L66 549.1 L65.9 549.9 L65.9 549.9 L65.8 550.8" fill="none" stroke="#2040d8" stroke-width="1.5"/>
<path d="M90.5 529.2 L90.2 529.9 L90 530.3 L89.9 530.6 L89.5 531.3 L89.5 531.3 L89.2 532 L89 532.4 L88.8 532.7 L88.5 533.4 L88.5 533.4 L88.2 534.1 L88.1 534.4 L87.9 534.8 L87.6 535.5 L87.6 535.5 L87.3 536.3 L87.2 536.5 L87 537 L86.8 537.5 L86.7 537.7 L86.4 538.5 L86.4 538.5 L86.2 539.2 L86.1 539.5 L85.9 540 L85.7 540.5 L85.7 540.7 L85.4 541.5 L85.4 541.5 L85.2 542.2 L85.1 542.5 L84.9 543 L84.8 543.5 L84.7 543.8 L84.5 544.5 L84.5 544.5 L84.3 545.3 L84.2 545.5 L84.1 546.1 L84 546.5 L83.8 546.9 L83.7 547.4 L83.7 547.7 L83.5 548.4 L83.5 548.5 L83.3 549.3 L83.3 549.4 L83.1 550.1 L83 550.4 L82.9 550.9 L82.9 551.4 L82.8 551.7 L82.7 552.3 L82.6 552.6 L82.5 553.3 L82.5 553.4 L82.3 554.2 L82.3 554.3 L82.2 555.1 L82.2 555.2 L82.1 555.9 L82 556.2 L81.9 556.8 L81.9 557.1 L81.8 557.6 L81.8 558.1 L81.7 558.5" fill="none" stroke="#2cb4e4" stroke-width="1.5"/>
<path d="M126.3 515.9 L125.9 516.2 L125.2 516.8 L124.6 517.3 L124.5 517.4 L124 517.9 L123.3 518.4 L122.8 518.9 L122.7 519 L122.1 519.5 L121.5 520.1 L121.4 520.2 L120.9 520.7 L120.3 521.3 L120 521.6 L119.7 521.8 L119.2 522.4 L118.8 522.9 L118.6 523 L118.1 523.6 L117.6 524.1 L117.5 524.2 L117 524.8 L116.5 525.4 L116.5 525.4 L115.9 526.1 L115.5 526.6 L115.4 526.7 L114.9 527.3 L114.5 527.8 L114.5 527.9 L114 528.6 L113.6 529 L113.5 529.2 L113 529.8 L112.8 530.2 L112.6 530.5 L112.1 531.1 L112 531.3 L111.7 531.8 L111.3 532.5 L111.2 532.5 L110.8 533.1 L110.5 533.6 L110.4 533.8 L110 534.5 L109.9 534.7 L109.6 535.1 L109.2 535.8 L109.2 535.8 L108.8 536.5 L108.6 536.9 L108.4 537.2 L108.1 537.9 L108 538 L107.7 538.6 L107.5 539.1 L107.4 539.3 L107 540 L107 540.2 L106.7 540.7 L106.5 541.2 L106.3 541.5 L106 542.2 L106 542.3 L105.7 542.9 L105.5 543.3 L105.4 543.7 L105.1 544.4 L105.1 544.4 L104.8 545.2 L104.7 545.4 L104.5 545.9 L104.3 546.4 L104.2 546.7 L104 547.4 L104 547.5 L103.7 548.2 L103.6 548.5 L103.5 549 L103.3 549.5 L103.2 549.7 L103 550.5 L103 550.5 L102.7 551.3 L102.7 551.6 L102.5 552.1 L102.4 552.6 L102.3 552.9 L102.1 553.6 L102.1 553.7 L101.9 554.5 L101.9 554.6 L101.7 555.3 L101.7 555.6 L101.5 556.1 L101.4 556.6 L101.4 556.9 L101.2 557.5 L101.2 557.8 L101 558.5 L101 558.6 L100.9 559.4 L100.9 559.5 L100.7 560.3 L100.7 560.5 L100.6 561.1 L100.5 561.5 L100.5 562 L100.4 562.4 L100.3 562.9 L100.3 563.4 L100.2 563.7 L100.1 564.4 L100.1 564.6 L100 565.4 L100 565.5 L99.9 566.3 L99.9 566.3 L99.9 567.2" fill="none" stroke="#2ce0b0" stroke-width="1.5"/>
<path d="M293.4 545.9 L292.8 545.3 L292.2 544.9 L292.1 544.8 L291.4 544.2 L290.7 543.7 L290.1 543.2 L290 543.1 L289.3 542.6 L288.6 542 L287.9 541.5 L287.9 541.5 L287.2 541 L286.5 540.4 L285.8 539.9 L285.6 539.8" fill="none" stroke="#2cd864" stroke-width="1.5"/>
<path d="M211.2 511.9 L209.8 511.8 L208.6 511.8 L208.1 511.8 L206.2 511.7 L206.2 511.7 L204.3 511.6 L204 511.6 L202.4 511.6 L201.8 511.6 L200.3 511.6 L199.8 511.7 L198.2 511.7 L197.8 511.7 L195.9 511.8 L195.9 511.8 L194.1 511.9 L193.5 511.9 L192.3 512 L191 512.1 L190.6 512.2 L189 512.4 L188.2 512.4 L187.4 512.5 L185.8 512.7 L185.1 512.8 L184.3 513 L182.8 513.2 L181.7 513.4 L181.4 513.4 L180 513.7 L178.6 514 L177.5 514.2 L177.3 514.3 L176 514.6 L174.7 514.9 L173.5 515.2 L172.2 515.5 L171.7 515.7 L171 515.9 L169.9 516.2 L168.7 516.6 L167.6 517 L166.5 517.3 L165.4 517.7 L164.4 518.1 L163.3 518.5 L162.3 518.9 L161.3 519.3 L160.3 519.8 L159.4 520.2 L158.4 520.6 L157.5 521.1 L156.6 521.5 L156.1 521.8 L155.7 522 L154.8 522.5 L154 522.9 L153.1 523.4 L152.3 523.9 L151.5 524.4 L151.3 524.5 L150.7 524.9 L149.9 525.4 L149.1 525.9 L148.3 526.4 L148.1 526.6 L147.6 527 L146.8 527.5 L146.1 528 L145.6 528.4 L145.4 528.6 L144.7 529.1 L144 529.7 L143.5 530.1 L143.3 530.2 L142.7 530.8 L142 531.4 L141.7 531.7 L141.4 531.9 L140.8 532.5 L140.1 533.1 L140.1 533.1 L139.5 533.7 L138.9 534.3 L138.7 534.6 L138.4 534.9 L137.8 535.5 L137.4 535.9 L137.2 536.1 L136.7 536.7 L136.2 537.3 L136.1 537.4 L135.6 538 L135.2 538.5 L135.1 538.6 L134.6 539.3 L134.2 539.8 L134.1 539.9 L133.6 540.6 L133.2 541 L133.1 541.2 L132.6 541.9 L132.4 542.3 L132.2 542.6 L131.7 543.3 L131.6 543.5 L131.3 543.9 L130.9 544.6 L130.8 544.6 L130.4 545.3 L130.2 545.8 L130 546 L129.6 546.7 L129.5 547 L129.2 547.4 L128.9 548.1 L128.9 548.1 L128.5 548.9 L128.3 549.2 L128.1 549.6 L127.8 550.3 L127.8 550.3 L127.4 551 L127.3 551.4 L127.1 551.8 L126.8 552.5 L126.8 552.5 L126.5 553.3 L126.3 553.6 L126.1 554 L125.9 554.7 L125.9 554.8 L125.6 555.6 L125.5 555.7 L125.3 556.4 L125.1 556.8 L125 557.1 L124.8 557.8 L124.8 557.9 L124.5 558.7 L124.5 558.9 L124.3 559.5 L124.2 559.9 L124 560.3 L123.9 561 L123.8 561.1 L123.6 561.9 L123.6 562 L123.4 562.8 L123.4 563 L123.2 563.6 L123.1 564 L123 564.4 L122.9 565 L122.9 565.3 L122.7 566 L122.7 566.1 L122.5 567 L122.5 567 L122.4 567.8 L122.4 568 L122.3 568.7 L122.2 569 L122.1 569.6 L122.1 570 L122 570.4 L121.9 571 L121.9 571.3 L121.8 572 L121.8 572.2 L121.7 573 L121.7 573.1 L121.7 573.9 L121.7 574 L121.6 574.9 L121.6 574.9 L121.5 575.8 L121.5 575.9 L121.5 576.8 L121.5 576.8 L121.4 577.7" fill="none" stroke="#2cd864" stroke-width="1.5"/>
<path d="M268.7 557.8 L268.1 557.2 L267.7 556.9 L267.4 556.6 L266.7 556 L266 555.5 L265.6 555.1 L265.3 554.9 L264.6 554.3 L263.9 553.8 L263.2 553.3 L263.1 553.2 L262.4 552.7 L261.6 552.1 L260.9 551.6 L260.4 551.3 L260.1 551.1 L259.3 550.5 L258.5 550 L257.7 549.5 L257 549 L256.9 549 L256.1 548.5 L255.2 548 L254.4 547.5 L253.5 547 L252.7 546.5 L252.2 546.3 L251.8 546 L250.9 545.6 L250 545.1 L249.1 544.6 L248.2 544.2 L247.2 543.7 L246.3 543.3 L245.3 542.9 L244.3 542.4 L243.3 542 L242.3 541.6 L241.3 541.2 L240.2 540.8 L239.1 540.4 L238.1 540 L236.9 539.6 L235.8 539.3 L234.7 538.9 L233.5 538.6 L232.3 538.2 L231.1 537.9 L230.8 537.8 L229.9 537.6 L228.6 537.3 L227.3 537 L226 536.7 L225.6 536.6 L224.6 536.4 L223.2 536.2 L221.8 535.9 L221.6 535.9 L220.3 535.7 L218.8 535.5 L218.3 535.5 L217.3 535.3 L215.6 535.2 L215.4 535.2 L214 535.1 L212.8 535 L212.2 535 L210.4 534.9 L210.4 534.9 L208.5 534.8 L208.2 534.8 L206.4 534.9 L206.1 534.9 L204.3 534.9 L204.1 534.9 L202.3 535 L201.9 535.1 L200.5 535.2 L199.4 535.3 L198.8 535.4 L197.2 535.6 L196.5 535.6 L195.6 535.8 L194.1 536 L193.2 536.2 L192.7 536.3 L191.3 536.6 L190 536.9 L188.9 537.2 L188.7 537.2 L187.4 537.6 L186.2 537.9 L185 538.3 L183.8 538.7 L182.7 539.1 L181.6 539.5 L180.6 539.9 L179.5 540.3 L178.5 540.8 L177.5 541.2 L176.6 541.7 L175.7 542.2 L174.7 542.7 L173.9 543.2 L173 543.7 L172.2 544.2 L172 544.3 L171.3 544.7 L170.5 545.3 L169.7 545.8 L169 546.4 L168.7 546.6 L168.2 546.9 L167.5 547.5 L166.8 548.1 L166.3 548.5 L166.1 548.6 L165.4 549.2 L164.8 549.8 L164.4 550.1 L164.1 550.5 L163.5 551.1 L162.9 551.7 L162.9 551.7 L162.3 552.3 L161.7 553 L161.5 553.2 L161.1 553.6 L160.6 554.3 L160.3 554.6 L160 554.9 L159.5 555.6 L159.3 555.9 L159 556.3 L158.5 557 L158.3 557.2 L158 557.6 L157.6 558.3 L157.5 558.5 L157.1 559 L156.7 559.8 L156.7 559.8 L156.3 560.5 L156 561 L155.8 561.2 L155.4 561.9 L155.3 562.2 L155.1 562.7 L154.7 563.3 L154.7 563.4 L154.3 564.2 L154.2 564.5 L154 564.9 L153.7 565.6 L153.7 565.7 L153.3 566.5 L153.2 566.8 L153 567.3 L152.8 567.9 L152.7 568.1 L152.5 568.9 L152.4 569 L152.2 569.7 L152.1 570 L151.9 570.5 L151.8 571.1 L151.7 571.3 L151.5 572.1 L151.5 572.2 L151.3 573 L151.2 573.2 L151.1 573.8 L151 574.3 L150.9 574.7 L150.8 575.3 L150.7 575.5 L150.6 576.3 L150.5 576.4 L150.4 577.3 L150.4 577.4 L150.3 578.2 L150.2 578.4 L150.1 579.1 L150.1 579.4 L150 580 L150 580.4 L149.9 580.9 L149.9 581.4 L149.9 581.8 L149.8 582.4 L149.8 582.7 L149.8 583.3 L149.8 583.6 L149.7 584.3 L149.7 584.6 L149.7 585.3 L149.7 585.5 L149.7 586.3 L149.7 586.5 L149.7 587.2 L149.7 587.5 L149.7 588.2 L149.7 588.4 L149.7 589.1 L149.8 589.4 L149.8 590.1 L149.8 590.4 L149.8 591 L149.9 591.4" fill="none" stroke="#2cdc40" stroke-width="1.5"/>
<circle cx="49.46" cy="503.9" r="1.2" fill="#111"/>
<circle cx="48.21" cy="478.16" r="1.2" fill="#111"/>
<circle cx="46.96" cy="452.42" r="1.2" fill="#111"/>
<circle cx="45.7" cy="426.68" r="1.2" fill="#111"/>
<circle cx="44.45" cy="400.94" r="1.2" fill="#111"/>
<circle cx="43.2" cy="375.2" r="1.2" fill="#111"/>
<g stroke="#000" stroke-opacity="0.7" stroke-width="0.55" stroke-linejoin="round">
<path d="M174.35 425.29 L180.12 424.21 L174.35 424.18 L168.58 425.34Z" fill="#10f0c0"/>
<path d="M168.57 426.54 L174.35 425.29 L168.58 425.34 L162.8 426.67Z" fill="#10f0c0"/>
<path d="M180.13 425.34 L185.91 424.35 L180.12 424.21 L174.35 425.29Z" fill="#10f0c0"/>
<path d="M162.79 427.96 L168.57 426.54 L162.8 426.67 L157.02 428.18Z" fill="#10f0c0"/>
<path d="M174.35 426.51 L180.13 425.34 L174.35 425.29 L168.57 426.54Z" fill="#10f0c0"/>
<path d="M185.92 425.51 L191.7 424.61 L185.91 424.35 L180.13 425.34Z" fill="#10f0c0"/>
<path d="M168.56 427.86 L174.35 426.51 L168.57 426.54 L162.79 427.96Z" fill="#10f0c0"/>
<path d="M180.13 426.6 L185.92 425.51 L180.13 425.34 L174.35 426.51Z" fill="#10f0c0"/>
<path d="M157 429.57 L162.79 427.96 L157.02 428.18 L151.25 429.87Z" fill="#10f0c0"/>
<path d="M191.71 425.8 L197.49 424.98 L191.7 424.61 L185.92 425.51Z" fill="#10f0c0"/>
<path d="M162.77 429.38 L168.56 427.86 L162.79 427.96 L157 429.57Z" fill="#10f0c0"/>
<path d="M174.34 427.86 L180.13 426.6 L174.35 426.51 L168.56 427.86Z" fill="#10f0c0"/>
<path d="M185.93 426.8 L191.71 425.8 L185.92 425.51 L180.13 426.6Z" fill="#10f0c0"/>
<path d="M197.51 426.21 L203.29 425.47 L197.49 424.98 L191.71 425.8Z" fill="#10f0c0"/>
<path d="M151.22 431.36 L157 429.57 L151.25 429.87 L145.47 431.74Z" fill="#10f0c0"/>
<path d="M168.55 429.3 L174.34 427.86 L168.56 427.86 L162.77 429.38Z" fill="#10f0c0"/>
<path d="M191.72 427.12 L197.51 426.21 L191.71 425.8 L185.93 426.8Z" fill="#10f0c0"/>
<path d="M145.44 433.34 L151.22 431.36 L145.47 431.74 L139.7 433.8Z" fill="#10f0c0"/>
<path d="M156.99 431.09 L162.77 429.38 L157 429.57 L151.22 431.36Z" fill="#10f0c0"/>
<path d="M180.13 427.98 L185.93 426.8 L180.13 426.6 L174.34 427.86Z" fill="#10f0c0"/>
<path d="M203.31 426.73 L209.09 426.07 L203.29 425.47 L197.51 426.21Z" fill="#10f0c0"/>
<path d="M139.67 435.51 L145.44 433.34 L139.7 433.8 L133.93 436.05Z" fill="#10f0c0"/>
<path d="M151.2 432.99 L156.99 431.09 L151.22 431.36 L145.44 433.34Z" fill="#10f0c0"/>
<path d="M162.76 430.93 L168.55 429.3 L162.77 429.38 L156.99 431.09Z" fill="#10f0c0"/>
<path d="M174.34 429.34 L180.13 427.98 L174.34 427.86 L168.55 429.3Z" fill="#10f0c0"/>
<path d="M185.93 428.22 L191.72 427.12 L185.93 426.8 L180.13 427.98Z" fill="#10f0c0"/>
<path d="M197.53 427.56 L203.31 426.73 L197.51 426.21 L191.72 427.12Z" fill="#10f0c0"/>
<path d="M209.12 427.38 L214.89 426.81 L209.09 426.07 L203.31 426.73Z" fill="#10f0c0"/>
<path d="M133.9 437.86 L139.67 435.51 L133.93 436.05 L128.17 438.49Z" fill="#10f0c0"/>
<path d="M145.42 435.07 L151.2 432.99 L145.44 433.34 L139.67 435.51Z" fill="#10f0c0"/>
<path d="M156.97 432.74 L162.76 430.93 L156.99 431.09 L151.2 432.99Z" fill="#10f0c0"/>
<path d="M168.54 430.88 L174.34 429.34 L168.55 429.3 L162.76 430.93Z" fill="#10f0c0"/>
<path d="M180.14 429.49 L185.93 428.22 L180.13 427.98 L174.34 429.34Z" fill="#10f0c0"/>
<path d="M191.73 428.57 L197.53 427.56 L191.72 427.12 L185.93 428.22Z" fill="#10f060"/>
<path d="M203.33 428.12 L209.12 427.38 L203.31 426.73 L197.53 427.56Z" fill="#10f060"/>
<path d="M214.93 428.15 L220.7 427.66 L214.89 426.81 L209.12 427.38Z" fill="#10f060"/>
<path d="M139.64 437.34 L145.42 435.07 L139.67 435.51 L133.9 437.86Z" fill="#10f0c0"/>
<path d="M151.18 434.74 L156.97 432.74 L151.2 432.99 L145.42 435.07Z" fill="#10f0c0"/>
<path d="M197.54 429.05 L203.33 428.12 L197.53 427.56 L191.73 428.57Z" fill="#10f060"/>
<path d="M209.14 428.81 L214.93 428.15 L209.12 427.38 L203.33 428.12Z" fill="#10f060"/>
<path d="M128.13 440.41 L133.9 437.86 L128.17 438.49 L122.42 441.12Z" fill="#10c8f0"/>
<path d="M162.75 432.61 L168.54 430.88 L162.76 430.93 L156.97 432.74Z" fill="#10f0c0"/>
<path d="M174.34 430.95 L180.14 429.49 L174.34 429.34 L168.54 430.88Z" fill="#10f060"/>
<path d="M185.94 429.76 L191.73 428.57 L185.93 428.22 L180.14 429.49Z" fill="#10f060"/>
<path d="M220.74 429.05 L226.51 428.65 L220.7 427.66 L214.93 428.15Z" fill="#10f060"/>
<path d="M133.87 439.81 L139.64 437.34 L133.9 437.86 L128.13 440.41Z" fill="#10f0c0"/>
<path d="M145.39 436.94 L151.18 434.74 L145.42 435.07 L139.64 437.34Z" fill="#10f0c0"/>
<path d="M156.95 434.53 L162.75 432.61 L156.97 432.74 L151.18 434.74Z" fill="#10f0c0"/>
<path d="M191.74 430.15 L197.54 429.05 L191.73 428.57 L185.94 429.76Z" fill="#10f060"/>
<path d="M203.35 429.65 L209.14 428.81 L203.33 428.12 L197.54 429.05Z" fill="#10f060"/>
<path d="M214.96 429.62 L220.74 429.05 L214.93 428.15 L209.14 428.81Z" fill="#10f060"/>
<path d="M122.38 443.16 L128.13 440.41 L122.42 441.12 L116.67 443.94Z" fill="#10c8f0"/>
<path d="M168.54 432.6 L174.34 430.95 L168.54 430.88 L162.75 432.61Z" fill="#10f060"/>
<path d="M180.13 431.14 L185.94 429.76 L180.14 429.49 L174.34 430.95Z" fill="#10f060"/>
<path d="M226.55 430.07 L232.31 429.76 L226.51 428.65 L220.74 429.05Z" fill="#10f060"/>
<path d="M116.63 446.1 L122.38 443.16 L116.67 443.94 L110.94 446.97Z" fill="#10c8f0"/>
<path d="M128.1 442.48 L133.87 439.81 L128.13 440.41 L122.38 443.16Z" fill="#10f0c0"/>
<path d="M139.61 439.32 L145.39 436.94 L139.64 437.34 L133.87 439.81Z" fill="#10f0c0"/>
<path d="M151.16 436.64 L156.95 434.53 L151.18 434.74 L145.39 436.94Z" fill="#10f0c0"/>
<path d="M162.74 434.43 L168.54 432.6 L162.75 432.61 L156.95 434.53Z" fill="#10f060"/>
<path d="M174.33 432.7 L180.13 431.14 L174.34 430.95 L168.54 432.6Z" fill="#10f060"/>
<path d="M185.94 431.44 L191.74 430.15 L185.94 429.76 L180.13 431.14Z" fill="#10f060"/>
<path d="M197.55 430.66 L203.35 429.65 L197.54 429.05 L191.74 430.15Z" fill="#10f060"/>
<path d="M209.17 430.37 L214.96 429.62 L209.14 428.81 L203.35 429.65Z" fill="#10f060"/>
<path d="M220.77 430.56 L226.55 430.07 L220.74 429.05 L214.96 429.62Z" fill="#10f060"/>
<path d="M232.35 431.23 L238.11 431.01 L232.31 429.76 L226.55 430.07Z" fill="#10f060"/>
<path d="M110.9 449.25 L116.63 446.1 L110.94 446.97 L105.21 450.19Z" fill="#10c8f0"/>
<path d="M122.34 445.34 L128.1 442.48 L122.38 443.16 L116.63 446.1Z" fill="#10f0c0"/>
<path d="M133.84 441.91 L139.61 439.32 L133.87 439.81 L128.1 442.48Z" fill="#10f0c0"/>
<path d="M145.37 438.94 L151.16 436.64 L145.39 436.94 L139.61 439.32Z" fill="#10f0c0"/>
<path d="M156.94 436.46 L162.74 434.43 L156.95 434.53 L151.16 436.64Z" fill="#10f0c0"/>
<path d="M168.53 434.45 L174.33 432.7 L168.54 432.6 L162.74 434.43Z" fill="#10f060"/>
<path d="M180.13 432.92 L185.94 431.44 L180.13 431.14 L174.33 432.7Z" fill="#10f060"/>
<path d="M191.75 431.87 L197.55 430.66 L191.74 430.15 L185.94 431.44Z" fill="#10f060"/>
<path d="M203.37 431.3 L209.17 430.37 L203.35 429.65 L197.55 430.66Z" fill="#10f060"/>
<path d="M214.98 431.22 L220.77 430.56 L214.96 429.62 L209.17 430.37Z" fill="#10f060"/>
<path d="M226.58 431.63 L232.35 431.23 L226.55 430.07 L220.77 430.56Z" fill="#10f060"/>
<path d="M238.16 432.52 L243.92 432.39 L238.11 431.01 L232.35 431.23Z" fill="#10f060"/>
<path d="M105.17 452.59 L110.9 449.25 L105.21 450.19 L99.5 453.62Z" fill="#10c8f0"/>
<path d="M116.59 448.4 L122.34 445.34 L116.63 446.1 L110.9 449.25Z" fill="#10c8f0"/>
<path d="M139.59 441.44 L145.37 438.94 L139.61 439.32 L133.84 441.91Z" fill="#10f0c0"/>
<path d="M162.72 436.39 L168.53 434.45 L162.74 434.43 L156.94 436.46Z" fill="#10f060"/>
<path d="M174.33 434.58 L180.13 432.92 L174.33 432.7 L168.53 434.45Z" fill="#10f060"/>
<path d="M197.56 432.42 L203.37 431.3 L197.55 430.66 L191.75 431.87Z" fill="#10f060"/>
<path d="M220.8 432.21 L226.58 431.63 L220.77 430.56 L214.98 431.22Z" fill="#10f060"/>
<path d="M232.39 432.83 L238.16 432.52 L232.35 431.23 L226.58 431.63Z" fill="#10f060"/>
<path d="M243.97 433.95 L249.71 433.9 L243.92 432.39 L238.16 432.52Z" fill="#10f060"/>
<path d="M128.07 444.69 L133.84 441.91 L128.1 442.48 L122.34 445.34Z" fill="#10f0c0"/>
<path d="M151.14 438.68 L156.94 436.46 L151.16 436.64 L145.37 438.94Z" fill="#10f0c0"/>
<path d="M185.94 433.26 L191.75 431.87 L185.94 431.44 L180.13 432.92Z" fill="#10f060"/>
<path d="M209.19 432.07 L214.98 431.22 L209.17 430.37 L203.37 431.3Z" fill="#10f060"/>
<path d="M110.86 451.67 L116.59 448.4 L110.9 449.25 L105.17 452.59Z" fill="#10c8f0"/>
<path d="M168.52 436.44 L174.33 434.58 L168.53 434.45 L162.72 436.39Z" fill="#10f060"/>
<path d="M226.61 433.32 L232.39 432.83 L226.58 431.63 L220.8 432.21Z" fill="#10f060"/>
<path d="M238.2 434.17 L243.97 433.95 L238.16 432.52 L232.39 432.83Z" fill="#10f060"/>
<path d="M122.31 447.67 L128.07 444.69 L122.34 445.34 L116.59 448.4Z" fill="#10f0c0"/>
<path d="M180.13 434.84 L185.94 433.26 L180.13 432.92 L174.33 434.58Z" fill="#10f060"/>
<path d="M249.77 435.51 L255.51 435.55 L249.71 433.9 L243.97 433.95Z" fill="#10f060"/>
<path d="M99.46 456.15 L105.17 452.59 L99.5 453.62 L93.81 457.25Z" fill="#10c8f0"/>
<path d="M133.81 444.14 L139.59 441.44 L133.84 441.91 L128.07 444.69Z" fill="#10f0c0"/>
<path d="M145.35 441.09 L151.14 438.68 L145.37 438.94 L139.59 441.44Z" fill="#10f0c0"/>
<path d="M156.92 438.52 L162.72 436.39 L156.94 436.46 L151.14 438.68Z" fill="#10f060"/>
<path d="M191.76 433.72 L197.56 432.42 L191.75 431.87 L185.94 433.26Z" fill="#10f060"/>
<path d="M203.38 433.1 L209.19 432.07 L203.37 431.3 L197.56 432.42Z" fill="#10f060"/>
<path d="M215 432.97 L220.8 432.21 L214.98 431.22 L209.19 432.07Z" fill="#10f060"/>
<path d="M116.56 450.86 L122.31 447.67 L116.59 448.4 L110.86 451.67Z" fill="#10c8f0"/>
<path d="M244.01 435.65 L249.77 435.51 L243.97 433.95 L238.2 434.17Z" fill="#10f060"/>
<path d="M93.76 459.91 L99.46 456.15 L93.81 457.25 L88.13 461.09Z" fill="#1070f0"/>
<path d="M105.13 455.15 L110.86 451.67 L105.17 452.59 L99.46 456.15Z" fill="#10c8f0"/>
<path d="M128.04 447.04 L133.81 444.14 L128.07 444.69 L122.31 447.67Z" fill="#10f0c0"/>
<path d="M162.71 438.49 L168.52 436.44 L162.72 436.39 L156.92 438.52Z" fill="#10f060"/>
<path d="M174.32 436.61 L180.13 434.84 L174.33 434.58 L168.52 436.44Z" fill="#10f060"/>
<path d="M185.94 435.22 L191.76 433.72 L185.94 433.26 L180.13 434.84Z" fill="#10f060"/>
<path d="M220.82 433.99 L226.61 433.32 L220.8 432.21 L215 432.97Z" fill="#10f060"/>
<path d="M232.43 434.57 L238.2 434.17 L232.39 432.83 L226.61 433.32Z" fill="#10f060"/>
<path d="M255.56 437.21 L261.3 437.34 L255.51 435.55 L249.77 435.51Z" fill="#10f060"/>
<path d="M139.56 443.71 L145.35 441.09 L139.59 441.44 L133.81 444.14Z" fill="#10f0c0"/>
<path d="M151.12 440.86 L156.92 438.52 L151.14 438.68 L145.35 441.09Z" fill="#10f060"/>
<path d="M197.57 434.32 L203.38 433.1 L197.56 432.42 L191.76 433.72Z" fill="#10f060"/>
<path d="M209.2 433.91 L215 432.97 L209.19 432.07 L203.38 433.1Z" fill="#10f060"/>
<path d="M99.42 458.83 L105.13 455.15 L99.46 456.15 L93.76 459.91Z" fill="#10c8f0"/>
<path d="M110.82 454.25 L116.56 450.86 L110.86 451.67 L105.13 455.15Z" fill="#10c8f0"/>
<path d="M122.28 450.15 L128.04 447.04 L122.31 447.67 L116.56 450.86Z" fill="#10f0c0"/>
<path d="M226.64 435.16 L232.43 434.57 L226.61 433.32 L220.82 433.99Z" fill="#10f060"/>
<path d="M249.82 437.26 L255.56 437.21 L249.77 435.51 L244.01 435.65Z" fill="#10f060"/>
<path d="M133.78 446.53 L139.56 443.71 L133.81 444.14 L128.04 447.04Z" fill="#10f0c0"/>
<path d="M156.9 440.74 L162.71 438.49 L156.92 438.52 L151.12 440.86Z" fill="#10f060"/>
<path d="M168.51 438.57 L174.32 436.61 L168.52 436.44 L162.71 438.49Z" fill="#10f060"/>
<path d="M180.13 436.9 L185.94 435.22 L180.13 434.84 L174.32 436.61Z" fill="#10f060"/>
<path d="M191.76 435.72 L197.57 434.32 L191.76 433.72 L185.94 435.22Z" fill="#10f060"/>
<path d="M215.03 434.85 L220.82 433.99 L215 432.97 L209.2 433.91Z" fill="#10f060"/>
<path d="M238.24 435.96 L244.01 435.65 L238.2 434.17 L232.43 434.57Z" fill="#10f060"/>
<path d="M88.08 463.89 L93.76 459.91 L88.13 461.09 L82.46 465.15Z" fill="#1070f0"/>
<path d="M145.33 443.39 L151.12 440.86 L145.35 441.09 L139.56 443.71Z" fill="#10f060"/>
<path d="M203.39 435.04 L209.2 433.91 L203.38 433.1 L197.57 434.32Z" fill="#10f060"/>
<path d="M261.36 439.05 L267.08 439.26 L261.3 437.34 L255.56 437.21Z" fill="#10f060"/>
<path d="M93.72 462.73 L99.42 458.83 L93.76 459.91 L88.08 463.89Z" fill="#10c8f0"/>
<path d="M116.53 453.46 L122.28 450.15 L116.56 450.86 L110.82 454.25Z" fill="#10f0c0"/>
<path d="M220.85 435.92 L226.64 435.16 L220.82 433.99 L215.03 434.85Z" fill="#10f060"/>
<path d="M244.05 437.49 L249.82 437.26 L244.01 435.65 L238.24 435.96Z" fill="#10f060"/>
<path d="M82.42 468.08 L88.08 463.89 L82.46 465.15 L76.82 469.41Z" fill="#1070f0"/>
<path d="M105.09 457.86 L110.82 454.25 L105.13 455.15 L99.42 458.83Z" fill="#10c8f0"/>
<path d="M128.01 449.55 L133.78 446.53 L128.04 447.04 L122.28 450.15Z" fill="#10f0c0"/>
<path d="M139.54 446.12 L145.33 443.39 L139.56 443.71 L133.78 446.53Z" fill="#10f0c0"/>
<path d="M151.1 443.19 L156.9 440.74 L151.12 440.86 L145.33 443.39Z" fill="#10f060"/>
<path d="M162.7 440.74 L168.51 438.57 L162.71 438.49 L156.9 440.74Z" fill="#10f060"/>
<path d="M174.31 438.78 L180.13 436.9 L174.32 436.61 L168.51 438.57Z" fill="#10f060"/>
<path d="M185.94 437.32 L191.76 435.72 L185.94 435.22 L180.13 436.9Z" fill="#10f060"/>
<path d="M197.58 436.36 L203.39 435.04 L197.57 434.32 L191.76 435.72Z" fill="#10f060"/>
<path d="M209.22 435.89 L215.03 434.85 L209.2 433.91 L203.39 435.04Z" fill="#10f060"/>
<path d="M232.46 436.46 L238.24 435.96 L232.43 434.57 L226.64 435.16Z" fill="#10f060"/>
<path d="M255.62 439.02 L261.36 439.05 L255.56 437.21 L249.82 437.26Z" fill="#10f060"/>
<path d="M267.14 441.03 L272.86 441.31 L267.08 439.26 L261.36 439.05Z" fill="#10f060"/>
<path d="M76.78 472.48 L82.42 468.08 L76.82 469.41 L71.19 473.9Z" fill="#1070f0"/>
<path d="M88.04 466.84 L93.72 462.73 L88.08 463.89 L82.42 468.08Z" fill="#1070f0"/>
<path d="M110.79 456.98 L116.53 453.46 L110.82 454.25 L105.09 457.86Z" fill="#10c8f0"/>
<path d="M133.75 449.06 L139.54 446.12 L133.78 446.53 L128.01 449.55Z" fill="#10f0c0"/>
<path d="M145.3 445.84 L151.1 443.19 L145.33 443.39 L139.54 446.12Z" fill="#10f060"/>
<path d="M203.4 437.12 L209.22 435.89 L203.39 435.04 L197.58 436.36Z" fill="#10f018"/>
<path d="M226.67 437.13 L232.46 436.46 L226.64 435.16 L220.85 435.92Z" fill="#10f060"/>
<path d="M249.86 439.15 L255.62 439.02 L249.82 437.26 L244.05 437.49Z" fill="#10f060"/>
<path d="M261.41 440.91 L267.14 441.03 L261.36 439.05 L255.62 439.02Z" fill="#10f060"/>
<path d="M99.38 461.67 L105.09 457.86 L99.42 458.83 L93.72 462.73Z" fill="#10c8f0"/>
<path d="M122.25 452.78 L128.01 449.55 L122.28 450.15 L116.53 453.46Z" fill="#10f0c0"/>
<path d="M215.04 436.88 L220.85 435.92 L215.03 434.85 L209.22 435.89Z" fill="#10f018"/>
<path d="M238.28 437.89 L244.05 437.49 L238.24 435.96 L232.46 436.46Z" fill="#10f060"/>
<path d="M272.92 443.14 L278.63 443.49 L272.86 441.31 L267.14 441.03Z" fill="#10f060"/>
<path d="M156.89 443.1 L162.7 440.74 L156.9 440.74 L151.1 443.19Z" fill="#10f060"/>
<path d="M168.5 440.86 L174.31 438.78 L168.51 438.57 L162.7 440.74Z" fill="#10f060"/>
<path d="M180.12 439.11 L185.94 437.32 L180.13 436.9 L174.31 438.78Z" fill="#10f060"/>
<path d="M191.76 437.87 L197.58 436.36 L191.76 435.72 L185.94 437.32Z" fill="#10f060"/>
<path d="M82.38 471.16 L88.04 466.84 L82.42 468.08 L76.78 472.48Z" fill="#1070f0"/>
<path d="M139.51 448.69 L145.3 445.84 L139.54 446.12 L133.75 449.06Z" fill="#10f060"/>
<path d="M209.23 438.02 L215.04 436.88 L209.22 435.89 L203.4 437.12Z" fill="#10f018"/>
<path d="M267.2 442.94 L272.92 443.14 L267.14 441.03 L261.41 440.91Z" fill="#10f060"/>
<path d="M93.69 465.7 L99.38 461.67 L93.72 462.73 L88.04 466.84Z" fill="#10c8f0"/>
<path d="M151.08 445.67 L156.89 443.1 L151.1 443.19 L145.3 445.84Z" fill="#10f060"/>
<path d="M197.59 438.54 L203.4 437.12 L197.58 436.36 L191.76 437.87Z" fill="#10f018"/>
<path d="M255.66 440.96 L261.41 440.91 L255.62 439.02 L249.86 439.15Z" fill="#10f060"/>
<path d="M71.15 477.1 L76.78 472.48 L71.19 473.9 L65.59 478.6Z" fill="#1040e8"/>
<path d="M105.06 460.72 L110.79 456.98 L105.09 457.86 L99.38 461.67Z" fill="#10c8f0"/>
<path d="M116.49 456.22 L122.25 452.78 L116.53 453.46 L110.79 456.98Z" fill="#10f0c0"/>
<path d="M127.98 452.21 L133.75 449.06 L128.01 449.55 L122.25 452.78Z" fill="#10f0c0"/>
<path d="M220.87 438 L226.67 437.13 L220.85 435.92 L215.04 436.88Z" fill="#10f018"/>
<path d="M232.49 438.48 L238.28 437.89 L232.46 436.46 L226.67 437.13Z" fill="#10f060"/>
<path d="M244.09 439.47 L249.86 439.15 L244.05 437.49 L238.28 437.89Z" fill="#10f060"/>
<path d="M278.69 445.37 L284.39 445.78 L278.63 443.49 L272.92 443.14Z" fill="#10f060"/>
<path d="M162.68 443.14 L168.5 440.86 L162.7 440.74 L156.89 443.1Z" fill="#10f060"/>
<path d="M174.3 441.1 L180.12 439.11 L174.31 438.78 L168.5 440.86Z" fill="#10f060"/>
<path d="M185.94 439.57 L191.76 437.87 L185.94 437.32 L180.12 439.11Z" fill="#10f060"/>
<path d="M76.74 475.71 L82.38 471.16 L76.78 472.48 L71.15 477.1Z" fill="#1070f0"/>
<path d="M88.01 469.95 L93.69 465.7 L88.04 466.84 L82.38 471.16Z" fill="#1070f0"/>
<path d="M133.73 451.76 L139.51 448.69 L133.75 449.06 L127.98 452.21Z" fill="#10f0c0"/>
<path d="M145.28 448.44 L151.08 445.67 L145.3 445.84 L139.51 448.69Z" fill="#10f060"/>
<path d="M203.41 439.35 L209.23 438.02 L203.4 437.12 L197.59 438.54Z" fill="#10f018"/>
<path d="M215.06 439.05 L220.87 438 L215.04 436.88 L209.23 438.02Z" fill="#10f018"/>
<path d="M261.46 442.91 L267.2 442.94 L261.41 440.91 L255.66 440.96Z" fill="#10f060"/>
<path d="M272.98 445.1 L278.69 445.37 L272.92 443.14 L267.2 442.94Z" fill="#10f060"/>
<path d="M65.55 481.95 L71.15 477.1 L65.59 478.6 L60.01 483.52Z" fill="#1040e8"/>
<path d="M99.35 464.67 L105.06 460.72 L99.38 461.67 L93.69 465.7Z" fill="#10c8f0"/>
<path d="M156.87 445.62 L162.68 443.14 L156.89 443.1 L151.08 445.67Z" fill="#10f060"/>
<path d="M191.76 440.16 L197.59 438.54 L191.76 437.87 L185.94 439.57Z" fill="#10f018"/>
<path d="M249.9 441.19 L255.66 440.96 L249.86 439.15 L244.09 439.47Z" fill="#10f060"/>
<path d="M284.46 447.72 L290.14 448.18 L284.39 445.78 L278.69 445.37Z" fill="#10f0c0"/>
<path d="M110.76 459.88 L116.49 456.22 L110.79 456.98 L105.06 460.72Z" fill="#10f0c0"/>
<path d="M122.22 455.57 L127.98 452.21 L122.25 452.78 L116.49 456.22Z" fill="#10f0c0"/>
<path d="M226.69 439.26 L232.49 438.48 L226.67 437.13 L220.87 438Z" fill="#10f018"/>
<path d="M238.31 439.97 L244.09 439.47 L238.28 437.89 L232.49 438.48Z" fill="#10f018"/>
<path d="M168.49 443.3 L174.3 441.1 L168.5 440.86 L162.68 443.14Z" fill="#10f060"/>
<path d="M180.12 441.48 L185.94 439.57 L180.12 439.11 L174.3 441.1Z" fill="#10f060"/>
<path d="M71.12 480.48 L76.74 475.71 L71.15 477.1 L65.55 481.95Z" fill="#1070f0"/>
<path d="M278.76 447.4 L284.46 447.72 L278.69 445.37 L272.98 445.1Z" fill="#10f060"/>
<path d="M59.97 487.02 L65.55 481.95 L60.01 483.52 L54.45 488.66Z" fill="#1040e8"/>
<path d="M82.35 474.42 L88.01 469.95 L82.38 471.16 L76.74 475.71Z" fill="#1070f0"/>
<path d="M93.66 468.84 L99.35 464.67 L93.69 465.7 L88.01 469.95Z" fill="#10c8f0"/>
<path d="M127.96 455.03 L133.73 451.76 L127.98 452.21 L122.22 455.57Z" fill="#10f0c0"/>
<path d="M139.49 451.42 L145.28 448.44 L139.51 448.69 L133.73 451.76Z" fill="#10f060"/>
<path d="M151.07 448.3 L156.87 445.62 L151.08 445.67 L145.28 448.44Z" fill="#10f060"/>
<path d="M197.59 440.88 L203.41 439.35 L197.59 438.54 L191.76 440.16Z" fill="#10f018"/>
<path d="M209.24 440.3 L215.06 439.05 L209.23 438.02 L203.41 439.35Z" fill="#10f018"/>
<path d="M220.89 440.22 L226.69 439.26 L220.87 438 L215.06 439.05Z" fill="#10f018"/>
<path d="M255.71 443.05 L261.46 442.91 L255.66 440.96 L249.9 441.19Z" fill="#10f060"/>
<path d="M267.25 445 L272.98 445.1 L267.2 442.94 L261.46 442.91Z" fill="#10f060"/>
<path d="M290.22 450.18 L295.89 450.64 L290.14 448.18 L284.46 447.72Z" fill="#10f0c0"/>
<path d="M105.03 463.74 L110.76 459.88 L105.06 460.72 L99.35 464.67Z" fill="#10c8f0"/>
<path d="M162.67 445.69 L168.49 443.3 L162.68 443.14 L156.87 445.62Z" fill="#10f060"/>
<path d="M185.94 441.98 L191.76 440.16 L185.94 439.57 L180.12 441.48Z" fill="#10f018"/>
<path d="M244.13 441.6 L249.9 441.19 L244.09 439.47 L238.31 439.97Z" fill="#10f018"/>
<path d="M116.47 459.14 L122.22 455.57 L116.49 456.22 L110.76 459.88Z" fill="#10f0c0"/>
<path d="M232.52 440.66 L238.31 439.97 L232.49 438.48 L226.69 439.26Z" fill="#10f018"/>
<path d="M174.3 443.58 L180.12 441.48 L174.3 441.1 L168.49 443.3Z" fill="#10f060"/>
<path d="M65.52 485.47 L71.12 480.48 L65.55 481.95 L59.97 487.02Z" fill="#1040e8"/>
<path d="M284.52 449.82 L290.22 450.18 L284.46 447.72 L278.76 447.4Z" fill="#10f060"/>
<path d="M76.71 479.11 L82.35 474.42 L76.74 475.71 L71.12 480.48Z" fill="#1070f0"/>
<path d="M273.04 447.22 L278.76 447.4 L272.98 445.1 L267.25 445Z" fill="#10f060"/>
<path d="M54.42 492.32 L59.97 487.02 L54.45 488.66 L48.92 494.03Z" fill="#1040e8"/>
<path d="M87.98 473.23 L93.66 468.84 L88.01 469.95 L82.35 474.42Z" fill="#10c8f0"/>
<path d="M99.32 467.83 L105.03 463.74 L99.35 464.67 L93.66 468.84Z" fill="#10c8f0"/>
<path d="M122.19 458.52 L127.96 455.03 L122.22 455.57 L116.47 459.14Z" fill="#10f0c0"/>
<path d="M133.71 454.61 L139.49 451.42 L133.73 451.76 L127.96 455.03Z" fill="#10f0c0"/>
<path d="M145.26 451.2 L151.07 448.3 L145.28 448.44 L139.49 451.42Z" fill="#10f060"/>
<path d="M156.86 448.29 L162.67 445.69 L156.87 445.62 L151.07 448.3Z" fill="#10f060"/>
<path d="M191.76 442.61 L197.59 440.88 L191.76 440.16 L185.94 441.98Z" fill="#10f018"/>
<path d="M203.42 441.74 L209.24 440.3 L203.41 439.35 L197.59 440.88Z" fill="#10f018"/>
<path d="M215.07 441.38 L220.89 440.22 L215.06 439.05 L209.24 440.3Z" fill="#10f018"/>
<path d="M226.71 441.53 L232.52 440.66 L226.69 439.26 L220.89 440.22Z" fill="#10f018"/>
<path d="M249.94 443.38 L255.71 443.05 L249.9 441.19 L244.13 441.6Z" fill="#10f060"/>
<path d="M261.51 445.06 L267.25 445 L261.46 442.91 L255.71 443.05Z" fill="#10f060"/>
<path d="M295.97 452.71 L301.64 453.14 L295.89 450.64 L290.22 450.18Z" fill="#10f0c0"/>
<path d="M110.73 462.93 L116.47 459.14 L110.76 459.88 L105.03 463.74Z" fill="#10f0c0"/>
<path d="M168.48 445.89 L174.3 443.58 L168.49 443.3 L162.67 445.69Z" fill="#10f060"/>
<path d="M180.11 443.99 L185.94 441.98 L180.12 441.48 L174.3 443.58Z" fill="#10f018"/>
<path d="M238.34 442.2 L244.13 441.6 L238.31 439.97 L232.52 440.66Z" fill="#10f018"/>
<path d="M59.95 490.69 L65.52 485.47 L59.97 487.02 L54.42 492.32Z" fill="#1040e8"/>
<path d="M71.09 484.02 L76.71 479.11 L71.12 480.48 L65.52 485.47Z" fill="#1070f0"/>
<path d="M278.81 449.59 L284.52 449.82 L278.76 447.4 L273.04 447.22Z" fill="#10f060"/>
<path d="M290.28 452.34 L295.97 452.71 L290.22 450.18 L284.52 449.82Z" fill="#10f060"/>
<path d="M82.32 477.84 L87.98 473.23 L82.35 474.42 L76.71 479.11Z" fill="#1070f0"/>
<path d="M116.44 462.22 L122.19 458.52 L116.47 459.14 L110.73 462.93Z" fill="#10f0c0"/>
<path d="M174.29 446.21 L180.11 443.99 L174.3 443.58 L168.48 445.89Z" fill="#10f018"/>
<path d="M232.54 442.98 L238.34 442.2 L232.52 440.66 L226.71 441.53Z" fill="#10f018"/>
<path d="M267.3 447.21 L273.04 447.22 L267.25 445 L261.51 445.06Z" fill="#10f060"/>
<path d="M93.63 472.14 L99.32 467.83 L93.66 468.84 L87.98 473.23Z" fill="#10c8f0"/>
<path d="M105 466.93 L110.73 462.93 L105.03 463.74 L99.32 467.83Z" fill="#10c8f0"/>
<path d="M127.93 458.01 L133.71 454.61 L127.96 455.03 L122.19 458.52Z" fill="#10f0c0"/>
<path d="M139.47 454.3 L145.26 451.2 L139.49 451.42 L133.71 454.61Z" fill="#10f060"/>
<path d="M151.05 451.1 L156.86 448.29 L151.07 448.3 L145.26 451.2Z" fill="#10f060"/>
<path d="M162.66 448.4 L168.48 445.89 L162.67 445.69 L156.86 448.29Z" fill="#10f060"/>
<path d="M185.94 444.54 L191.76 442.61 L185.94 441.98 L180.11 443.99Z" fill="#10f018"/>
<path d="M197.59 443.38 L203.42 441.74 L197.59 440.88 L191.76 442.61Z" fill="#10f018"/>
<path d="M209.25 442.73 L215.07 441.38 L209.24 440.3 L203.42 441.74Z" fill="#10f018"/>
<path d="M220.9 442.6 L226.71 441.53 L220.89 440.22 L215.07 441.38Z" fill="#10f018"/>
<path d="M244.16 443.88 L249.94 443.38 L244.13 441.6 L238.34 442.2Z" fill="#10f018"/>
<path d="M255.75 445.3 L261.51 445.06 L255.71 443.05 L249.94 443.38Z" fill="#10f060"/>
<path d="M65.49 489.16 L71.09 484.02 L65.52 485.47 L59.95 490.69Z" fill="#1040e8"/>
<path d="M76.68 482.67 L82.32 477.84 L76.71 479.11 L71.09 484.02Z" fill="#1070f0"/>
<path d="M110.7 466.15 L116.44 462.22 L110.73 462.93 L105 466.93Z" fill="#10f0c0"/>
<path d="M168.46 448.64 L174.29 446.21 L168.48 445.89 L162.66 448.4Z" fill="#10f018"/>
<path d="M180.11 446.67 L185.94 444.54 L180.11 443.99 L174.29 446.21Z" fill="#10f018"/>
<path d="M238.36 444.58 L244.16 443.88 L238.34 442.2 L232.54 442.98Z" fill="#10f018"/>
<path d="M273.09 449.5 L278.81 449.59 L273.04 447.22 L267.3 447.21Z" fill="#10f060"/>
<path d="M284.58 452.07 L290.28 452.34 L284.52 449.82 L278.81 449.59Z" fill="#10f060"/>
<path d="M87.95 476.67 L93.63 472.14 L87.98 473.23 L82.32 477.84Z" fill="#10c8f0"/>
<path d="M122.17 461.63 L127.93 458.01 L122.19 458.52 L116.44 462.22Z" fill="#10f0c0"/>
<path d="M226.73 443.96 L232.54 442.98 L226.71 441.53 L220.9 442.6Z" fill="#10f018"/>
<path d="M261.55 447.36 L267.3 447.21 L261.51 445.06 L255.75 445.3Z" fill="#10f060"/>
<path d="M99.29 471.16 L105 466.93 L99.32 467.83 L93.63 472.14Z" fill="#10c8f0"/>
<path d="M133.69 457.62 L139.47 454.3 L133.71 454.61 L127.93 458.01Z" fill="#10f060"/>
<path d="M145.25 454.12 L151.05 451.1 L145.26 451.2 L139.47 454.3Z" fill="#10f060"/>
<path d="M156.84 451.13 L162.66 448.4 L156.86 448.29 L151.05 451.1Z" fill="#10f060"/>
<path d="M191.76 445.22 L197.59 443.38 L191.76 442.61 L185.94 444.54Z" fill="#10f018"/>
<path d="M203.42 444.28 L209.25 442.73 L203.42 441.74 L197.59 443.38Z" fill="#10f018"/>
<path d="M215.08 443.86 L220.9 442.6 L215.07 441.38 L209.25 442.73Z" fill="#10f018"/>
<path d="M249.97 445.71 L255.75 445.3 L249.94 443.38 L244.16 443.88Z" fill="#10f018"/>
<path d="M174.28 449.01 L180.11 446.67 L174.29 446.21 L168.46 448.64Z" fill="#10f018"/>
<path d="M71.07 487.74 L76.68 482.67 L71.09 484.02 L65.49 489.16Z" fill="#1070f0"/>
<path d="M82.3 481.43 L87.95 476.67 L82.32 477.84 L76.68 482.67Z" fill="#1070f0"/>
<path d="M104.98 470.29 L110.7 466.15 L105 466.93 L99.29 471.16Z" fill="#10c8f0"/>
<path d="M116.42 465.47 L122.17 461.63 L116.44 462.22 L110.7 466.15Z" fill="#10f0c0"/>
<path d="M162.64 451.28 L168.46 448.64 L162.66 448.4 L156.84 451.13Z" fill="#10f060"/>
<path d="M185.93 447.26 L191.76 445.22 L185.94 444.54 L180.11 446.67Z" fill="#10f018"/>
<path d="M232.56 445.46 L238.36 444.58 L232.54 442.98 L226.73 443.96Z" fill="#10f018"/>
<path d="M244.18 446.32 L249.97 445.71 L244.16 443.88 L238.36 444.58Z" fill="#10f018"/>
<path d="M267.34 449.57 L273.09 449.5 L267.3 447.21 L261.55 447.36Z" fill="#10f060"/>
<path d="M278.86 451.93 L284.58 452.07 L278.81 449.59 L273.09 449.5Z" fill="#10f060"/>
<path d="M93.6 475.61 L99.29 471.16 L93.63 472.14 L87.95 476.67Z" fill="#10c8f0"/>
<path d="M127.91 461.16 L133.69 457.62 L127.93 458.01 L122.17 461.63Z" fill="#10f0c0"/>
<path d="M220.92 445.13 L226.73 443.96 L220.9 442.6 L215.08 443.86Z" fill="#10f018"/>
<path d="M255.78 447.69 L261.55 447.36 L255.75 445.3 L249.97 445.71Z" fill="#10f018"/>
<path d="M139.45 457.36 L145.25 454.12 L139.47 454.3 L133.69 457.62Z" fill="#10f060"/>
<path d="M151.03 454.06 L156.84 451.13 L151.05 451.1 L145.25 454.12Z" fill="#10f060"/>
<path d="M197.59 446.03 L203.42 444.28 L197.59 443.38 L191.76 445.22Z" fill="#10f018"/>
<path d="M209.26 445.32 L215.08 443.86 L209.25 442.73 L203.42 444.28Z" fill="#10f018"/>
<path d="M99.27 474.66 L104.98 470.29 L99.29 471.16 L93.6 475.61Z" fill="#10c8f0"/>
<path d="M168.45 451.56 L174.28 449.01 L168.46 448.64 L162.64 451.28Z" fill="#10f018"/>
<path d="M180.1 449.51 L185.93 447.26 L180.11 446.67 L174.28 449.01Z" fill="#10f018"/>
<path d="M250 448.21 L255.78 447.69 L249.97 445.71 L244.18 446.32Z" fill="#10f018"/>
<path d="M76.66 486.41 L82.3 481.43 L76.68 482.67 L71.07 487.74Z" fill="#1070f0"/>
<path d="M110.68 469.54 L116.42 465.47 L110.7 466.15 L104.98 470.29Z" fill="#10f0c0"/>
<path d="M191.76 447.98 L197.59 446.03 L191.76 445.22 L185.93 447.26Z" fill="#10f018"/>
<path d="M226.75 446.54 L232.56 445.46 L226.73 443.96 L220.92 445.13Z" fill="#10f018"/>
<path d="M261.58 449.82 L267.34 449.57 L261.55 447.36 L255.78 447.69Z" fill="#10f018"/>
<path d="M87.93 480.29 L93.6 475.61 L87.95 476.67 L82.3 481.43Z" fill="#10c8f0"/>
<path d="M122.15 464.92 L127.91 461.16 L122.17 461.63 L116.42 465.47Z" fill="#10f0c0"/>
<path d="M133.67 460.81 L139.45 457.36 L133.69 457.62 L127.91 461.16Z" fill="#10f060"/>
<path d="M156.83 454.12 L162.64 451.28 L156.84 451.13 L151.03 454.06Z" fill="#10f060"/>
<path d="M215.09 446.5 L220.92 445.13 L215.08 443.86 L209.26 445.32Z" fill="#10f018"/>
<path d="M238.38 447.12 L244.18 446.32 L238.36 444.58 L232.56 445.46Z" fill="#10f018"/>
<path d="M273.13 451.93 L278.86 451.93 L273.09 449.5 L267.34 449.57Z" fill="#10f060"/>
<path d="M145.23 457.21 L151.03 454.06 L145.25 454.12 L139.45 457.36Z" fill="#10f060"/>
<path d="M203.43 446.98 L209.26 445.32 L203.42 444.28 L197.59 446.03Z" fill="#10f018"/>
<path d="M255.81 450.25 L261.58 449.82 L255.78 447.69 L250 448.21Z" fill="#10f018"/>
<path d="M93.58 479.26 L99.27 474.66 L93.6 475.61 L87.93 480.29Z" fill="#10c8f0"/>
<path d="M104.96 473.82 L110.68 469.54 L104.98 470.29 L99.27 474.66Z" fill="#10f0c0"/>
<path d="M127.89 464.48 L133.67 460.81 L127.91 461.16 L122.15 464.92Z" fill="#10f0c0"/>
<path d="M162.63 454.32 L168.45 451.56 L162.64 451.28 L156.83 454.12Z" fill="#10f018"/>
<path d="M174.27 451.97 L180.1 449.51 L174.28 449.01 L168.45 451.56Z" fill="#10f018"/>
<path d="M185.93 450.14 L191.76 447.98 L185.93 447.26 L180.1 449.51Z" fill="#10f018"/>
<path d="M244.21 448.92 L250 448.21 L244.18 446.32 L238.38 447.12Z" fill="#10f018"/>
<path d="M82.28 485.19 L87.93 480.29 L82.3 481.43 L76.66 486.41Z" fill="#1070f0"/>
<path d="M116.4 468.9 L122.15 464.92 L116.42 465.47 L110.68 469.54Z" fill="#10f0c0"/>
<path d="M151.02 457.19 L156.83 454.12 L151.03 454.06 L145.23 457.21Z" fill="#10f060"/>
<path d="M220.93 447.82 L226.75 446.54 L220.92 445.13 L215.09 446.5Z" fill="#10f018"/>
<path d="M139.44 460.58 L145.23 457.21 L139.45 457.36 L133.67 460.81Z" fill="#10f060"/>
<path d="M197.59 448.84 L203.43 446.98 L197.59 446.03 L191.76 447.98Z" fill="#10f018"/>
<path d="M209.26 448.07 L215.09 446.5 L209.26 445.32 L203.43 446.98Z" fill="#10f018"/>
<path d="M232.58 448.11 L238.38 447.12 L232.56 445.46 L226.75 446.54Z" fill="#10f018"/>
<path d="M267.38 452.1 L273.13 451.93 L267.34 449.57 L261.58 449.82Z" fill="#10f060"/>
<path d="M99.25 478.34 L104.96 473.82 L99.27 474.66 L93.58 479.26Z" fill="#10c8f0"/>
<path d="M87.91 484.08 L93.58 479.26 L87.93 480.29 L82.28 485.19Z" fill="#10c8f0"/>
<path d="M110.66 473.1 L116.4 468.9 L110.68 469.54 L104.96 473.82Z" fill="#10f0c0"/>
<path d="M133.65 464.16 L139.44 460.58 L133.67 460.81 L127.89 464.48Z" fill="#10f060"/>
<path d="M145.22 460.47 L151.02 457.19 L145.23 457.21 L139.44 460.58Z" fill="#10f060"/>
<path d="M156.82 457.29 L162.63 454.32 L156.83 454.12 L151.02 457.19Z" fill="#10f060"/>
<path d="M168.44 454.64 L174.27 451.97 L168.45 451.56 L162.63 454.32Z" fill="#10f018"/>
<path d="M180.09 452.51 L185.93 450.14 L180.1 449.51 L174.27 451.97Z" fill="#10f018"/>
<path d="M191.76 450.92 L197.59 448.84 L191.76 447.98 L185.93 450.14Z" fill="#10f018"/>
<path d="M203.43 449.84 L209.26 448.07 L203.43 446.98 L197.59 448.84Z" fill="#10f018"/>
<path d="M215.1 449.3 L220.93 447.82 L215.09 446.5 L209.26 448.07Z" fill="#10f018"/>
<path d="M226.76 449.29 L232.58 448.11 L226.75 446.54 L220.93 447.82Z" fill="#10f018"/>
<path d="M238.4 449.81 L244.21 448.92 L238.38 447.12 L232.58 448.11Z" fill="#10f018"/>
<path d="M250.02 450.87 L255.81 450.25 L250 448.21 L244.21 448.92Z" fill="#10f018"/>
<path d="M261.61 452.44 L267.38 452.1 L261.58 449.82 L255.81 450.25Z" fill="#10f018"/>
<path d="M122.13 468.37 L127.89 464.48 L122.15 464.92 L116.4 468.9Z" fill="#10f0c0"/>
<path d="M104.94 477.53 L110.66 473.1 L104.96 473.82 L99.25 478.34Z" fill="#10f0c0"/>
<path d="M139.42 463.97 L145.22 460.47 L139.44 460.58 L133.65 464.16Z" fill="#10f060"/>
<path d="M151 460.49 L156.82 457.29 L151.02 457.19 L145.22 460.47Z" fill="#10f060"/>
<path d="M197.59 451.83 L203.43 449.84 L197.59 448.84 L191.76 450.92Z" fill="#10f018"/>
<path d="M209.27 450.99 L215.1 449.3 L209.26 448.07 L203.43 449.84Z" fill="#10f018"/>
<path d="M244.23 451.67 L250.02 450.87 L244.21 448.92 L238.4 449.81Z" fill="#10f018"/>
<path d="M255.84 452.97 L261.61 452.44 L255.81 450.25 L250.02 450.87Z" fill="#10f018"/>
<path d="M93.56 483.08 L99.25 478.34 L93.58 479.26 L87.91 484.08Z" fill="#10c8f0"/>
<path d="M116.38 472.49 L122.13 468.37 L116.4 468.9 L110.66 473.1Z" fill="#10f0c0"/>
<path d="M162.62 457.53 L168.44 454.64 L162.63 454.32 L156.82 457.29Z" fill="#10f018"/>
<path d="M174.26 455.1 L180.09 452.51 L174.27 451.97 L168.44 454.64Z" fill="#10f018"/>
<path d="M185.92 453.2 L191.76 450.92 L185.93 450.14 L180.09 452.51Z" fill="#10f018"/>
<path d="M220.93 450.68 L226.76 449.29 L220.93 447.82 L215.1 449.3Z" fill="#10f018"/>
<path d="M232.59 450.91 L238.4 449.81 L232.58 448.11 L226.76 449.29Z" fill="#10f018"/>
<path d="M127.88 467.97 L133.65 464.16 L127.89 464.48 L122.13 468.37Z" fill="#10f060"/>
<path d="M110.65 476.84 L116.38 472.49 L110.66 473.1 L104.94 477.53Z" fill="#10f0c0"/>
<path d="M145.2 463.9 L151 460.49 L145.22 460.47 L139.42 463.97Z" fill="#10f060"/>
<path d="M156.8 460.63 L162.62 457.53 L156.82 457.29 L151 460.49Z" fill="#10f060"/>
<path d="M203.43 452.88 L209.27 450.99 L203.43 449.84 L197.59 451.83Z" fill="#10f018"/>
<path d="M215.1 452.27 L220.93 450.68 L215.1 449.3 L209.27 450.99Z" fill="#10f018"/>
<path d="M250.04 453.69 L255.84 452.97 L250.02 450.87 L244.23 451.67Z" fill="#10f018"/>
<path d="M99.24 482.19 L104.94 477.53 L99.25 478.34 L93.56 483.08Z" fill="#10c8f0"/>
<path d="M122.12 472 L127.88 467.97 L122.13 468.37 L116.38 472.49Z" fill="#10f0c0"/>
<path d="M133.64 467.69 L139.42 463.97 L133.65 464.16 L127.88 467.97Z" fill="#10f060"/>
<path d="M168.43 457.9 L174.26 455.1 L168.44 454.64 L162.62 457.53Z" fill="#10f018"/>
<path d="M180.09 455.69 L185.92 453.2 L180.09 452.51 L174.26 455.1Z" fill="#10f018"/>
<path d="M191.75 454.02 L197.59 451.83 L191.76 450.92 L185.92 453.2Z" fill="#10f018"/>
<path d="M226.77 452.21 L232.59 450.91 L226.76 449.29 L220.93 450.68Z" fill="#10f018"/>
<path d="M238.42 452.68 L244.23 451.67 L238.4 449.81 L232.59 450.91Z" fill="#10f018"/>
<path d="M104.93 481.42 L110.65 476.84 L104.94 477.53 L99.24 482.19Z" fill="#10f0c0"/>
<path d="M116.37 476.27 L122.12 472 L116.38 472.49 L110.65 476.84Z" fill="#10f0c0"/>
<path d="M127.86 471.64 L133.64 467.69 L127.88 467.97 L122.12 472Z" fill="#10f060"/>
<path d="M139.41 467.54 L145.2 463.9 L139.42 463.97 L133.64 467.69Z" fill="#10f060"/>
<path d="M150.99 463.96 L156.8 460.63 L151 460.49 L145.2 463.9Z" fill="#10f060"/>
<path d="M162.61 460.91 L168.43 457.9 L162.62 457.53 L156.8 460.63Z" fill="#10f018"/>
<path d="M185.92 456.42 L191.75 454.02 L185.92 453.2 L180.09 455.69Z" fill="#10f018"/>
<path d="M197.59 454.98 L203.43 452.88 L197.59 451.83 L191.75 454.02Z" fill="#10f018"/>
<path d="M209.27 454.07 L215.1 452.27 L209.27 450.99 L203.43 452.88Z" fill="#10f018"/>
<path d="M220.94 453.71 L226.77 452.21 L220.93 450.68 L215.1 452.27Z" fill="#10f018"/>
<path d="M232.6 453.88 L238.42 452.68 L232.59 450.91 L226.77 452.21Z" fill="#10f018"/>
<path d="M244.24 454.6 L250.04 453.69 L244.23 451.67 L238.42 452.68Z" fill="#10f018"/>
<path d="M174.25 458.4 L180.09 455.69 L174.26 455.1 L168.43 457.9Z" fill="#10f018"/>
<path d="M122.1 475.82 L127.86 471.64 L122.12 472 L116.37 476.27Z" fill="#10f0c0"/>
<path d="M133.62 471.4 L139.41 467.54 L133.64 467.69 L127.86 471.64Z" fill="#10f060"/>
<path d="M215.1 455.42 L220.94 453.71 L215.1 452.27 L209.27 454.07Z" fill="#10f018"/>
<path d="M226.77 455.29 L232.6 453.88 L226.77 452.21 L220.94 453.71Z" fill="#10f018"/>
<path d="M110.63 480.76 L116.37 476.27 L110.65 476.84 L104.93 481.42Z" fill="#10f0c0"/>
<path d="M145.19 467.51 L150.99 463.96 L145.2 463.9 L139.41 467.54Z" fill="#10f060"/>
<path d="M156.79 464.15 L162.61 460.91 L156.8 460.63 L150.99 463.96Z" fill="#10f018"/>
<path d="M168.42 461.33 L174.25 458.4 L168.43 457.9 L162.61 460.91Z" fill="#10f018"/>
<path d="M180.08 459.04 L185.92 456.42 L180.09 455.69 L174.25 458.4Z" fill="#10f018"/>
<path d="M191.75 457.29 L197.59 454.98 L191.75 454.02 L185.92 456.42Z" fill="#10f018"/>
<path d="M203.43 456.08 L209.27 454.07 L203.43 452.88 L197.59 454.98Z" fill="#10f018"/>
<path d="M238.43 455.71 L244.24 454.6 L238.42 452.68 L232.6 453.88Z" fill="#10f018"/>
<path d="M116.36 480.23 L122.1 475.82 L116.37 476.27 L110.63 480.76Z" fill="#10f0c0"/>
<path d="M127.85 475.49 L133.62 471.4 L127.86 471.64 L122.1 475.82Z" fill="#10f060"/>
<path d="M139.39 471.29 L145.19 467.51 L139.41 467.54 L133.62 471.4Z" fill="#10f060"/>
<path d="M150.98 467.61 L156.79 464.15 L150.99 463.96 L145.19 467.51Z" fill="#10f060"/>
<path d="M162.6 464.48 L168.42 461.33 L162.61 460.91 L156.79 464.15Z" fill="#10f018"/>
<path d="M174.25 461.88 L180.08 459.04 L174.25 458.4 L168.42 461.33Z" fill="#10f018"/>
<path d="M185.91 459.82 L191.75 457.29 L185.92 456.42 L180.08 459.04Z" fill="#10f018"/>
<path d="M197.59 458.3 L203.43 456.08 L197.59 454.98 L191.75 457.29Z" fill="#10f018"/>
<path d="M209.27 457.33 L215.1 455.42 L209.27 454.07 L203.43 456.08Z" fill="#10f018"/>
<path d="M220.94 456.91 L226.77 455.29 L220.94 453.71 L215.1 455.42Z" fill="#10f018"/>
<path d="M232.61 457.03 L238.43 455.71 L232.6 453.88 L226.77 455.29Z" fill="#10f018"/>
<path d="M122.09 479.81 L127.85 475.49 L122.1 475.82 L116.36 480.23Z" fill="#10f0c0"/>
<path d="M133.61 475.29 L139.39 471.29 L133.62 471.4 L127.85 475.49Z" fill="#10f060"/>
<path d="M145.18 471.3 L150.98 467.61 L145.19 467.51 L139.39 471.29Z" fill="#10f060"/>
<path d="M156.78 467.85 L162.6 464.48 L156.79 464.15 L150.98 467.61Z" fill="#10f018"/>
<path d="M168.41 464.94 L174.25 461.88 L168.42 461.33 L162.6 464.48Z" fill="#10f018"/>
<path d="M180.07 462.57 L185.91 459.82 L180.08 459.04 L174.25 461.88Z" fill="#10f018"/>
<path d="M191.74 460.74 L197.59 458.3 L191.75 457.29 L185.91 459.82Z" fill="#10f018"/>
<path d="M203.42 459.46 L209.27 457.33 L203.43 456.08 L197.59 458.3Z" fill="#10f018"/>
<path d="M215.1 458.73 L220.94 456.91 L215.1 455.42 L209.27 457.33Z" fill="#10f018"/>
<path d="M226.78 458.55 L232.61 457.03 L226.77 455.29 L220.94 456.91Z" fill="#10f018"/>
<path d="M127.84 479.53 L133.61 475.29 L127.85 475.49 L122.09 479.81Z" fill="#10f060"/>
<path d="M139.38 475.22 L145.18 471.3 L139.39 471.29 L133.61 475.29Z" fill="#10f060"/>
<path d="M150.97 471.45 L156.78 467.85 L150.98 467.61 L145.18 471.3Z" fill="#10f060"/>
<path d="M162.59 468.22 L168.41 464.94 L162.6 464.48 L156.78 467.85Z" fill="#10f018"/>
<path d="M174.24 465.54 L180.07 462.57 L174.25 461.88 L168.41 464.94Z" fill="#10f018"/>
<path d="M185.9 463.4 L191.74 460.74 L185.91 459.82 L180.07 462.57Z" fill="#10f018"/>
<path d="M197.58 461.81 L203.42 459.46 L197.59 458.3 L191.74 460.74Z" fill="#10f018"/>
<path d="M209.26 460.77 L215.1 458.73 L209.27 457.33 L203.42 459.46Z" fill="#10f018"/>
<path d="M220.94 460.28 L226.78 458.55 L220.94 456.91 L215.1 458.73Z" fill="#10f018"/>
<path d="M133.6 479.37 L139.38 475.22 L133.61 475.29 L127.84 479.53Z" fill="#10f060"/>
<path d="M145.17 475.28 L150.97 471.45 L145.18 471.3 L139.38 475.22Z" fill="#10f060"/>
<path d="M156.77 471.73 L162.59 468.22 L156.78 467.85 L150.97 471.45Z" fill="#10f018"/>
<path d="M168.41 468.73 L174.24 465.54 L168.41 464.94 L162.59 468.22Z" fill="#10f018"/>
<path d="M180.06 466.28 L185.9 463.4 L180.07 462.57 L174.24 465.54Z" fill="#10f018"/>
<path d="M191.74 464.38 L197.58 461.81 L191.74 460.74 L185.9 463.4Z" fill="#10f018"/>
<path d="M203.42 463.03 L209.26 460.77 L203.42 459.46 L197.58 461.81Z" fill="#10f018"/>
<path d="M215.1 462.23 L220.94 460.28 L215.1 458.73 L209.26 460.77Z" fill="#10f018"/>
<path d="M162.58 472.15 L168.41 468.73 L162.59 468.22 L156.77 471.73Z" fill="#10f018"/>
<path d="M197.57 465.5 L203.42 463.03 L197.58 461.81 L191.74 464.38Z" fill="#10f018"/>
<path d="M139.38 479.34 L145.17 475.28 L139.38 475.22 L133.6 479.37Z" fill="#10f060"/>
<path d="M150.96 475.48 L156.77 471.73 L150.97 471.45 L145.17 475.28Z" fill="#10f060"/>
<path d="M174.23 469.38 L180.06 466.28 L174.24 465.54 L168.41 468.73Z" fill="#10f018"/>
<path d="M185.89 467.16 L191.74 464.38 L185.9 463.4 L180.06 466.28Z" fill="#10f018"/>
<path d="M209.26 464.39 L215.1 462.23 L209.26 460.77 L203.42 463.03Z" fill="#10f018"/>
<path d="M145.16 479.45 L150.96 475.48 L145.17 475.28 L139.38 479.34Z" fill="#10f060"/>
<path d="M156.76 475.81 L162.58 472.15 L156.77 471.73 L150.96 475.48Z" fill="#10f018"/>
<path d="M168.4 472.71 L174.23 469.38 L168.41 468.73 L162.58 472.15Z" fill="#10f018"/>
<path d="M180.05 470.18 L185.89 467.16 L180.06 466.28 L174.23 469.38Z" fill="#10f018"/>
<path d="M191.73 468.2 L197.57 465.5 L191.74 464.38 L185.89 467.16Z" fill="#10f018"/>
<path d="M203.41 466.77 L209.26 464.39 L203.42 463.03 L197.57 465.5Z" fill="#10f018"/>
<path d="M150.95 479.69 L156.76 475.81 L150.96 475.48 L145.16 479.45Z" fill="#10f060"/>
<path d="M162.57 476.28 L168.4 472.71 L162.58 472.15 L156.76 475.81Z" fill="#10f018"/>
<path d="M174.22 473.42 L180.05 470.18 L174.23 469.38 L168.4 472.71Z" fill="#10f018"/>
<path d="M185.89 471.12 L191.73 468.2 L185.89 467.16 L180.05 470.18Z" fill="#10f018"/>
<path d="M197.57 469.38 L203.41 466.77 L197.57 465.5 L191.73 468.2Z" fill="#10f018"/>
<path d="M156.75 480.07 L162.57 476.28 L156.76 475.81 L150.95 479.69Z" fill="#10f018"/>
<path d="M168.39 476.89 L174.22 473.42 L168.4 472.71 L162.57 476.28Z" fill="#10f018"/>
<path d="M180.05 474.27 L185.89 471.12 L180.05 470.18 L174.22 473.42Z" fill="#10f018"/>
<path d="M191.72 472.2 L197.57 469.38 L191.73 468.2 L185.89 471.12Z" fill="#10f018"/>
<path d="M174.21 477.65 L180.05 474.27 L174.22 473.42 L168.39 476.89Z" fill="#10f018"/>
<path d="M185.88 475.26 L191.72 472.2 L185.89 471.12 L180.05 474.27Z" fill="#10f018"/>
<path d="M162.56 480.59 L168.39 476.89 L162.57 476.28 L156.75 480.07Z" fill="#10f018"/>
<path d="M168.38 481.26 L174.21 477.65 L168.39 476.89 L162.56 480.59Z" fill="#10f018"/>
<path d="M180.04 478.55 L185.88 475.26 L180.05 474.27 L174.21 477.65Z" fill="#10f018"/>
<path d="M174.2 482.07 L180.04 478.55 L174.21 477.65 L168.38 481.26Z" fill="#10f018"/>
</g>
<circle cx="180.3" cy="277.7" r="1.25" fill="#111"/>
<circle cx="149.23" cy="262.8" r="1.25" fill="#111"/>
<circle cx="118.15" cy="247.9" r="1.25" fill="#111"/>
<circle cx="87.08" cy="233" r="1.25" fill="#111"/>
<circle cx="56" cy="218.1" r="1.25" fill="#111"/>
<circle cx="180.3" cy="277.7" r="1.25" fill="#111"/>
<circle cx="211.43" cy="262.75" r="1.25" fill="#111"/>
<circle cx="242.55" cy="247.8" r="1.25" fill="#111"/>
<circle cx="273.68" cy="232.85" r="1.25" fill="#111"/>
<circle cx="304.8" cy="217.9" r="1.25" fill="#111"/>
<circle cx="174.2" cy="603.2" r="1.25" fill="#111"/>
<circle cx="143.5" cy="588.35" r="1.25" fill="#111"/>
<circle cx="112.8" cy="573.5" r="1.25" fill="#111"/>
<circle cx="82.1" cy="558.65" r="1.25" fill="#111"/>
<circle cx="51.4" cy="543.8" r="1.25" fill="#111"/>
<circle cx="174.2" cy="603.2" r="1.25" fill="#111"/>
<circle cx="187.87" cy="596.63" r="1.25" fill="#111"/>
<circle cx="201.53" cy="590.07" r="1.25" fill="#111"/>
<circle cx="215.2" cy="583.5" r="1.25" fill="#111"/>
<circle cx="228.87" cy="576.93" r="1.25" fill="#111"/>
<circle cx="242.53" cy="570.37" r="1.25" fill="#111"/>
<circle cx="256.2" cy="563.8" r="1.25" fill="#111"/>
<circle cx="269.87" cy="557.23" r="1.25" fill="#111"/>
<circle cx="283.53" cy="550.67" r="1.25" fill="#111"/>
<circle cx="297.2" cy="544.1" r="1.25" fill="#111"/>
<g style="will-change:transform">
<text x="414.4" y="281.76" font-size="7.5" fill="#1c1c1c" text-anchor="end" textLength="3.55" lengthAdjust="spacingAndGlyphs">1</text>
<text x="414.4" y="218.24" font-size="7.5" fill="#1c1c1c" text-anchor="end" textLength="8.86" lengthAdjust="spacingAndGlyphs">1.5</text>
<text x="414.4" y="154.86" font-size="7.5" fill="#1c1c1c" text-anchor="end" textLength="3.55" lengthAdjust="spacingAndGlyphs">2</text>
<text x="414.4" y="91.34" font-size="7.5" fill="#1c1c1c" text-anchor="end" textLength="8.86" lengthAdjust="spacingAndGlyphs">2.5</text>
<text x="414.4" y="27.89" font-size="7.5" fill="#1c1c1c" text-anchor="end" textLength="3.55" lengthAdjust="spacingAndGlyphs">3</text>
<text x="422" y="296.56" font-size="7.5" fill="#1c1c1c" text-anchor="middle" textLength="8.86" lengthAdjust="spacingAndGlyphs">1:1</text>
<text x="485.6" y="296.56" font-size="7.5" fill="#1c1c1c" text-anchor="middle" textLength="8.86" lengthAdjust="spacingAndGlyphs">1:2</text>
<text x="549.2" y="296.49" font-size="7.5" fill="#1c1c1c" text-anchor="middle" textLength="8.86" lengthAdjust="spacingAndGlyphs">1:3</text>
<text x="612.8" y="296.56" font-size="7.5" fill="#1c1c1c" text-anchor="middle" textLength="8.86" lengthAdjust="spacingAndGlyphs">1:4</text>
<text x="676.4" y="296.49" font-size="7.5" fill="#1c1c1c" text-anchor="middle" textLength="8.86" lengthAdjust="spacingAndGlyphs">1:5</text>
<text x="491.2" y="10.2" font-size="9.4" font-weight="bold" fill="#1a1a1a" stroke="#1a1a1a" stroke-width="0.25" textLength="90.96" lengthAdjust="spacingAndGlyphs">Particle Size (nm)</text>
<text x="435.4" y="51.8" font-size="13.2" font-weight="bold" fill="#000" textLength="8.83" lengthAdjust="spacingAndGlyphs">C</text>
<text transform="translate(381.6,199.1) rotate(-90)" font-size="8" font-weight="bold" fill="#1a1a1a" stroke="#1a1a1a" stroke-width="0.25" textLength="100.9" lengthAdjust="spacingAndGlyphs">X<tspan font-size="5.76" dy="1.76">3</tspan><tspan dy="-1.76">: Sonication time (min)</tspan></text>
<text x="498.4" y="310" font-size="7.9" font-weight="bold" fill="#1a1a1a" stroke="#1a1a1a" stroke-width="0.25" textLength="92.78" lengthAdjust="spacingAndGlyphs">X<tspan font-size="5.69" dy="1.74">1</tspan><tspan dy="-1.74">: GA: DCL molar ratio</tspan></text>
<text x="539.7" y="76.53" font-size="7.0" fill="#222" text-anchor="middle" textLength="10.28" lengthAdjust="spacingAndGlyphs">300</text>
<text x="485.05" y="168.78" font-size="7.0" fill="#222" text-anchor="middle" textLength="10.28" lengthAdjust="spacingAndGlyphs">400</text>
<text x="439.05" y="228.93" font-size="7.0" fill="#222" text-anchor="middle" textLength="10.28" lengthAdjust="spacingAndGlyphs">500</text>
<text x="660.95" y="181.58" font-size="7.0" fill="#222" text-anchor="middle" textLength="10.28" lengthAdjust="spacingAndGlyphs">400</text>
<text x="415.4" y="616.36" font-size="7.5" fill="#1c1c1c" text-anchor="end" textLength="3.55" lengthAdjust="spacingAndGlyphs">1</text>
<text x="415.4" y="552.61" font-size="7.5" fill="#1c1c1c" text-anchor="end" textLength="8.86" lengthAdjust="spacingAndGlyphs">1.5</text>
<text x="415.4" y="489.01" font-size="7.5" fill="#1c1c1c" text-anchor="end" textLength="3.55" lengthAdjust="spacingAndGlyphs">2</text>
<text x="415.4" y="425.26" font-size="7.5" fill="#1c1c1c" text-anchor="end" textLength="8.86" lengthAdjust="spacingAndGlyphs">2.5</text>
<text x="415.4" y="361.59" font-size="7.5" fill="#1c1c1c" text-anchor="end" textLength="3.55" lengthAdjust="spacingAndGlyphs">3</text>
<text x="423" y="632.29" font-size="7.5" fill="#1c1c1c" text-anchor="middle" textLength="7.09" lengthAdjust="spacingAndGlyphs">30</text>
<text x="451.39" y="632.29" font-size="7.5" fill="#1c1c1c" text-anchor="middle" textLength="7.09" lengthAdjust="spacingAndGlyphs">40</text>
<text x="479.78" y="632.29" font-size="7.5" fill="#1c1c1c" text-anchor="middle" textLength="7.09" lengthAdjust="spacingAndGlyphs">50</text>
<text x="508.17" y="632.29" font-size="7.5" fill="#1c1c1c" text-anchor="middle" textLength="7.09" lengthAdjust="spacingAndGlyphs">60</text>
<text x="536.56" y="632.29" font-size="7.5" fill="#1c1c1c" text-anchor="middle" textLength="7.09" lengthAdjust="spacingAndGlyphs">70</text>
<text x="564.94" y="632.29" font-size="7.5" fill="#1c1c1c" text-anchor="middle" textLength="7.09" lengthAdjust="spacingAndGlyphs">80</text>
<text x="593.33" y="632.29" font-size="7.5" fill="#1c1c1c" text-anchor="middle" textLength="7.09" lengthAdjust="spacingAndGlyphs">90</text>
<text x="621.72" y="632.29" font-size="7.5" fill="#1c1c1c" text-anchor="middle" textLength="10.64" lengthAdjust="spacingAndGlyphs">100</text>
<text x="650.11" y="632.29" font-size="7.5" fill="#1c1c1c" text-anchor="middle" textLength="10.16" lengthAdjust="spacingAndGlyphs">110</text>
<text x="678.5" y="632.29" font-size="7.5" fill="#1c1c1c" text-anchor="middle" textLength="10.64" lengthAdjust="spacingAndGlyphs">120</text>
<text x="490.2" y="346.4" font-size="9.4" font-weight="bold" fill="#1a1a1a" stroke="#1a1a1a" stroke-width="0.25" textLength="91.36" lengthAdjust="spacingAndGlyphs">Particle Size (nm)</text>
<text x="434.8" y="378.6" font-size="13.2" font-weight="bold" fill="#000" textLength="8.83" lengthAdjust="spacingAndGlyphs">D</text>
<text transform="translate(393.4,536.6) rotate(-90)" font-size="8" font-weight="bold" fill="#1a1a1a" stroke="#1a1a1a" stroke-width="0.25" textLength="100.5" lengthAdjust="spacingAndGlyphs">X<tspan font-size="5.76" dy="1.76">3</tspan><tspan dy="-1.76">: Sonication time (min)</tspan></text>
<text x="510.7" y="653.3" font-size="7.9" font-weight="bold" fill="#1a1a1a" stroke="#1a1a1a" stroke-width="0.25" textLength="101.73" lengthAdjust="spacingAndGlyphs">X<tspan font-size="5.69" dy="1.74">2</tspan><tspan dy="-1.74">: Incubation time (min)</tspan></text>
<text x="451.7" y="379.73" font-size="7.0" fill="#222" text-anchor="middle" textLength="10.28" lengthAdjust="spacingAndGlyphs">200</text>
<text x="480.75" y="400.18" font-size="7.0" fill="#222" text-anchor="middle" textLength="10.28" lengthAdjust="spacingAndGlyphs">250</text>
<text x="538.1" y="416.68" font-size="7.0" fill="#222" text-anchor="middle" textLength="10.28" lengthAdjust="spacingAndGlyphs">300</text>
<text x="557.6" y="486.03" font-size="7.0" fill="#222" text-anchor="middle" textLength="10.28" lengthAdjust="spacingAndGlyphs">350</text>
<text x="58" y="69.9" font-size="13.2" font-weight="bold" fill="#000" textLength="9.83" lengthAdjust="spacingAndGlyphs">A</text>
<text transform="translate(11,177.5) rotate(-90)" font-size="9.6" font-weight="bold" fill="#1a1a1a" stroke="#1a1a1a" stroke-width="0.25" textLength="89.26" lengthAdjust="spacingAndGlyphs">Particle Size (nm)</text>
<text x="49.1" y="175.38" font-size="8.2" fill="#1c1c1c" text-anchor="end" textLength="12.72" lengthAdjust="spacingAndGlyphs">100</text>
<text x="47.1" y="149.58" font-size="8.2" fill="#1c1c1c" text-anchor="end" textLength="12.72" lengthAdjust="spacingAndGlyphs">200</text>
<text x="46" y="123.18" font-size="8.2" fill="#1c1c1c" text-anchor="end" textLength="12.72" lengthAdjust="spacingAndGlyphs">300</text>
<text x="44.5" y="97.88" font-size="8.2" fill="#1c1c1c" text-anchor="end" textLength="12.72" lengthAdjust="spacingAndGlyphs">400</text>
<text x="44" y="71.98" font-size="8.2" fill="#1c1c1c" text-anchor="end" textLength="12.72" lengthAdjust="spacingAndGlyphs">500</text>
<text x="42.2" y="45.58" font-size="8.2" fill="#1c1c1c" text-anchor="end" textLength="12.72" lengthAdjust="spacingAndGlyphs">600</text>
<text x="12.8" y="273" font-size="7.9" font-weight="bold" fill="#1a1a1a" stroke="#1a1a1a" stroke-width="0.25" textLength="101.5" lengthAdjust="spacingAndGlyphs">X<tspan font-size="5.69" dy="1.74">3</tspan><tspan dy="-1.74">: Sonication time (min)</tspan></text>
<text x="235.6" y="272.8" font-size="7.9" font-weight="bold" fill="#1a1a1a" stroke="#1a1a1a" stroke-width="0.25" textLength="93.08" lengthAdjust="spacingAndGlyphs">X<tspan font-size="5.69" dy="1.74">1</tspan><tspan dy="-1.74">: GA: DCL molar ratio</tspan></text>
<text x="46.9" y="227.78" font-size="8.2" fill="#1c1c1c" text-anchor="start" textLength="4.24" lengthAdjust="spacingAndGlyphs">3</text>
<text x="69.7" y="243.38" font-size="8.2" fill="#1c1c1c" text-anchor="start" textLength="10.6" lengthAdjust="spacingAndGlyphs">2.5</text>
<text x="108.6" y="257.16" font-size="8.2" fill="#1c1c1c" text-anchor="start" textLength="4.24" lengthAdjust="spacingAndGlyphs">2</text>
<text x="134" y="272.08" font-size="8.2" fill="#1c1c1c" text-anchor="start" textLength="10.6" lengthAdjust="spacingAndGlyphs">1.5</text>
<text x="171.8" y="287.16" font-size="8.2" fill="#1c1c1c" text-anchor="start" textLength="4.24" lengthAdjust="spacingAndGlyphs">1</text>
<text x="180.5" y="287.76" font-size="8.2" fill="#1c1c1c" text-anchor="start" textLength="10.6" lengthAdjust="spacingAndGlyphs">1:1</text>
<text x="210" y="273.76" font-size="8.2" fill="#1c1c1c" text-anchor="start" textLength="10.6" lengthAdjust="spacingAndGlyphs">1:2</text>
<text x="243.5" y="256.68" font-size="8.2" fill="#1c1c1c" text-anchor="start" textLength="10.6" lengthAdjust="spacingAndGlyphs">1:3</text>
<text x="272.8" y="244.76" font-size="8.2" fill="#1c1c1c" text-anchor="start" textLength="10.6" lengthAdjust="spacingAndGlyphs">1:4</text>
<text x="304" y="229.48" font-size="8.2" fill="#1c1c1c" text-anchor="start" textLength="10.6" lengthAdjust="spacingAndGlyphs">1:5</text>
<text x="61" y="384.3" font-size="13" font-weight="bold" fill="#000" textLength="10.23" lengthAdjust="spacingAndGlyphs">B</text>
<text transform="translate(13.1,506) rotate(-90)" font-size="9.6" font-weight="bold" fill="#1a1a1a" stroke="#1a1a1a" stroke-width="0.25" textLength="90.36" lengthAdjust="spacingAndGlyphs">Particle Size (nm)</text>
<text x="44.4" y="502.08" font-size="8.2" fill="#1c1c1c" text-anchor="end" textLength="12.72" lengthAdjust="spacingAndGlyphs">100</text>
<text x="43.2" y="476.38" font-size="8.2" fill="#1c1c1c" text-anchor="end" textLength="12.72" lengthAdjust="spacingAndGlyphs">200</text>
<text x="42" y="450.48" font-size="8.2" fill="#1c1c1c" text-anchor="end" textLength="12.72" lengthAdjust="spacingAndGlyphs">300</text>
<text x="40.8" y="424.98" font-size="8.2" fill="#1c1c1c" text-anchor="end" textLength="12.72" lengthAdjust="spacingAndGlyphs">400</text>
<text x="39" y="399.58" font-size="8.2" fill="#1c1c1c" text-anchor="end" textLength="12.72" lengthAdjust="spacingAndGlyphs">500</text>
<text x="38.3" y="374.18" font-size="8.2" fill="#1c1c1c" text-anchor="end" textLength="12.72" lengthAdjust="spacingAndGlyphs">600</text>
<text x="8.7" y="599.5" font-size="7.9" font-weight="bold" fill="#1a1a1a" stroke="#1a1a1a" stroke-width="0.25" textLength="101.1" lengthAdjust="spacingAndGlyphs">X<tspan font-size="5.69" dy="1.74">3</tspan><tspan dy="-1.74">: Sonication time (min)</tspan></text>
<text x="220.8" y="612.4" font-size="7.9" font-weight="bold" fill="#1a1a1a" stroke="#1a1a1a" stroke-width="0.25" textLength="101.83" lengthAdjust="spacingAndGlyphs">X<tspan font-size="5.69" dy="1.74">2</tspan><tspan dy="-1.74">: Incubation time (min)</tspan></text>
<text x="44.4" y="553.68" font-size="8.2" fill="#1c1c1c" text-anchor="start" textLength="4.24" lengthAdjust="spacingAndGlyphs">3</text>
<text x="67" y="567.98" font-size="8.2" fill="#1c1c1c" text-anchor="start" textLength="10.6" lengthAdjust="spacingAndGlyphs">2.5</text>
<text x="103.8" y="583.26" font-size="8.2" fill="#1c1c1c" text-anchor="start" textLength="4.24" lengthAdjust="spacingAndGlyphs">2</text>
<text x="129.3" y="598.18" font-size="8.2" fill="#1c1c1c" text-anchor="start" textLength="10.6" lengthAdjust="spacingAndGlyphs">1.5</text>
<text x="166" y="612.66" font-size="8.2" fill="#1c1c1c" text-anchor="start" textLength="4.24" lengthAdjust="spacingAndGlyphs">1</text>
<text x="179.3" y="612.48" font-size="8.2" fill="#1c1c1c" text-anchor="start" textLength="8.48" lengthAdjust="spacingAndGlyphs">30</text>
<text x="192.5" y="605.88" font-size="8.2" fill="#1c1c1c" text-anchor="start" textLength="8.48" lengthAdjust="spacingAndGlyphs">40</text>
<text x="205.8" y="599.38" font-size="8.2" fill="#1c1c1c" text-anchor="start" textLength="8.48" lengthAdjust="spacingAndGlyphs">50</text>
<text x="220.1" y="592.68" font-size="8.2" fill="#1c1c1c" text-anchor="start" textLength="8.48" lengthAdjust="spacingAndGlyphs">60</text>
<text x="233.4" y="585.88" font-size="8.2" fill="#1c1c1c" text-anchor="start" textLength="8.48" lengthAdjust="spacingAndGlyphs">70</text>
<text x="246.7" y="579.78" font-size="8.2" fill="#1c1c1c" text-anchor="start" textLength="8.48" lengthAdjust="spacingAndGlyphs">80</text>
<text x="259.8" y="573.58" font-size="8.2" fill="#1c1c1c" text-anchor="start" textLength="8.48" lengthAdjust="spacingAndGlyphs">90</text>
<text x="275" y="567.08" font-size="8.2" fill="#1c1c1c" text-anchor="start" textLength="12.72" lengthAdjust="spacingAndGlyphs">100</text>
<text x="288.8" y="560.18" font-size="8.2" fill="#1c1c1c" text-anchor="start" textLength="12.16" lengthAdjust="spacingAndGlyphs">110</text>
<text x="301.7" y="553.38" font-size="8.2" fill="#1c1c1c" text-anchor="start" textLength="12.72" lengthAdjust="spacingAndGlyphs">120</text>
</g>
</svg></body></html>
